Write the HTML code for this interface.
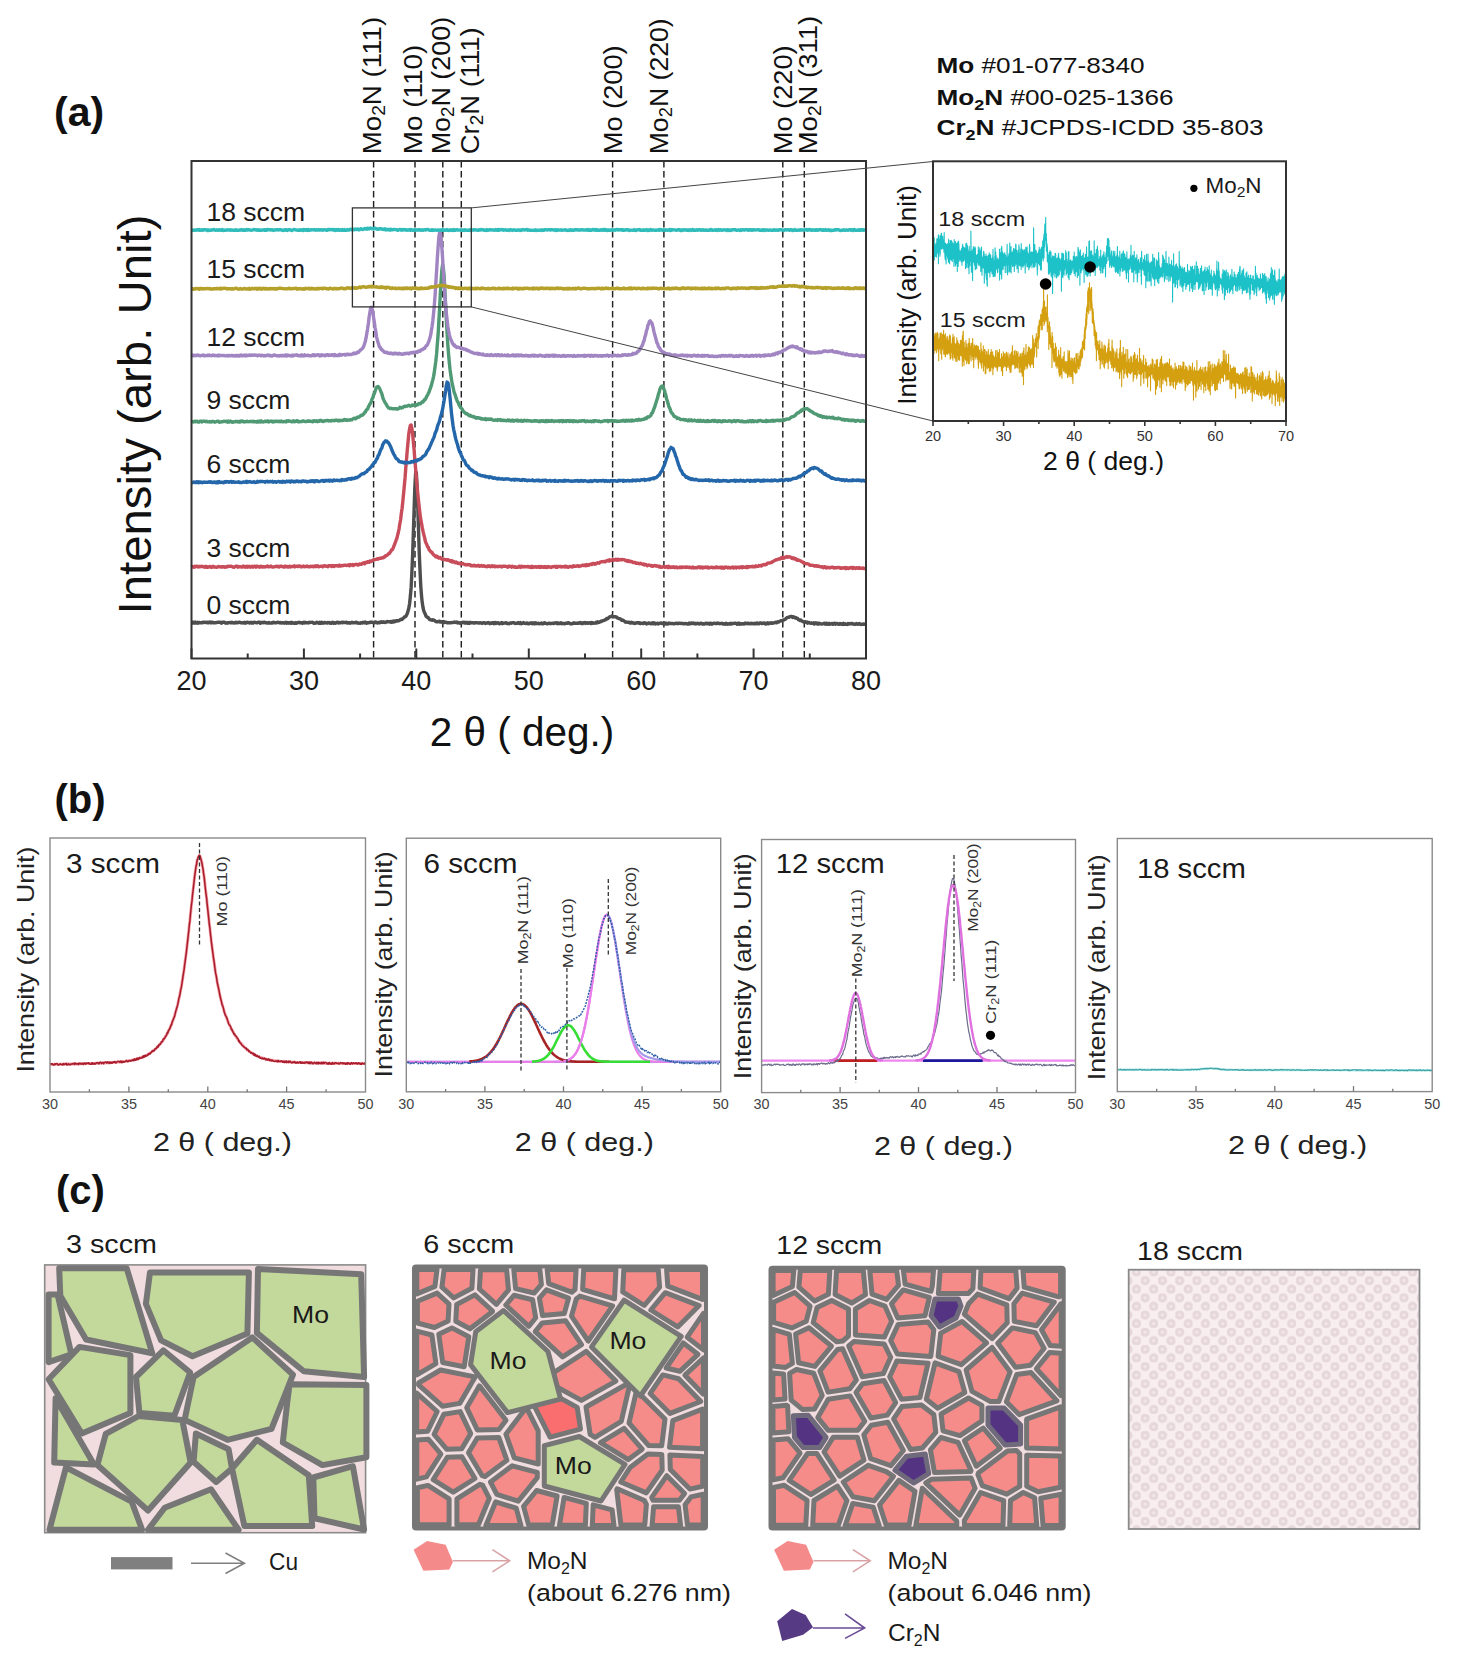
<!DOCTYPE html>
<html><head><meta charset="utf-8"><style>
html,body{margin:0;padding:0;background:#fff;}
svg{display:block;}
text{font-family:"Liberation Sans",sans-serif;}
</style></head><body>
<svg width="1461" height="1666" viewBox="0 0 1461 1666">
<rect width="1461" height="1666" fill="#fff"/>
<line x1="373.6" y1="161.0" x2="373.6" y2="658.5" stroke="#222" stroke-width="1.45" stroke-dasharray="6.5 3.5"/>
<line x1="415.0" y1="161.0" x2="415.0" y2="658.5" stroke="#222" stroke-width="1.45" stroke-dasharray="6.5 3.5"/>
<line x1="442.8" y1="161.0" x2="442.8" y2="658.5" stroke="#222" stroke-width="1.45" stroke-dasharray="6.5 3.5"/>
<line x1="461.3" y1="161.0" x2="461.3" y2="658.5" stroke="#222" stroke-width="1.45" stroke-dasharray="6.5 3.5"/>
<line x1="612.6" y1="161.0" x2="612.6" y2="658.5" stroke="#222" stroke-width="1.45" stroke-dasharray="6.5 3.5"/>
<line x1="663.9" y1="161.0" x2="663.9" y2="658.5" stroke="#222" stroke-width="1.45" stroke-dasharray="6.5 3.5"/>
<line x1="782.8" y1="161.0" x2="782.8" y2="658.5" stroke="#222" stroke-width="1.45" stroke-dasharray="6.5 3.5"/>
<line x1="804.3" y1="161.0" x2="804.3" y2="658.5" stroke="#222" stroke-width="1.45" stroke-dasharray="6.5 3.5"/>
<path d="M191.5 622.8L192.2 623.1L193.0 622.0L193.7 623.1L194.5 623.0L195.2 622.1L196.0 623.0L196.7 623.0L197.5 622.2L198.2 623.2L199.0 622.4L199.7 622.5L200.5 622.8L201.2 622.8L202.0 622.9L202.7 622.3L203.5 622.6L204.2 622.2L205.0 622.3L205.7 622.6L206.5 622.1L207.2 622.4L208.0 623.0L208.7 622.2L209.5 622.5L210.2 622.1L211.0 622.9L211.7 622.1L212.5 622.2L213.2 622.9L214.0 622.6L214.7 622.7L215.5 622.8L216.2 622.6L217.0 622.5L217.7 622.2L218.5 622.2L219.2 622.3L220.0 622.3L220.7 622.4L221.5 623.1L222.2 622.3L223.0 622.2L223.7 622.4L224.5 622.2L225.2 623.0L226.0 623.2L226.7 623.0L227.5 623.2L228.2 622.7L229.0 622.6L229.7 622.5L230.5 622.8L231.2 622.3L232.0 622.7L232.7 622.5L233.5 622.9L234.2 623.1L235.0 622.9L235.7 622.2L236.5 622.8L237.2 622.9L238.0 622.7L238.7 622.1L239.5 622.2L240.2 622.7L241.0 622.9L241.7 622.7L242.5 623.0L243.2 622.7L244.0 623.1L244.7 622.3L245.5 623.1L246.2 623.0L247.0 622.2L247.7 622.4L248.5 622.4L249.2 623.0L250.0 622.9L250.7 622.2L251.5 623.0L252.2 622.5L253.0 623.1L253.7 622.4L254.5 622.2L255.2 622.5L256.0 622.7L256.7 622.6L257.5 622.7L258.2 622.2L258.9 622.4L259.7 622.2L260.4 623.3L261.2 622.7L261.9 622.5L262.7 622.3L263.4 622.8L264.2 622.1L264.9 622.3L265.7 622.9L266.4 622.8L267.2 623.0L267.9 623.1L268.7 622.5L269.4 623.0L270.2 623.1L270.9 623.1L271.7 622.8L272.4 623.0L273.2 622.2L273.9 622.4L274.7 622.8L275.4 622.8L276.2 622.9L276.9 622.6L277.7 622.2L278.4 622.5L279.2 622.4L279.9 622.9L280.7 622.4L281.4 623.1L282.2 622.8L282.9 622.6L283.7 622.9L284.4 623.2L285.2 622.5L285.9 622.2L286.7 623.2L287.4 622.5L288.2 623.2L288.9 622.7L289.7 622.6L290.4 623.2L291.2 622.3L291.9 623.2L292.7 622.5L293.4 623.1L294.2 623.3L294.9 623.2L295.7 622.6L296.4 623.3L297.2 622.8L297.9 622.5L298.7 622.6L299.4 622.3L300.2 622.9L300.9 622.7L301.7 622.8L302.4 623.2L303.2 622.7L303.9 622.2L304.7 622.9L305.4 622.3L306.2 622.9L306.9 622.8L307.7 622.7L308.4 623.0L309.2 622.3L309.9 622.6L310.7 622.4L311.4 622.4L312.2 622.3L312.9 622.4L313.7 623.2L314.4 623.3L315.2 622.9L315.9 623.1L316.7 622.2L317.4 622.6L318.2 623.0L318.9 623.3L319.7 622.2L320.4 623.4L321.2 623.3L321.9 622.3L322.7 622.7L323.4 623.3L324.2 622.6L324.9 622.4L325.7 622.9L326.4 622.9L327.1 623.1L327.9 622.4L328.6 622.8L329.4 622.4L330.1 623.3L330.9 623.3L331.6 623.3L332.4 622.3L333.1 622.4L333.9 623.2L334.6 622.7L335.4 623.2L336.1 622.9L336.9 622.2L337.6 622.3L338.4 623.0L339.1 622.5L339.9 622.6L340.6 622.9L341.4 622.2L342.1 622.3L342.9 622.7L343.6 622.2L344.4 622.6L345.1 622.6L345.9 622.3L346.6 622.3L347.4 623.1L348.1 623.0L348.9 622.7L349.6 622.7L350.4 623.2L351.1 622.7L351.9 622.3L352.6 622.7L353.4 622.7L354.1 622.8L354.9 622.5L355.6 622.7L356.4 622.2L357.1 622.9L357.9 623.2L358.6 623.0L359.4 623.1L360.1 623.3L360.9 622.7L361.6 622.6L362.4 623.0L363.1 622.3L363.9 622.4L364.6 622.8L365.4 622.1L366.1 623.2L366.9 623.1L367.6 622.6L368.4 622.8L369.1 622.4L369.9 622.5L370.6 622.1L371.4 622.4L372.1 622.2L372.9 622.4L373.6 622.7L374.4 622.9L375.1 622.0L375.9 622.0L376.6 622.6L377.4 623.0L378.1 622.5L378.9 622.4L379.6 622.8L380.4 622.0L381.1 621.7L381.9 622.3L382.6 622.4L383.4 621.8L384.1 622.4L384.9 622.3L385.6 622.5L386.4 621.9L387.1 621.5L387.9 621.7L388.6 621.6L389.4 621.7L390.1 622.0L390.9 621.5L391.6 622.3L392.4 621.2L393.1 622.0L393.9 621.1L394.6 621.8L395.3 620.9L396.1 621.1L396.8 620.6L397.6 621.0L398.3 620.7L399.1 620.6L399.8 620.0L400.6 619.4L401.3 619.3L402.1 619.5L402.8 618.7L403.6 617.8L404.3 617.0L405.1 616.8L405.8 616.3L406.6 615.0L407.3 613.6L408.1 610.7L408.8 608.2L409.6 603.5L410.3 596.8L411.1 587.9L411.8 574.2L412.6 555.7L413.3 534.7L414.1 509.7L414.8 488.2L415.6 473.3L416.3 472.5L417.1 486.5L417.8 508.1L418.6 532.0L419.3 554.1L420.1 572.4L420.8 586.6L421.6 596.6L422.3 603.1L423.1 608.0L423.8 610.9L424.6 612.8L425.3 614.2L426.1 616.3L426.8 616.7L427.6 617.5L428.3 617.7L429.1 618.7L429.8 619.6L430.6 619.7L431.3 620.0L432.1 620.2L432.8 619.8L433.6 620.0L434.3 620.3L435.1 621.1L435.8 621.5L436.6 621.8L437.3 621.7L438.1 621.8L438.8 621.2L439.6 621.2L440.3 622.1L441.1 621.6L441.8 622.1L442.6 622.5L443.3 621.5L444.1 622.5L444.8 622.0L445.6 622.3L446.3 622.2L447.1 622.7L447.8 622.6L448.6 622.9L449.3 622.7L450.1 622.8L450.8 622.8L451.6 622.5L452.3 622.6L453.1 622.6L453.8 622.1L454.6 622.0L455.3 622.4L456.1 622.5L456.8 622.1L457.6 622.9L458.3 622.5L459.1 622.7L459.8 623.2L460.6 623.2L461.3 622.7L462.0 622.7L462.8 622.2L463.5 622.2L464.3 622.9L465.0 622.3L465.8 623.1L466.5 622.4L467.3 622.5L468.0 623.2L468.8 622.5L469.5 623.2L470.3 622.3L471.0 622.9L471.8 622.8L472.5 622.6L473.3 622.7L474.0 623.3L474.8 622.6L475.5 622.6L476.3 622.9L477.0 622.8L477.8 622.9L478.5 623.0L479.3 623.1L480.0 622.7L480.8 623.0L481.5 623.1L482.3 623.4L483.0 622.7L483.8 622.6L484.5 622.8L485.3 623.4L486.0 623.0L486.8 622.9L487.5 623.1L488.3 622.5L489.0 622.8L489.8 623.6L490.5 623.0L491.3 623.3L492.0 622.6L492.8 622.6L493.5 623.6L494.3 622.6L495.0 623.4L495.8 622.6L496.5 623.2L497.3 623.1L498.0 622.7L498.8 623.0L499.5 623.7L500.3 623.2L501.0 623.4L501.8 622.5L502.5 623.6L503.3 623.1L504.0 623.2L504.8 623.0L505.5 622.8L506.3 622.8L507.0 623.4L507.8 623.7L508.5 623.4L509.3 623.7L510.0 623.2L510.8 622.9L511.5 623.2L512.3 622.6L513.0 622.6L513.8 622.6L514.5 623.2L515.3 623.6L516.0 623.2L516.8 623.2L517.5 623.3L518.3 622.6L519.0 623.4L519.8 623.6L520.5 622.6L521.3 623.7L522.0 623.3L522.8 623.2L523.5 622.6L524.3 623.3L525.0 623.4L525.8 623.6L526.5 622.9L527.3 622.9L528.0 623.7L528.8 623.8L529.5 623.1L530.2 623.4L531.0 622.8L531.7 623.5L532.5 623.8L533.2 622.8L534.0 623.0L534.7 623.7L535.5 622.8L536.2 623.6L537.0 623.3L537.7 623.5L538.5 623.2L539.2 623.8L540.0 623.6L540.7 623.4L541.5 622.9L542.2 623.7L543.0 623.8L543.7 623.3L544.5 622.7L545.2 623.1L546.0 623.4L546.7 623.7L547.5 623.8L548.2 623.3L549.0 623.1L549.7 623.4L550.5 623.7L551.2 623.4L552.0 623.4L552.7 623.1L553.5 623.6L554.2 623.0L555.0 623.0L555.7 622.8L556.5 623.4L557.2 622.7L558.0 623.7L558.7 623.0L559.5 623.6L560.2 623.3L561.0 622.7L561.7 623.7L562.5 623.4L563.2 623.4L564.0 623.7L564.7 623.7L565.5 623.2L566.2 623.2L567.0 623.4L567.7 622.8L568.5 622.8L569.2 623.0L570.0 623.7L570.7 623.7L571.5 623.7L572.2 623.8L573.0 623.4L573.7 622.8L574.5 623.2L575.2 623.3L576.0 623.1L576.7 623.2L577.5 623.2L578.2 623.3L579.0 622.7L579.7 623.0L580.5 622.6L581.2 623.5L582.0 623.0L582.7 623.5L583.5 622.7L584.2 623.0L585.0 622.5L585.7 623.4L586.5 622.9L587.2 622.7L588.0 623.3L588.7 623.1L589.5 622.6L590.2 622.7L591.0 623.5L591.7 622.5L592.5 623.3L593.2 622.9L594.0 623.2L594.7 623.1L595.5 623.0L596.2 622.3L596.9 622.9L597.7 621.9L598.4 622.5L599.2 622.4L599.9 621.9L600.7 621.3L601.4 621.6L602.2 620.8L602.9 620.6L603.7 620.6L604.4 620.2L605.2 619.6L605.9 619.7L606.7 618.4L607.4 618.7L608.2 618.2L608.9 617.6L609.7 616.8L610.4 616.6L611.2 616.5L611.9 616.0L612.7 617.0L613.4 616.7L614.2 616.7L614.9 616.6L615.7 616.9L616.4 616.9L617.2 617.9L617.9 618.0L618.7 618.6L619.4 618.6L620.2 618.9L620.9 619.4L621.7 620.2L622.4 619.9L623.2 620.3L623.9 620.9L624.7 621.4L625.4 622.2L626.2 622.0L626.9 622.1L627.7 622.4L628.4 622.3L629.2 622.1L629.9 623.0L630.7 623.1L631.4 622.3L632.2 622.6L632.9 623.1L633.7 622.9L634.4 623.5L635.2 623.1L635.9 623.3L636.7 622.6L637.4 622.7L638.2 622.7L638.9 623.3L639.7 622.8L640.4 623.5L641.2 623.3L641.9 623.3L642.7 623.3L643.4 623.6L644.2 622.8L644.9 622.9L645.7 623.2L646.4 623.9L647.2 623.5L647.9 623.6L648.7 622.9L649.4 622.9L650.2 623.4L650.9 623.8L651.7 623.5L652.4 622.9L653.2 623.7L653.9 622.8L654.7 623.1L655.4 623.9L656.2 623.5L656.9 623.4L657.7 623.3L658.4 624.0L659.2 623.4L659.9 623.3L660.7 623.0L661.4 623.0L662.2 623.6L662.9 623.1L663.6 623.2L664.4 623.2L665.1 623.9L665.9 623.0L666.6 624.0L667.4 624.0L668.1 623.8L668.9 623.0L669.6 623.5L670.4 623.5L671.1 623.4L671.9 623.5L672.6 623.4L673.4 623.8L674.1 623.7L674.9 623.6L675.6 623.3L676.4 623.3L677.1 623.6L677.9 623.1L678.6 623.5L679.4 623.3L680.1 623.2L680.9 623.6L681.6 623.4L682.4 623.5L683.1 623.4L683.9 623.9L684.6 623.9L685.4 623.4L686.1 623.7L686.9 623.9L687.6 624.1L688.4 624.0L689.1 623.1L689.9 623.9L690.6 623.1L691.4 623.0L692.1 623.6L692.9 623.2L693.6 623.0L694.4 623.7L695.1 624.0L695.9 623.3L696.6 623.8L697.4 623.4L698.1 623.3L698.9 623.9L699.6 624.0L700.4 623.4L701.1 623.1L701.9 623.8L702.6 624.0L703.4 623.6L704.1 624.1L704.9 623.9L705.6 623.2L706.4 623.4L707.1 623.8L707.9 623.2L708.6 623.5L709.4 624.1L710.1 623.2L710.9 623.1L711.6 624.2L712.4 624.0L713.1 623.4L713.9 623.2L714.6 623.4L715.4 623.5L716.1 623.7L716.9 623.1L717.6 623.4L718.4 623.1L719.1 623.7L719.9 623.4L720.6 623.6L721.4 623.5L722.1 623.3L722.9 624.0L723.6 623.6L724.4 624.1L725.1 624.2L725.9 623.2L726.6 623.8L727.4 624.2L728.1 623.9L728.9 624.1L729.6 623.4L730.4 624.0L731.1 623.3L731.8 623.9L732.6 623.4L733.3 623.5L734.1 623.3L734.8 623.3L735.6 623.3L736.3 623.4L737.1 624.2L737.8 623.9L738.6 623.0L739.3 624.2L740.1 623.4L740.8 623.8L741.6 624.0L742.3 623.8L743.1 623.7L743.8 624.1L744.6 623.4L745.3 623.0L746.1 623.7L746.8 623.4L747.6 623.3L748.3 623.7L749.1 623.4L749.8 623.7L750.6 623.7L751.3 623.2L752.1 623.7L752.8 623.4L753.6 623.8L754.3 623.2L755.1 623.9L755.8 623.9L756.6 623.0L757.3 623.0L758.1 623.7L758.8 623.8L759.6 622.9L760.3 623.1L761.1 623.0L761.8 623.5L762.6 623.3L763.3 623.3L764.1 622.9L764.8 623.5L765.6 624.0L766.3 623.3L767.1 623.7L767.8 622.8L768.6 623.8L769.3 623.2L770.1 623.0L770.8 623.3L771.6 622.7L772.3 623.2L773.1 623.1L773.8 623.0L774.6 622.6L775.3 622.3L776.1 622.7L776.8 622.8L777.6 621.7L778.3 622.1L779.1 621.8L779.8 621.2L780.6 620.9L781.3 620.6L782.1 620.9L782.8 620.3L783.6 619.9L784.3 619.8L785.1 619.3L785.8 618.8L786.6 617.9L787.3 617.5L788.1 617.4L788.8 617.3L789.6 616.8L790.3 616.5L791.1 616.5L791.8 616.4L792.6 617.4L793.3 616.8L794.1 617.3L794.8 617.7L795.6 617.5L796.3 618.2L797.1 618.2L797.8 618.7L798.5 619.7L799.3 619.6L800.0 620.5L800.8 620.0L801.5 620.7L802.3 621.2L803.0 621.7L803.8 622.0L804.5 621.9L805.3 621.6L806.0 622.3L806.8 622.0L807.5 623.1L808.3 622.4L809.0 622.5L809.8 622.8L810.5 623.3L811.3 623.0L812.0 623.2L812.8 623.3L813.5 622.7L814.3 624.0L815.0 623.7L815.8 622.9L816.5 623.5L817.3 623.9L818.0 623.1L818.8 624.0L819.5 623.4L820.3 623.7L821.0 623.9L821.8 624.1L822.5 623.8L823.3 623.5L824.0 623.2L824.8 624.0L825.5 623.3L826.3 624.2L827.0 623.3L827.8 623.9L828.5 624.3L829.3 623.3L830.0 624.2L830.8 624.0L831.5 623.7L832.3 623.5L833.0 624.3L833.8 623.4L834.5 623.3L835.3 624.3L836.0 623.5L836.8 623.4L837.5 623.6L838.3 624.4L839.0 624.4L839.8 623.5L840.5 624.0L841.3 624.2L842.0 623.8L842.8 624.4L843.5 623.4L844.3 624.3L845.0 623.7L845.8 624.2L846.5 624.1L847.3 624.4L848.0 623.5L848.8 623.9L849.5 624.0L850.3 623.4L851.0 623.9L851.8 623.5L852.5 623.5L853.3 624.2L854.0 623.9L854.8 624.3L855.5 624.2L856.3 623.5L857.0 624.0L857.8 624.3L858.5 623.9L859.3 623.5L860.0 624.1L860.8 624.5L861.5 624.2L862.3 624.2L863.0 624.4L863.8 623.9L864.5 624.2L865.3 624.3L866.0 624.3" fill="none" stroke="#4e4e4e" stroke-width="3.4" stroke-linejoin="round"/>
<path d="M191.5 567.1L192.2 566.5L193.0 567.0L193.7 567.2L194.5 566.4L195.2 567.0L196.0 566.4L196.7 566.2L197.5 566.5L198.2 566.9L199.0 566.2L199.7 566.8L200.5 566.5L201.2 566.3L202.0 566.6L202.7 566.5L203.5 566.6L204.2 567.1L205.0 567.2L205.7 566.3L206.5 567.2L207.2 566.8L208.0 567.2L208.7 567.0L209.5 566.7L210.2 566.4L211.0 567.2L211.7 567.3L212.5 566.8L213.2 566.2L214.0 567.0L214.7 567.0L215.5 567.1L216.2 567.2L217.0 567.2L217.7 566.9L218.5 566.5L219.2 566.7L220.0 566.7L220.7 567.0L221.5 566.8L222.2 567.1L223.0 566.7L223.7 566.8L224.5 567.2L225.2 567.0L226.0 567.2L226.7 566.9L227.5 566.2L228.2 566.6L229.0 566.4L229.7 566.4L230.5 566.2L231.2 566.2L232.0 566.6L232.7 567.0L233.5 567.1L234.2 567.2L235.0 566.8L235.7 566.1L236.5 566.3L237.2 566.1L238.0 567.1L238.7 566.4L239.5 566.9L240.2 566.6L241.0 566.8L241.7 567.1L242.5 566.8L243.2 566.1L244.0 566.8L244.7 566.5L245.5 567.2L246.2 566.4L247.0 566.3L247.7 567.2L248.5 566.6L249.2 566.2L250.0 567.0L250.7 567.2L251.5 566.6L252.2 566.3L253.0 567.1L253.7 566.5L254.5 566.3L255.2 566.1L256.0 567.1L256.7 566.3L257.5 566.2L258.2 566.5L258.9 566.9L259.7 567.2L260.4 566.3L261.2 566.8L261.9 566.4L262.7 567.1L263.4 566.6L264.2 566.9L264.9 567.0L265.7 566.7L266.4 566.6L267.2 566.0L267.9 566.2L268.7 566.9L269.4 566.9L270.2 566.7L270.9 566.1L271.7 566.9L272.4 567.0L273.2 567.0L273.9 566.9L274.7 566.8L275.4 566.4L276.2 566.4L276.9 566.2L277.7 566.8L278.4 566.4L279.2 567.0L279.9 566.3L280.7 566.3L281.4 566.1L282.2 566.3L282.9 566.9L283.7 567.0L284.4 567.1L285.2 566.0L285.9 566.8L286.7 566.6L287.4 566.4L288.2 567.1L288.9 566.8L289.7 566.3L290.4 566.9L291.2 566.5L291.9 566.5L292.7 566.5L293.4 566.5L294.2 565.9L294.9 566.9L295.7 566.3L296.4 566.4L297.2 566.1L297.9 566.6L298.7 566.0L299.4 565.9L300.2 566.1L300.9 566.9L301.7 566.7L302.4 566.7L303.2 566.0L303.9 566.4L304.7 566.7L305.4 566.7L306.2 566.4L306.9 565.9L307.7 566.3L308.4 566.9L309.2 566.9L309.9 566.5L310.7 566.2L311.4 566.5L312.2 566.4L312.9 566.3L313.7 566.8L314.4 566.4L315.2 565.8L315.9 566.6L316.7 566.5L317.4 565.8L318.2 566.3L318.9 566.8L319.7 566.4L320.4 566.4L321.2 566.2L321.9 566.1L322.7 566.8L323.4 565.9L324.2 566.1L324.9 565.7L325.7 566.1L326.4 566.3L327.1 566.3L327.9 566.7L328.6 565.8L329.4 565.7L330.1 565.9L330.9 565.8L331.6 566.5L332.4 565.6L333.1 565.9L333.9 566.5L334.6 565.8L335.4 565.8L336.1 565.8L336.9 565.6L337.6 565.6L338.4 566.2L339.1 565.2L339.9 565.2L340.6 566.1L341.4 565.9L342.1 565.5L342.9 565.6L343.6 565.5L344.4 565.2L345.1 565.4L345.9 565.3L346.6 565.5L347.4 565.2L348.1 565.4L348.9 564.7L349.6 565.8L350.4 564.6L351.1 565.1L351.9 564.9L352.6 564.6L353.4 565.5L354.1 564.8L354.9 564.4L355.6 564.5L356.4 564.3L357.1 564.6L357.9 565.1L358.6 564.9L359.4 564.0L360.1 564.4L360.9 564.1L361.6 564.2L362.4 563.3L363.1 563.0L363.9 563.0L364.6 563.7L365.4 562.5L366.1 562.3L366.9 562.5L367.6 561.8L368.4 561.7L369.1 562.3L369.9 561.1L370.6 561.5L371.4 561.3L372.1 560.6L372.9 560.3L373.6 559.7L374.4 559.6L375.1 559.6L375.9 559.4L376.6 559.1L377.4 558.7L378.1 559.2L378.9 558.5L379.6 558.2L380.4 558.2L381.1 558.4L381.9 557.9L382.6 557.8L383.4 557.7L384.1 556.8L384.9 556.9L385.6 555.7L386.4 555.7L387.1 555.2L387.9 554.5L388.6 553.6L389.4 553.6L390.1 552.2L390.9 551.3L391.6 549.9L392.4 549.6L393.1 548.3L393.9 546.0L394.6 544.5L395.3 542.5L396.1 540.2L396.8 538.5L397.6 535.4L398.3 532.5L399.1 528.6L399.8 524.0L400.6 519.8L401.3 513.7L402.1 508.3L402.8 501.6L403.6 493.7L404.3 485.8L405.1 477.4L405.8 467.7L406.6 458.3L407.3 449.6L408.1 441.5L408.8 433.7L409.6 428.9L410.3 425.5L411.1 425.0L411.8 427.9L412.6 433.6L413.3 441.4L414.1 449.9L414.8 459.3L415.6 468.3L416.3 477.7L417.1 486.2L417.8 493.8L418.6 501.6L419.3 508.0L420.1 514.6L420.8 519.9L421.6 523.9L422.3 527.9L423.1 531.7L423.8 534.6L424.6 537.7L425.3 541.1L426.1 543.2L426.8 544.5L427.6 546.8L428.3 547.4L429.1 549.7L429.8 550.4L430.6 551.5L431.3 552.0L432.1 552.5L432.8 553.9L433.6 554.7L434.3 555.4L435.1 556.0L435.8 556.7L436.6 556.0L437.3 557.2L438.1 556.9L438.8 558.1L439.6 558.0L440.3 557.6L441.1 558.3L441.8 559.1L442.6 559.3L443.3 559.5L444.1 559.2L444.8 559.6L445.6 559.8L446.3 559.7L447.1 560.2L447.8 559.7L448.6 559.9L449.3 560.6L450.1 561.0L450.8 561.5L451.6 560.6L452.3 561.9L453.1 561.3L453.8 561.6L454.6 562.3L455.3 562.8L456.1 562.1L456.8 562.5L457.6 563.4L458.3 563.5L459.1 563.2L459.8 563.2L460.6 564.0L461.3 563.4L462.0 563.8L462.8 563.5L463.5 563.9L464.3 564.3L465.0 564.5L465.8 564.9L466.5 564.9L467.3 564.5L468.0 564.8L468.8 564.7L469.5 564.6L470.3 564.8L471.0 565.8L471.8 565.7L472.5 565.8L473.3 565.7L474.0 565.2L474.8 565.8L475.5 565.6L476.3 566.0L477.0 565.8L477.8 565.9L478.5 565.3L479.3 566.3L480.0 566.1L480.8 566.0L481.5 565.6L482.3 566.2L483.0 565.9L483.8 565.7L484.5 566.4L485.3 566.3L486.0 566.5L486.8 566.7L487.5 566.0L488.3 566.3L489.0 565.7L489.8 566.4L490.5 566.7L491.3 566.2L492.0 565.7L492.8 566.6L493.5 566.2L494.3 566.0L495.0 566.7L495.8 566.3L496.5 566.4L497.3 566.6L498.0 566.4L498.8 566.7L499.5 566.2L500.3 566.2L501.0 566.5L501.8 566.9L502.5 566.3L503.3 566.2L504.0 566.3L504.8 566.4L505.5 566.2L506.3 566.6L507.0 566.7L507.8 567.2L508.5 566.2L509.3 566.4L510.0 566.3L510.8 566.5L511.5 567.1L512.3 566.3L513.0 566.7L513.8 566.6L514.5 567.2L515.3 566.8L516.0 567.4L516.8 567.2L517.5 567.3L518.3 567.1L519.0 566.3L519.8 566.3L520.5 567.4L521.3 566.4L522.0 566.3L522.8 567.0L523.5 566.9L524.3 566.4L525.0 566.8L525.8 566.7L526.5 566.8L527.3 566.7L528.0 566.4L528.8 567.1L529.5 566.7L530.2 567.3L531.0 567.5L531.7 566.3L532.5 567.2L533.2 567.2L534.0 566.7L534.7 567.0L535.5 566.7L536.2 567.3L537.0 566.7L537.7 567.1L538.5 566.6L539.2 567.3L540.0 566.6L540.7 567.5L541.5 566.5L542.2 566.8L543.0 567.2L543.7 566.8L544.5 567.3L545.2 566.5L546.0 567.5L546.7 566.9L547.5 567.4L548.2 566.5L549.0 566.8L549.7 566.9L550.5 567.4L551.2 567.5L552.0 566.8L552.7 566.8L553.5 566.7L554.2 566.4L555.0 566.4L555.7 567.2L556.5 566.4L557.2 567.2L558.0 566.7L558.7 566.5L559.5 566.6L560.2 566.4L561.0 567.0L561.7 566.5L562.5 566.9L563.2 566.7L564.0 566.9L564.7 566.2L565.5 567.0L566.2 566.3L567.0 566.6L567.7 567.2L568.5 567.2L569.2 566.6L570.0 566.5L570.7 566.5L571.5 566.6L572.2 567.0L573.0 566.1L573.7 565.7L574.5 566.4L575.2 566.1L576.0 566.2L576.7 566.1L577.5 565.6L578.2 565.8L579.0 566.4L579.7 566.0L580.5 566.0L581.2 565.9L582.0 565.4L582.7 565.1L583.5 565.6L584.2 565.0L585.0 565.4L585.7 565.7L586.5 564.5L587.2 565.4L588.0 565.0L588.7 565.3L589.5 564.5L590.2 564.3L591.0 564.0L591.7 564.5L592.5 563.6L593.2 563.5L594.0 563.5L594.7 564.2L595.5 564.0L596.2 563.5L596.9 563.3L597.7 562.8L598.4 563.0L599.2 563.2L599.9 562.3L600.7 561.9L601.4 561.8L602.2 561.9L602.9 561.6L603.7 561.4L604.4 561.5L605.2 561.8L605.9 561.3L606.7 560.8L607.4 560.8L608.2 560.3L608.9 561.0L609.7 559.8L610.4 560.3L611.2 560.5L611.9 560.2L612.7 559.4L613.4 560.2L614.2 559.7L614.9 560.1L615.7 559.2L616.4 559.7L617.2 560.2L617.9 559.2L618.7 560.1L619.4 559.7L620.2 559.7L620.9 559.4L621.7 559.9L622.4 559.5L623.2 559.6L623.9 559.6L624.7 559.9L625.4 560.6L626.2 560.4L626.9 561.2L627.7 560.5L628.4 560.7L629.2 561.5L629.9 561.4L630.7 561.1L631.4 561.8L632.2 561.6L632.9 562.6L633.7 562.5L634.4 562.6L635.2 562.4L635.9 563.2L636.7 563.3L637.4 563.3L638.2 563.2L638.9 563.8L639.7 563.5L640.4 563.3L641.2 563.8L641.9 563.9L642.7 564.4L643.4 564.0L644.2 564.9L644.9 564.3L645.7 564.9L646.4 564.8L647.2 565.7L647.9 565.3L648.7 565.0L649.4 565.1L650.2 565.3L650.9 565.8L651.7 565.5L652.4 566.4L653.2 566.2L653.9 565.6L654.7 565.5L655.4 565.6L656.2 566.2L656.9 566.0L657.7 566.2L658.4 566.3L659.2 567.0L659.9 566.2L660.7 567.2L661.4 567.1L662.2 567.2L662.9 566.7L663.6 566.7L664.4 566.8L665.1 567.3L665.9 566.9L666.6 566.4L667.4 566.7L668.1 567.6L668.9 566.4L669.6 567.2L670.4 567.5L671.1 567.0L671.9 567.1L672.6 567.2L673.4 566.7L674.1 567.1L674.9 567.7L675.6 567.1L676.4 566.9L677.1 567.7L677.9 567.7L678.6 567.4L679.4 567.5L680.1 567.0L680.9 567.5L681.6 567.6L682.4 566.9L683.1 567.2L683.9 567.1L684.6 567.1L685.4 567.5L686.1 566.9L686.9 567.0L687.6 567.4L688.4 567.3L689.1 567.5L689.9 567.1L690.6 567.3L691.4 567.9L692.1 567.4L692.9 567.0L693.6 568.0L694.4 567.7L695.1 567.7L695.9 567.8L696.6 567.8L697.4 567.7L698.1 567.0L698.9 566.9L699.6 567.0L700.4 568.0L701.1 567.0L701.9 567.2L702.6 568.0L703.4 567.2L704.1 567.7L704.9 567.1L705.6 567.0L706.4 567.5L707.1 567.8L707.9 567.0L708.6 568.0L709.4 567.7L710.1 567.6L710.9 567.3L711.6 567.1L712.4 567.5L713.1 567.9L713.9 567.4L714.6 567.4L715.4 567.7L716.1 567.0L716.9 567.0L717.6 567.5L718.4 567.7L719.1 567.6L719.9 567.1L720.6 567.5L721.4 568.0L722.1 567.1L722.9 568.1L723.6 567.6L724.4 568.1L725.1 567.1L725.9 567.4L726.6 567.2L727.4 567.5L728.1 567.9L728.9 567.3L729.6 567.6L730.4 568.0L731.1 567.7L731.8 567.4L732.6 567.1L733.3 568.0L734.1 568.0L734.8 567.1L735.6 567.2L736.3 567.9L737.1 567.2L737.8 567.2L738.6 567.5L739.3 567.8L740.1 566.9L740.8 567.4L741.6 566.8L742.3 567.6L743.1 566.8L743.8 567.4L744.6 567.1L745.3 567.2L746.1 567.6L746.8 566.5L747.6 567.4L748.3 566.8L749.1 567.1L749.8 566.7L750.6 566.6L751.3 566.5L752.1 566.8L752.8 566.2L753.6 566.8L754.3 566.8L755.1 566.7L755.8 565.9L756.6 566.5L757.3 566.4L758.1 566.3L758.8 565.5L759.6 565.8L760.3 565.4L761.1 566.0L761.8 565.8L762.6 564.8L763.3 564.6L764.1 564.5L764.8 564.9L765.6 564.5L766.3 564.6L767.1 563.4L767.8 563.1L768.6 563.0L769.3 563.1L770.1 562.8L770.8 562.5L771.6 562.6L772.3 561.9L773.1 561.3L773.8 561.0L774.6 560.6L775.3 560.3L776.1 559.8L776.8 559.7L777.6 559.6L778.3 558.9L779.1 559.0L779.8 559.1L780.6 558.6L781.3 557.7L782.1 557.5L782.8 558.4L783.6 557.2L784.3 557.9L785.1 557.2L785.8 557.1L786.6 556.6L787.3 557.3L788.1 557.0L788.8 556.7L789.6 556.9L790.3 557.2L791.1 557.4L791.8 558.3L792.6 558.5L793.3 557.7L794.1 558.5L794.8 559.1L795.6 558.5L796.3 559.8L797.1 560.2L797.8 559.8L798.5 560.3L799.3 560.2L800.0 560.8L800.8 560.9L801.5 561.7L802.3 562.0L803.0 562.2L803.8 563.2L804.5 563.0L805.3 563.7L806.0 563.9L806.8 563.7L807.5 563.7L808.3 564.1L809.0 564.1L809.8 565.2L810.5 565.4L811.3 565.4L812.0 565.3L812.8 565.4L813.5 565.5L814.3 566.0L815.0 565.8L815.8 566.1L816.5 565.8L817.3 566.5L818.0 565.9L818.8 566.1L819.5 566.3L820.3 566.9L821.0 566.9L821.8 567.1L822.5 566.7L823.3 567.6L824.0 567.0L824.8 566.7L825.5 567.5L826.3 567.9L827.0 567.2L827.8 567.7L828.5 567.4L829.3 567.7L830.0 567.9L830.8 567.5L831.5 567.4L832.3 567.1L833.0 567.2L833.8 568.0L834.5 568.1L835.3 567.7L836.0 567.7L836.8 567.9L837.5 567.4L838.3 567.6L839.0 567.5L839.8 567.6L840.5 568.3L841.3 567.7L842.0 568.3L842.8 567.9L843.5 567.9L844.3 567.6L845.0 568.4L845.8 567.5L846.5 568.5L847.3 567.7L848.0 568.4L848.8 568.5L849.5 567.7L850.3 567.7L851.0 567.7L851.8 567.5L852.5 568.5L853.3 567.7L854.0 567.5L854.8 568.1L855.5 568.5L856.3 567.9L857.0 567.6L857.8 568.3L858.5 568.4L859.3 567.6L860.0 568.3L860.8 568.1L861.5 568.3L862.3 568.4L863.0 567.9L863.8 568.6L864.5 568.4L865.3 568.6L866.0 568.4" fill="none" stroke="#c84c5a" stroke-width="3.4" stroke-linejoin="round"/>
<path d="M191.5 422.2L192.2 421.6L193.0 421.9L193.7 422.0L194.5 421.3L195.2 421.2L196.0 421.8L196.7 421.2L197.5 421.5L198.2 422.1L199.0 422.1L199.7 421.2L200.5 421.2L201.2 421.3L202.0 422.0L202.7 421.1L203.5 421.3L204.2 421.2L205.0 421.2L205.7 421.7L206.5 421.3L207.2 421.5L208.0 421.9L208.7 421.9L209.5 421.5L210.2 422.0L211.0 421.7L211.7 422.0L212.5 421.3L213.2 421.5L214.0 421.7L214.7 422.2L215.5 421.8L216.2 421.6L217.0 421.3L217.7 421.4L218.5 421.3L219.2 422.2L220.0 422.1L220.7 422.1L221.5 421.7L222.2 421.9L223.0 421.4L223.7 421.6L224.5 421.2L225.2 421.5L226.0 421.3L226.7 421.1L227.5 422.1L228.2 421.1L229.0 422.0L229.7 421.8L230.5 421.1L231.2 421.6L232.0 422.2L232.7 422.2L233.5 421.7L234.2 421.9L235.0 421.8L235.7 421.3L236.5 421.6L237.2 421.7L238.0 421.5L238.7 422.0L239.5 421.5L240.2 421.9L241.0 421.0L241.7 421.5L242.5 421.0L243.2 421.7L244.0 422.0L244.7 421.6L245.5 421.6L246.2 421.7L247.0 421.2L247.7 421.4L248.5 421.6L249.2 421.7L250.0 421.4L250.7 421.5L251.5 421.3L252.2 421.6L253.0 421.7L253.7 421.3L254.5 421.8L255.2 421.9L256.0 421.6L256.7 422.1L257.5 421.3L258.2 422.0L258.9 421.1L259.7 421.3L260.4 421.9L261.2 420.9L261.9 421.6L262.7 421.9L263.4 422.0L264.2 421.7L264.9 421.3L265.7 421.3L266.4 421.6L267.2 421.0L267.9 420.9L268.7 421.9L269.4 421.6L270.2 421.1L270.9 421.4L271.7 421.2L272.4 421.9L273.2 421.2L273.9 421.7L274.7 421.7L275.4 421.2L276.2 421.1L276.9 421.5L277.7 421.3L278.4 421.5L279.2 421.2L279.9 421.8L280.7 421.3L281.4 421.0L282.2 421.7L282.9 421.9L283.7 421.6L284.4 421.4L285.2 421.8L285.9 421.9L286.7 420.8L287.4 421.4L288.2 420.8L288.9 421.2L289.7 421.0L290.4 421.3L291.2 421.6L291.9 421.8L292.7 421.0L293.4 420.7L294.2 421.9L294.9 421.7L295.7 421.4L296.4 420.8L297.2 420.8L297.9 421.8L298.7 421.3L299.4 421.7L300.2 421.6L300.9 421.6L301.7 421.6L302.4 421.0L303.2 420.9L303.9 421.2L304.7 421.5L305.4 421.6L306.2 421.5L306.9 421.3L307.7 421.2L308.4 420.8L309.2 421.4L309.9 421.3L310.7 421.2L311.4 421.4L312.2 421.7L312.9 421.7L313.7 420.6L314.4 420.8L315.2 421.2L315.9 421.3L316.7 420.8L317.4 421.6L318.2 421.0L318.9 421.3L319.7 420.5L320.4 420.7L321.2 420.4L321.9 421.3L322.7 421.0L323.4 421.5L324.2 421.1L324.9 420.7L325.7 420.7L326.4 420.7L327.1 420.5L327.9 420.4L328.6 421.0L329.4 420.6L330.1 420.7L330.9 421.0L331.6 420.5L332.4 420.6L333.1 420.5L333.9 420.4L334.6 420.8L335.4 420.1L336.1 420.4L336.9 420.1L337.6 420.7L338.4 420.2L339.1 421.0L339.9 420.4L340.6 420.5L341.4 420.3L342.1 420.6L342.9 420.4L343.6 420.3L344.4 419.5L345.1 419.6L345.9 420.3L346.6 419.8L347.4 420.4L348.1 419.9L348.9 420.1L349.6 419.9L350.4 420.0L351.1 419.6L351.9 419.8L352.6 419.0L353.4 418.7L354.1 418.3L354.9 418.3L355.6 418.8L356.4 418.3L357.1 417.3L357.9 417.0L358.6 417.2L359.4 416.9L360.1 416.2L360.9 415.3L361.6 415.1L362.4 415.3L363.1 414.4L363.9 413.8L364.6 412.4L365.4 412.0L366.1 410.4L366.9 409.5L367.6 409.1L368.4 406.9L369.1 405.6L369.9 404.0L370.6 403.1L371.4 401.1L372.1 399.1L372.9 397.5L373.6 394.9L374.4 393.4L375.1 391.2L375.9 388.8L376.6 387.3L377.4 386.8L378.1 386.5L378.9 387.4L379.6 388.4L380.4 390.3L381.1 392.1L381.9 393.9L382.6 396.7L383.4 399.1L384.1 400.6L384.9 402.4L385.6 403.4L386.4 404.5L387.1 406.0L387.9 407.0L388.6 407.9L389.4 408.1L390.1 408.6L390.9 408.3L391.6 408.5L392.4 408.7L393.1 408.9L393.9 408.8L394.6 408.6L395.3 408.7L396.1 408.6L396.8 409.0L397.6 409.0L398.3 408.9L399.1 408.4L399.8 407.3L400.6 407.4L401.3 408.1L402.1 407.5L402.8 407.5L403.6 406.6L404.3 406.4L405.1 406.1L405.8 406.5L406.6 406.1L407.3 406.1L408.1 405.6L408.8 405.3L409.6 405.7L410.3 406.2L411.1 405.8L411.8 405.6L412.6 404.9L413.3 405.3L414.1 405.1L414.8 405.3L415.6 404.9L416.3 405.2L417.1 404.4L417.8 404.7L418.6 403.6L419.3 403.5L420.1 403.9L420.8 403.6L421.6 402.4L422.3 401.7L423.1 402.0L423.8 400.8L424.6 399.4L425.3 399.5L426.1 397.8L426.8 396.3L427.6 395.1L428.3 393.4L429.1 391.9L429.8 389.8L430.6 387.6L431.3 385.6L432.1 382.4L432.8 379.9L433.6 376.3L434.3 372.4L435.1 366.4L435.8 361.3L436.6 353.9L437.3 344.5L438.1 335.0L438.8 322.4L439.6 308.4L440.3 294.1L441.1 281.4L441.8 270.5L442.6 264.7L443.3 267.8L444.1 275.7L444.8 289.7L445.6 304.5L446.3 319.5L447.1 333.0L447.8 344.5L448.6 354.6L449.3 362.5L450.1 369.9L450.8 375.0L451.6 380.2L452.3 384.2L453.1 387.3L453.8 390.9L454.6 393.5L455.3 395.2L456.1 397.9L456.8 399.8L457.6 401.8L458.3 402.7L459.1 405.0L459.8 406.0L460.6 407.7L461.3 408.2L462.0 408.9L462.8 410.4L463.5 411.4L464.3 412.3L465.0 412.7L465.8 413.7L466.5 413.4L467.3 413.8L468.0 414.6L468.8 415.3L469.5 415.8L470.3 415.3L471.0 416.2L471.8 416.2L472.5 416.7L473.3 416.4L474.0 416.7L474.8 417.5L475.5 417.3L476.3 418.2L477.0 417.8L477.8 417.8L478.5 417.7L479.3 418.3L480.0 418.4L480.8 418.2L481.5 419.1L482.3 418.7L483.0 419.1L483.8 419.1L484.5 419.4L485.3 418.6L486.0 419.7L486.8 419.3L487.5 418.9L488.3 419.4L489.0 418.9L489.8 419.4L490.5 419.0L491.3 419.0L492.0 419.6L492.8 420.1L493.5 420.1L494.3 420.3L495.0 420.2L495.8 420.0L496.5 420.1L497.3 420.5L498.0 419.6L498.8 420.1L499.5 420.1L500.3 419.5L501.0 420.6L501.8 420.4L502.5 420.0L503.3 420.6L504.0 420.3L504.8 420.6L505.5 420.4L506.3 420.8L507.0 420.4L507.8 419.9L508.5 420.8L509.3 420.1L510.0 420.6L510.8 421.0L511.5 420.8L512.3 420.0L513.0 421.0L513.8 421.2L514.5 420.6L515.3 420.3L516.0 420.6L516.8 420.7L517.5 420.1L518.3 421.1L519.0 420.9L519.8 420.6L520.5 421.1L521.3 420.4L522.0 421.2L522.8 421.2L523.5 420.8L524.3 420.3L525.0 420.8L525.8 420.4L526.5 420.9L527.3 420.4L528.0 420.9L528.8 420.8L529.5 420.7L530.2 421.0L531.0 421.0L531.7 421.4L532.5 420.9L533.2 421.0L534.0 421.2L534.7 420.6L535.5 421.0L536.2 420.6L537.0 421.0L537.7 421.0L538.5 421.5L539.2 421.6L540.0 420.8L540.7 421.4L541.5 420.9L542.2 420.7L543.0 421.2L543.7 420.8L544.5 421.6L545.2 421.5L546.0 420.5L546.7 421.6L547.5 421.5L548.2 420.6L549.0 421.3L549.7 421.2L550.5 420.7L551.2 421.3L552.0 420.5L552.7 420.9L553.5 421.1L554.2 421.5L555.0 421.0L555.7 420.9L556.5 421.1L557.2 421.2L558.0 421.0L558.7 420.7L559.5 421.5L560.2 420.8L561.0 420.8L561.7 420.8L562.5 421.7L563.2 420.6L564.0 421.3L564.7 421.2L565.5 420.8L566.2 421.5L567.0 420.8L567.7 420.7L568.5 420.6L569.2 421.4L570.0 420.6L570.7 421.3L571.5 421.4L572.2 420.7L573.0 421.7L573.7 420.7L574.5 421.0L575.2 421.5L576.0 420.9L576.7 421.5L577.5 421.4L578.2 421.5L579.0 421.0L579.7 420.9L580.5 421.2L581.2 421.3L582.0 420.6L582.7 420.7L583.5 420.9L584.2 420.6L585.0 421.5L585.7 421.8L586.5 421.2L587.2 421.0L588.0 421.1L588.7 421.6L589.5 421.4L590.2 421.2L591.0 421.3L591.7 421.7L592.5 421.3L593.2 420.8L594.0 421.6L594.7 420.6L595.5 420.7L596.2 420.8L596.9 421.0L597.7 421.2L598.4 421.5L599.2 420.9L599.9 421.6L600.7 421.7L601.4 421.6L602.2 421.5L602.9 421.2L603.7 421.1L604.4 420.7L605.2 421.0L605.9 420.8L606.7 420.9L607.4 420.6L608.2 421.6L608.9 421.0L609.7 420.6L610.4 420.6L611.2 421.0L611.9 420.5L612.7 421.2L613.4 420.8L614.2 421.2L614.9 420.8L615.7 420.9L616.4 421.4L617.2 420.9L617.9 421.5L618.7 421.2L619.4 421.2L620.2 421.2L620.9 421.0L621.7 420.7L622.4 421.1L623.2 420.3L623.9 420.5L624.7 421.2L625.4 421.2L626.2 420.2L626.9 421.1L627.7 420.6L628.4 420.3L629.2 421.1L629.9 420.7L630.7 420.3L631.4 421.0L632.2 420.0L632.9 420.7L633.7 420.7L634.4 420.6L635.2 420.2L635.9 420.0L636.7 419.8L637.4 420.4L638.2 420.0L638.9 419.3L639.7 420.0L640.4 420.0L641.2 419.9L641.9 419.4L642.7 419.5L643.4 419.3L644.2 419.3L644.9 418.4L645.7 418.1L646.4 418.6L647.2 417.5L647.9 416.8L648.7 417.1L649.4 416.6L650.2 416.0L650.9 415.3L651.7 413.1L652.4 412.9L653.2 410.7L653.9 408.8L654.7 407.0L655.4 404.6L656.2 402.1L656.9 399.7L657.7 397.4L658.4 394.1L659.2 392.3L659.9 389.0L660.7 387.4L661.4 386.3L662.2 386.0L662.9 386.5L663.6 388.6L664.4 390.2L665.1 392.8L665.9 395.4L666.6 399.1L667.4 401.0L668.1 403.8L668.9 406.6L669.6 407.9L670.4 409.9L671.1 412.1L671.9 413.2L672.6 413.7L673.4 415.2L674.1 416.3L674.9 416.6L675.6 416.9L676.4 417.3L677.1 418.5L677.9 418.2L678.6 418.2L679.4 418.6L680.1 419.2L680.9 419.6L681.6 419.6L682.4 419.6L683.1 419.5L683.9 419.4L684.6 420.1L685.4 419.8L686.1 419.8L686.9 420.4L687.6 420.7L688.4 420.7L689.1 419.8L689.9 420.7L690.6 420.5L691.4 419.9L692.1 420.9L692.9 420.6L693.6 420.6L694.4 420.1L695.1 420.7L695.9 420.7L696.6 421.1L697.4 421.2L698.1 420.3L698.9 421.3L699.6 420.7L700.4 420.3L701.1 421.2L701.9 421.3L702.6 421.2L703.4 420.5L704.1 421.2L704.9 421.5L705.6 421.5L706.4 420.8L707.1 421.4L707.9 420.5L708.6 421.5L709.4 421.1L710.1 421.2L710.9 421.4L711.6 420.8L712.4 420.7L713.1 420.5L713.9 421.3L714.6 420.5L715.4 420.5L716.1 421.3L716.9 421.1L717.6 421.7L718.4 420.7L719.1 421.2L719.9 420.8L720.6 421.5L721.4 421.7L722.1 421.7L722.9 420.7L723.6 421.4L724.4 421.2L725.1 420.7L725.9 421.1L726.6 421.4L727.4 421.4L728.1 421.1L728.9 420.7L729.6 421.0L730.4 421.0L731.1 421.0L731.8 421.7L732.6 421.3L733.3 421.3L734.1 420.6L734.8 421.0L735.6 421.5L736.3 420.8L737.1 420.6L737.8 420.9L738.6 420.7L739.3 421.3L740.1 421.0L740.8 421.6L741.6 421.5L742.3 421.0L743.1 421.7L743.8 421.6L744.6 421.7L745.3 421.7L746.1 421.6L746.8 421.7L747.6 421.1L748.3 421.7L749.1 420.9L749.8 421.3L750.6 420.6L751.3 421.7L752.1 421.3L752.8 420.6L753.6 421.7L754.3 421.3L755.1 421.0L755.8 421.1L756.6 421.6L757.3 421.6L758.1 420.6L758.8 420.8L759.6 420.7L760.3 420.5L761.1 420.6L761.8 421.1L762.6 421.2L763.3 421.3L764.1 421.4L764.8 421.2L765.6 421.5L766.3 420.4L767.1 421.5L767.8 420.9L768.6 421.2L769.3 421.0L770.1 421.2L770.8 421.1L771.6 420.4L772.3 420.9L773.1 420.2L773.8 421.2L774.6 421.0L775.3 420.5L776.1 420.5L776.8 420.4L777.6 420.1L778.3 420.6L779.1 420.7L779.8 420.2L780.6 420.3L781.3 420.7L782.1 420.4L782.8 419.7L783.6 419.7L784.3 420.3L785.1 419.9L785.8 419.1L786.6 419.3L787.3 419.0L788.1 419.1L788.8 419.1L789.6 418.7L790.3 417.8L791.1 417.4L791.8 416.9L792.6 416.6L793.3 416.6L794.1 416.2L794.8 415.5L795.6 415.2L796.3 413.9L797.1 413.4L797.8 412.8L798.5 412.8L799.3 412.2L800.0 411.2L800.8 411.3L801.5 410.1L802.3 410.4L803.0 410.0L803.8 408.8L804.5 409.2L805.3 409.1L806.0 408.6L806.8 408.7L807.5 408.8L808.3 409.4L809.0 410.2L809.8 410.2L810.5 411.2L811.3 411.2L812.0 412.0L812.8 412.1L813.5 413.0L814.3 413.5L815.0 413.8L815.8 414.0L816.5 414.1L817.3 414.6L818.0 415.5L818.8 415.7L819.5 415.4L820.3 416.4L821.0 415.9L821.8 416.1L822.5 417.2L823.3 416.7L824.0 416.8L824.8 417.2L825.5 417.1L826.3 417.0L827.0 417.8L827.8 417.5L828.5 417.4L829.3 417.3L830.0 417.6L830.8 417.9L831.5 417.5L832.3 417.4L833.0 417.3L833.8 418.4L834.5 418.6L835.3 418.5L836.0 418.4L836.8 418.6L837.5 418.7L838.3 418.1L839.0 418.5L839.8 418.7L840.5 418.6L841.3 419.2L842.0 419.8L842.8 419.7L843.5 419.3L844.3 419.5L845.0 420.2L845.8 419.9L846.5 419.6L847.3 420.1L848.0 419.7L848.8 420.5L849.5 420.1L850.3 420.2L851.0 420.7L851.8 420.0L852.5 420.5L853.3 420.1L854.0 420.5L854.8 420.5L855.5 421.3L856.3 421.1L857.0 420.4L857.8 420.4L858.5 420.5L859.3 420.8L860.0 421.1L860.8 421.4L861.5 420.9L862.3 420.6L863.0 420.5L863.8 421.1L864.5 421.3L865.3 421.4L866.0 420.6" fill="none" stroke="#4f9a74" stroke-width="3.4" stroke-linejoin="round"/>
<path d="M191.5 482.8L192.2 482.7L193.0 482.6L193.7 481.9L194.5 482.1L195.2 482.5L196.0 482.6L196.7 481.7L197.5 481.9L198.2 482.7L199.0 481.8L199.7 482.4L200.5 482.0L201.2 482.4L202.0 482.7L202.7 482.3L203.5 482.1L204.2 482.0L205.0 482.4L205.7 482.4L206.5 482.1L207.2 482.2L208.0 482.3L208.7 481.9L209.5 481.8L210.2 482.3L211.0 481.7L211.7 482.3L212.5 482.6L213.2 482.6L214.0 481.9L214.7 482.1L215.5 482.7L216.2 482.0L217.0 482.8L217.7 481.8L218.5 482.6L219.2 481.6L220.0 482.4L220.7 482.5L221.5 482.2L222.2 482.3L223.0 482.6L223.7 482.7L224.5 481.7L225.2 482.2L226.0 481.6L226.7 482.0L227.5 481.7L228.2 481.7L229.0 482.3L229.7 481.6L230.5 481.7L231.2 481.5L232.0 482.5L232.7 481.8L233.5 481.6L234.2 482.2L235.0 482.3L235.7 482.2L236.5 482.1L237.2 482.1L238.0 482.3L238.7 481.8L239.5 482.5L240.2 482.3L241.0 482.5L241.7 482.5L242.5 482.4L243.2 482.0L244.0 482.0L244.7 482.3L245.5 482.1L246.2 481.4L247.0 482.5L247.7 481.6L248.5 482.0L249.2 481.9L250.0 481.5L250.7 482.1L251.5 482.1L252.2 482.3L253.0 482.1L253.7 481.7L254.5 482.0L255.2 482.5L256.0 482.1L256.7 482.3L257.5 481.3L258.2 482.1L258.9 481.6L259.7 481.5L260.4 481.7L261.2 481.5L261.9 481.4L262.7 481.5L263.4 481.6L264.2 481.6L264.9 482.2L265.7 481.4L266.4 481.5L267.2 481.3L267.9 481.9L268.7 481.5L269.4 481.9L270.2 481.5L270.9 481.5L271.7 481.8L272.4 481.3L273.2 482.3L273.9 481.9L274.7 481.7L275.4 481.8L276.2 482.3L276.9 481.8L277.7 481.6L278.4 481.4L279.2 481.6L279.9 482.1L280.7 481.9L281.4 481.4L282.2 482.2L282.9 481.3L283.7 481.5L284.4 482.0L285.2 482.2L285.9 481.6L286.7 481.1L287.4 481.7L288.2 481.5L288.9 481.1L289.7 481.4L290.4 482.1L291.2 481.0L291.9 481.2L292.7 481.2L293.4 481.9L294.2 481.3L294.9 481.8L295.7 481.7L296.4 480.9L297.2 481.4L297.9 481.0L298.7 481.8L299.4 481.5L300.2 481.3L300.9 481.8L301.7 481.8L302.4 480.9L303.2 480.9L303.9 481.2L304.7 481.2L305.4 481.3L306.2 481.3L306.9 481.9L307.7 481.5L308.4 481.9L309.2 481.4L309.9 481.0L310.7 481.4L311.4 480.8L312.2 481.3L312.9 480.8L313.7 481.7L314.4 480.9L315.2 481.6L315.9 480.8L316.7 480.8L317.4 480.8L318.2 481.5L318.9 481.5L319.7 481.3L320.4 481.1L321.2 480.6L321.9 480.7L322.7 480.4L323.4 481.4L324.2 480.5L324.9 481.1L325.7 480.3L326.4 480.6L327.1 480.9L327.9 480.4L328.6 480.2L329.4 481.2L330.1 480.4L330.9 480.1L331.6 480.9L332.4 481.2L333.1 480.6L333.9 479.9L334.6 480.4L335.4 480.6L336.1 480.1L336.9 480.2L337.6 480.6L338.4 480.4L339.1 480.6L339.9 480.7L340.6 480.1L341.4 480.6L342.1 479.5L342.9 479.9L343.6 480.0L344.4 480.3L345.1 479.7L345.9 479.5L346.6 480.0L347.4 479.4L348.1 478.8L348.9 479.1L349.6 478.8L350.4 479.1L351.1 479.2L351.9 478.1L352.6 478.3L353.4 478.8L354.1 478.5L354.9 478.2L355.6 477.5L356.4 477.9L357.1 477.5L357.9 477.1L358.6 476.5L359.4 476.2L360.1 475.2L360.9 474.7L361.6 474.2L362.4 473.8L363.1 473.8L363.9 473.8L364.6 472.8L365.4 472.5L366.1 471.9L366.9 471.5L367.6 470.0L368.4 469.6L369.1 469.4L369.9 468.0L370.6 467.6L371.4 466.5L372.1 465.4L372.9 464.5L373.6 463.8L374.4 462.4L375.1 462.3L375.9 460.4L376.6 459.0L377.4 458.2L378.1 455.7L378.9 454.9L379.6 452.8L380.4 450.5L381.1 449.0L381.9 447.9L382.6 445.0L383.4 443.7L384.1 442.3L384.9 441.8L385.6 440.8L386.4 441.5L387.1 441.2L387.9 442.7L388.6 442.8L389.4 444.3L390.1 445.6L390.9 447.3L391.6 449.2L392.4 451.3L393.1 452.8L393.9 454.5L394.6 455.3L395.3 457.0L396.1 458.5L396.8 458.7L397.6 459.4L398.3 460.1L399.1 461.6L399.8 461.7L400.6 461.9L401.3 462.2L402.1 461.9L402.8 462.2L403.6 462.8L404.3 462.3L405.1 462.6L405.8 463.1L406.6 462.2L407.3 462.4L408.1 462.7L408.8 462.6L409.6 462.5L410.3 462.5L411.1 462.0L411.8 461.4L412.6 461.6L413.3 462.0L414.1 461.0L414.8 460.9L415.6 460.6L416.3 461.2L417.1 460.0L417.8 459.7L418.6 460.0L419.3 459.7L420.1 458.9L420.8 458.8L421.6 458.3L422.3 457.3L423.1 456.2L423.8 456.2L424.6 455.3L425.3 454.8L426.1 453.5L426.8 451.6L427.6 450.6L428.3 449.4L429.1 448.5L429.8 446.5L430.6 444.9L431.3 443.1L432.1 441.4L432.8 439.8L433.6 438.1L434.3 436.3L435.1 433.3L435.8 431.7L436.6 430.0L437.3 427.1L438.1 424.5L438.8 422.9L439.6 420.8L440.3 417.5L441.1 415.0L441.8 412.4L442.6 409.2L443.3 405.0L444.1 400.5L444.8 395.9L445.6 391.2L446.3 385.8L447.1 382.1L447.8 382.6L448.6 384.9L449.3 390.8L450.1 398.2L450.8 405.8L451.6 414.1L452.3 420.0L453.1 426.0L453.8 430.1L454.6 433.4L455.3 437.2L456.1 440.1L456.8 442.5L457.6 444.8L458.3 447.8L459.1 450.1L459.8 452.1L460.6 453.1L461.3 455.3L462.0 456.5L462.8 458.7L463.5 460.2L464.3 460.4L465.0 461.9L465.8 463.9L466.5 465.1L467.3 465.9L468.0 465.9L468.8 467.4L469.5 468.4L470.3 468.9L471.0 469.6L471.8 470.5L472.5 470.2L473.3 471.4L474.0 472.4L474.8 472.3L475.5 472.6L476.3 472.7L477.0 474.0L477.8 474.1L478.5 474.7L479.3 475.1L480.0 475.0L480.8 475.5L481.5 475.7L482.3 475.8L483.0 475.7L483.8 476.2L484.5 476.5L485.3 476.1L486.0 476.9L486.8 476.8L487.5 476.7L488.3 476.9L489.0 477.7L489.8 476.8L490.5 476.9L491.3 477.5L492.0 477.2L492.8 478.2L493.5 478.4L494.3 477.8L495.0 477.9L495.8 478.4L496.5 478.7L497.3 478.5L498.0 478.9L498.8 478.3L499.5 478.6L500.3 478.9L501.0 479.1L501.8 478.7L502.5 478.7L503.3 479.4L504.0 479.2L504.8 479.1L505.5 478.8L506.3 479.0L507.0 478.8L507.8 479.0L508.5 478.9L509.3 479.1L510.0 479.6L510.8 479.6L511.5 480.0L512.3 479.7L513.0 479.4L513.8 479.5L514.5 480.1L515.3 479.2L516.0 479.4L516.8 479.8L517.5 479.4L518.3 479.8L519.0 479.5L519.8 480.1L520.5 480.4L521.3 479.9L522.0 480.4L522.8 479.5L523.5 479.6L524.3 479.7L525.0 480.5L525.8 479.9L526.5 480.3L527.3 480.7L528.0 480.3L528.8 480.1L529.5 480.3L530.2 480.5L531.0 480.4L531.7 480.4L532.5 479.9L533.2 480.9L534.0 480.7L534.7 480.9L535.5 480.8L536.2 480.1L537.0 480.4L537.7 480.6L538.5 480.1L539.2 480.9L540.0 480.5L540.7 480.6L541.5 481.1L542.2 480.3L543.0 480.4L543.7 480.7L544.5 480.1L545.2 480.3L546.0 480.3L546.7 481.2L547.5 480.8L548.2 481.0L549.0 480.8L549.7 480.5L550.5 480.5L551.2 481.2L552.0 480.9L552.7 480.9L553.5 480.6L554.2 481.2L555.0 480.4L555.7 481.2L556.5 481.0L557.2 481.0L558.0 481.4L558.7 480.8L559.5 480.8L560.2 480.7L561.0 481.0L561.7 481.2L562.5 481.1L563.2 480.5L564.0 481.2L564.7 480.3L565.5 481.0L566.2 480.5L567.0 480.6L567.7 480.9L568.5 480.4L569.2 481.1L570.0 481.1L570.7 481.2L571.5 480.9L572.2 481.3L573.0 481.2L573.7 481.0L574.5 481.1L575.2 480.6L576.0 481.0L576.7 480.6L577.5 480.5L578.2 481.0L579.0 481.4L579.7 480.9L580.5 480.5L581.2 481.1L582.0 480.6L582.7 481.1L583.5 481.2L584.2 480.6L585.0 480.7L585.7 480.9L586.5 481.1L587.2 481.2L588.0 481.5L588.7 481.1L589.5 481.5L590.2 480.6L591.0 480.6L591.7 481.5L592.5 481.3L593.2 480.8L594.0 480.4L594.7 480.6L595.5 480.8L596.2 480.4L596.9 481.1L597.7 481.4L598.4 480.7L599.2 480.8L599.9 480.7L600.7 480.8L601.4 481.1L602.2 480.7L602.9 480.4L603.7 480.4L604.4 481.4L605.2 481.1L605.9 480.5L606.7 480.8L607.4 481.2L608.2 480.8L608.9 481.1L609.7 481.5L610.4 480.7L611.2 480.8L611.9 480.5L612.7 481.1L613.4 480.8L614.2 480.9L614.9 480.6L615.7 481.0L616.4 481.0L617.2 481.3L617.9 481.1L618.7 480.3L619.4 480.4L620.2 480.7L620.9 480.4L621.7 480.4L622.4 480.4L623.2 481.2L623.9 480.3L624.7 481.1L625.4 480.7L626.2 481.0L626.9 480.6L627.7 480.4L628.4 480.5L629.2 481.1L629.9 480.9L630.7 480.8L631.4 480.5L632.2 480.9L632.9 480.1L633.7 480.5L634.4 480.3L635.2 480.4L635.9 480.8L636.7 480.0L637.4 480.1L638.2 480.4L638.9 480.1L639.7 480.7L640.4 480.1L641.2 479.6L641.9 479.8L642.7 479.8L643.4 479.9L644.2 479.3L644.9 480.4L645.7 479.7L646.4 480.0L647.2 479.6L647.9 479.5L648.7 479.2L649.4 479.8L650.2 478.8L650.9 479.1L651.7 478.6L652.4 478.5L653.2 478.0L653.9 478.8L654.7 477.7L655.4 477.9L656.2 477.5L656.9 477.2L657.7 476.1L658.4 475.5L659.2 475.1L659.9 473.8L660.7 472.4L661.4 471.3L662.2 470.5L662.9 468.2L663.6 466.8L664.4 465.0L665.1 462.9L665.9 460.5L666.6 458.3L667.4 456.2L668.1 453.4L668.9 451.2L669.6 449.5L670.4 448.7L671.1 447.4L671.9 448.2L672.6 448.1L673.4 449.2L674.1 451.6L674.9 453.2L675.6 456.0L676.4 457.6L677.1 460.0L677.9 462.5L678.6 464.9L679.4 466.7L680.1 469.0L680.9 470.5L681.6 471.0L682.4 473.1L683.1 474.4L683.9 474.4L684.6 475.4L685.4 476.2L686.1 477.3L686.9 476.9L687.6 477.4L688.4 478.4L689.1 478.0L689.9 479.0L690.6 478.6L691.4 479.5L692.1 478.8L692.9 479.0L693.6 479.6L694.4 479.8L695.1 479.8L695.9 479.3L696.6 479.7L697.4 480.0L698.1 480.1L698.9 480.5L699.6 480.3L700.4 480.2L701.1 480.3L701.9 480.3L702.6 480.6L703.4 480.1L704.1 480.4L704.9 480.3L705.6 479.8L706.4 480.2L707.1 480.1L707.9 480.2L708.6 479.8L709.4 480.9L710.1 480.3L710.9 480.5L711.6 480.1L712.4 480.5L713.1 480.9L713.9 480.7L714.6 480.9L715.4 480.8L716.1 481.2L716.9 480.7L717.6 480.2L718.4 480.2L719.1 481.2L719.9 480.8L720.6 480.8L721.4 481.0L722.1 481.0L722.9 480.5L723.6 480.4L724.4 480.8L725.1 480.5L725.9 480.8L726.6 480.6L727.4 481.3L728.1 481.3L728.9 481.0L729.6 481.2L730.4 480.9L731.1 480.6L731.8 480.6L732.6 480.6L733.3 480.9L734.1 480.3L734.8 480.3L735.6 481.4L736.3 480.4L737.1 480.4L737.8 481.0L738.6 480.8L739.3 481.1L740.1 480.2L740.8 480.2L741.6 480.6L742.3 481.1L743.1 480.5L743.8 480.7L744.6 481.2L745.3 481.1L746.1 480.8L746.8 480.3L747.6 480.4L748.3 480.4L749.1 480.7L749.8 481.4L750.6 480.4L751.3 481.0L752.1 481.1L752.8 480.7L753.6 481.1L754.3 480.3L755.1 481.3L755.8 480.2L756.6 480.6L757.3 480.2L758.1 480.4L758.8 480.2L759.6 480.8L760.3 480.5L761.1 481.3L761.8 480.7L762.6 480.2L763.3 481.2L764.1 480.1L764.8 480.8L765.6 480.5L766.3 480.4L767.1 480.7L767.8 480.2L768.6 480.6L769.3 480.7L770.1 480.8L770.8 480.9L771.6 480.0L772.3 480.9L773.1 480.4L773.8 480.5L774.6 480.0L775.3 480.3L776.1 480.3L776.8 480.8L777.6 480.6L778.3 480.9L779.1 480.1L779.8 480.0L780.6 480.3L781.3 479.8L782.1 479.8L782.8 480.1L783.6 480.8L784.3 480.5L785.1 479.8L785.8 479.5L786.6 479.6L787.3 479.4L788.1 480.4L788.8 479.5L789.6 479.4L790.3 480.0L791.1 479.5L791.8 479.4L792.6 478.6L793.3 478.4L794.1 478.5L794.8 478.3L795.6 478.3L796.3 478.2L797.1 477.9L797.8 477.3L798.5 476.5L799.3 476.4L800.0 476.9L800.8 475.7L801.5 475.8L802.3 474.8L803.0 474.6L803.8 473.5L804.5 473.7L805.3 472.7L806.0 472.6L806.8 472.1L807.5 470.9L808.3 470.8L809.0 470.6L809.8 469.5L810.5 468.6L811.3 468.8L812.0 468.2L812.8 467.9L813.5 468.6L814.3 467.5L815.0 467.7L815.8 468.1L816.5 468.1L817.3 468.3L818.0 468.8L818.8 469.6L819.5 470.3L820.3 471.1L821.0 471.0L821.8 471.2L822.5 472.7L823.3 473.0L824.0 474.0L824.8 474.3L825.5 473.9L826.3 475.2L827.0 475.3L827.8 476.0L828.5 475.8L829.3 476.2L830.0 477.1L830.8 477.4L831.5 478.2L832.3 477.7L833.0 478.4L833.8 478.6L834.5 478.7L835.3 479.1L836.0 479.3L836.8 479.3L837.5 479.2L838.3 479.0L839.0 479.1L839.8 479.8L840.5 479.7L841.3 479.8L842.0 480.3L842.8 479.8L843.5 479.8L844.3 480.0L845.0 480.7L845.8 480.1L846.5 479.8L847.3 480.5L848.0 480.8L848.8 480.6L849.5 480.4L850.3 480.7L851.0 480.5L851.8 480.7L852.5 479.9L853.3 480.6L854.0 480.1L854.8 480.3L855.5 480.4L856.3 480.5L857.0 480.0L857.8 480.3L858.5 480.0L859.3 480.7L860.0 480.2L860.8 480.1L861.5 481.0L862.3 480.5L863.0 480.2L863.8 480.4L864.5 481.1L865.3 481.0L866.0 480.9" fill="none" stroke="#2367aa" stroke-width="3.4" stroke-linejoin="round"/>
<path d="M191.5 355.0L192.2 355.6L193.0 355.0L193.7 355.7L194.5 355.6L195.2 355.3L196.0 355.6L196.7 355.5L197.5 354.9L198.2 355.5L199.0 355.6L199.7 355.5L200.5 355.9L201.2 355.7L202.0 355.3L202.7 355.1L203.5 355.0L204.2 355.8L205.0 355.7L205.7 355.6L206.5 355.4L207.2 355.5L208.0 355.1L208.7 355.5L209.5 355.0L210.2 355.6L211.0 355.6L211.7 355.7L212.5 355.2L213.2 355.0L214.0 355.3L214.7 355.7L215.5 355.5L216.2 355.8L217.0 355.4L217.7 355.3L218.5 356.0L219.2 355.1L220.0 355.1L220.7 355.6L221.5 355.6L222.2 355.4L223.0 355.5L223.7 355.4L224.5 355.7L225.2 355.9L226.0 355.9L226.7 355.6L227.5 355.4L228.2 356.0L229.0 355.4L229.7 355.6L230.5 355.9L231.2 355.7L232.0 355.3L232.7 355.8L233.5 355.6L234.2 356.0L235.0 355.6L235.7 355.5L236.5 356.0L237.2 355.5L238.0 355.4L238.7 356.0L239.5 356.0L240.2 355.1L241.0 355.0L241.7 355.9L242.5 355.9L243.2 355.3L244.0 355.2L244.7 355.7L245.5 356.0L246.2 355.1L247.0 355.4L247.7 355.7L248.5 355.1L249.2 355.4L250.0 355.0L250.7 355.5L251.5 355.2L252.2 355.0L253.0 355.3L253.7 355.1L254.5 355.0L255.2 355.1L256.0 355.4L256.7 355.3L257.5 355.8L258.2 355.4L258.9 355.2L259.7 355.1L260.4 355.2L261.2 355.8L261.9 355.1L262.7 355.4L263.4 355.8L264.2 355.9L264.9 355.4L265.7 355.9L266.4 355.6L267.2 355.1L267.9 355.0L268.7 355.1L269.4 355.8L270.2 355.3L270.9 355.9L271.7 356.0L272.4 356.0L273.2 355.4L273.9 354.9L274.7 355.2L275.4 355.1L276.2 355.6L276.9 355.7L277.7 356.0L278.4 355.7L279.2 356.0L279.9 355.6L280.7 355.4L281.4 355.9L282.2 355.2L282.9 355.8L283.7 355.7L284.4 355.9L285.2 354.9L285.9 355.1L286.7 356.0L287.4 355.0L288.2 355.4L288.9 355.6L289.7 355.4L290.4 355.9L291.2 356.0L291.9 355.3L292.7 355.0L293.4 355.9L294.2 355.4L294.9 355.1L295.7 355.0L296.4 354.8L297.2 355.5L297.9 355.2L298.7 355.5L299.4 355.9L300.2 355.4L300.9 356.0L301.7 354.9L302.4 355.7L303.2 355.7L303.9 356.0L304.7 354.8L305.4 355.4L306.2 355.5L306.9 355.5L307.7 355.4L308.4 355.1L309.2 355.9L309.9 355.8L310.7 355.6L311.4 355.9L312.2 355.4L312.9 354.8L313.7 355.6L314.4 354.9L315.2 355.6L315.9 355.5L316.7 355.0L317.4 354.9L318.2 354.8L318.9 354.9L319.7 355.9L320.4 355.0L321.2 355.7L321.9 354.8L322.7 355.1L323.4 355.2L324.2 355.1L324.9 355.8L325.7 354.9L326.4 355.2L327.1 354.8L327.9 354.7L328.6 355.4L329.4 355.0L330.1 355.1L330.9 355.4L331.6 354.6L332.4 354.6L333.1 355.3L333.9 355.7L334.6 354.5L335.4 355.0L336.1 355.6L336.9 355.4L337.6 355.5L338.4 355.0L339.1 355.5L339.9 354.3L340.6 354.8L341.4 355.2L342.1 354.6L342.9 354.6L343.6 354.6L344.4 354.5L345.1 355.0L345.9 355.1L346.6 354.1L347.4 354.2L348.1 354.7L348.9 354.5L349.6 354.5L350.4 354.3L351.1 354.5L351.9 354.3L352.6 353.9L353.4 353.3L354.1 352.9L354.9 353.7L355.6 353.5L356.4 353.3L357.1 352.2L357.9 352.5L358.6 352.4L359.4 351.1L360.1 350.3L360.9 349.8L361.6 349.1L362.4 348.6L363.1 347.5L363.9 345.8L364.6 343.5L365.4 341.1L366.1 337.7L366.9 333.0L367.6 328.8L368.4 323.2L369.1 317.2L369.9 312.5L370.6 308.3L371.4 307.2L372.1 309.0L372.9 311.8L373.6 317.5L374.4 322.8L375.1 328.0L375.9 332.4L376.6 337.1L377.4 340.2L378.1 342.6L378.9 345.1L379.6 347.1L380.4 347.7L381.1 349.5L381.9 349.5L382.6 350.6L383.4 351.0L384.1 352.0L384.9 352.4L385.6 352.5L386.4 352.2L387.1 352.4L387.9 353.2L388.6 353.0L389.4 353.3L390.1 353.5L390.9 353.0L391.6 353.3L392.4 354.0L393.1 353.4L393.9 354.0L394.6 353.2L395.3 353.1L396.1 353.7L396.8 353.5L397.6 353.9L398.3 354.1L399.1 353.2L399.8 353.8L400.6 353.6L401.3 354.2L402.1 354.1L402.8 354.2L403.6 354.0L404.3 353.5L405.1 353.7L405.8 353.6L406.6 353.3L407.3 353.2L408.1 353.6L408.8 353.8L409.6 352.9L410.3 353.0L411.1 352.6L411.8 352.8L412.6 352.7L413.3 352.2L414.1 352.7L414.8 352.2L415.6 352.6L416.3 351.7L417.1 352.1L417.8 352.2L418.6 350.9L419.3 350.9L420.1 351.3L420.8 350.3L421.6 349.8L422.3 349.1L423.1 349.4L423.8 348.3L424.6 348.3L425.3 347.1L426.1 345.8L426.8 345.7L427.6 344.4L428.3 342.6L429.1 340.6L429.8 338.3L430.6 335.6L431.3 330.9L432.1 326.2L432.8 320.9L433.6 313.3L434.3 305.4L435.1 295.3L435.8 283.6L436.6 270.8L437.3 258.8L438.1 247.0L438.8 237.5L439.6 232.5L440.3 232.1L441.1 237.9L441.8 246.9L442.6 258.1L443.3 271.5L444.1 283.0L444.8 295.2L445.6 305.1L446.3 312.8L447.1 319.9L447.8 326.3L448.6 330.7L449.3 334.3L450.1 337.7L450.8 339.5L451.6 341.0L452.3 342.9L453.1 344.4L453.8 345.4L454.6 345.1L455.3 346.5L456.1 346.4L456.8 347.6L457.6 347.2L458.3 347.1L459.1 347.6L459.8 348.0L460.6 347.8L461.3 348.7L462.0 348.3L462.8 349.0L463.5 348.6L464.3 349.1L465.0 349.5L465.8 349.3L466.5 349.6L467.3 350.6L468.0 350.4L468.8 350.6L469.5 351.3L470.3 351.6L471.0 352.1L471.8 352.1L472.5 352.7L473.3 353.0L474.0 353.2L474.8 353.5L475.5 353.4L476.3 353.6L477.0 353.4L477.8 353.2L478.5 354.3L479.3 353.8L480.0 353.9L480.8 354.2L481.5 354.6L482.3 354.7L483.0 354.0L483.8 354.8L484.5 355.1L485.3 355.2L486.0 355.2L486.8 354.8L487.5 355.2L488.3 354.9L489.0 355.3L489.8 355.5L490.5 354.8L491.3 354.5L492.0 355.3L492.8 355.5L493.5 355.5L494.3 355.0L495.0 355.0L495.8 354.7L496.5 355.6L497.3 354.9L498.0 354.7L498.8 354.7L499.5 355.7L500.3 355.1L501.0 355.6L501.8 354.8L502.5 355.3L503.3 355.6L504.0 355.6L504.8 355.0L505.5 355.3L506.3 355.7L507.0 355.9L507.8 354.9L508.5 355.5L509.3 355.9L510.0 355.6L510.8 355.8L511.5 355.2L512.3 355.5L513.0 354.9L513.8 355.8L514.5 355.6L515.3 355.1L516.0 356.0L516.8 355.2L517.5 355.0L518.3 355.8L519.0 355.0L519.8 355.7L520.5 355.1L521.3 355.0L522.0 355.9L522.8 355.7L523.5 355.8L524.3 355.8L525.0 355.9L525.8 355.2L526.5 355.5L527.3 355.7L528.0 356.1L528.8 355.8L529.5 355.6L530.2 356.0L531.0 356.1L531.7 355.4L532.5 355.3L533.2 355.1L534.0 356.1L534.7 355.3L535.5 355.8L536.2 355.7L537.0 355.9L537.7 356.2L538.5 355.9L539.2 355.3L540.0 355.6L540.7 355.3L541.5 355.6L542.2 356.0L543.0 355.9L543.7 355.9L544.5 356.2L545.2 356.3L546.0 355.4L546.7 356.0L547.5 355.9L548.2 355.2L549.0 356.3L549.7 355.6L550.5 356.0L551.2 355.4L552.0 355.7L552.7 355.3L553.5 356.3L554.2 355.2L555.0 355.3L555.7 356.0L556.5 355.9L557.2 355.6L558.0 356.3L558.7 356.0L559.5 355.7L560.2 356.0L561.0 356.3L561.7 356.2L562.5 355.6L563.2 356.1L564.0 355.4L564.7 355.6L565.5 356.4L566.2 356.1L567.0 355.7L567.7 355.8L568.5 355.7L569.2 356.0L570.0 355.8L570.7 355.7L571.5 355.7L572.2 356.3L573.0 356.2L573.7 355.5L574.5 355.7L575.2 356.3L576.0 356.1L576.7 355.9L577.5 356.0L578.2 355.4L579.0 355.9L579.7 356.1L580.5 355.7L581.2 355.7L582.0 355.7L582.7 355.9L583.5 355.5L584.2 356.2L585.0 355.3L585.7 356.1L586.5 355.8L587.2 355.5L588.0 355.5L588.7 355.5L589.5 355.4L590.2 356.4L591.0 355.5L591.7 355.3L592.5 356.0L593.2 356.3L594.0 355.5L594.7 355.4L595.5 355.9L596.2 355.5L596.9 355.7L597.7 355.8L598.4 356.3L599.2 355.6L599.9 355.6L600.7 356.0L601.4 355.8L602.2 356.2L602.9 355.6L603.7 355.9L604.4 355.7L605.2 355.8L605.9 355.7L606.7 355.2L607.4 355.2L608.2 355.5L608.9 356.2L609.7 355.6L610.4 355.6L611.2 355.5L611.9 355.9L612.7 355.4L613.4 355.4L614.2 355.3L614.9 355.6L615.7 355.4L616.4 355.6L617.2 356.0L617.9 355.2L618.7 355.5L619.4 355.9L620.2 355.6L620.9 355.7L621.7 355.6L622.4 354.8L623.2 355.3L623.9 354.9L624.7 354.9L625.4 354.6L626.2 355.3L626.9 355.4L627.7 355.2L628.4 354.6L629.2 355.1L629.9 354.9L630.7 354.6L631.4 354.7L632.2 354.5L632.9 353.4L633.7 354.0L634.4 353.8L635.2 353.2L635.9 353.4L636.7 353.0L637.4 351.7L638.2 351.5L638.9 350.4L639.7 350.0L640.4 348.6L641.2 347.2L641.9 346.0L642.7 344.7L643.4 341.9L644.2 340.4L644.9 336.8L645.7 334.7L646.4 331.0L647.2 328.7L647.9 325.4L648.7 323.6L649.4 321.5L650.2 320.8L650.9 322.1L651.7 322.6L652.4 325.0L653.2 327.8L653.9 331.3L654.7 334.6L655.4 336.9L656.2 340.0L656.9 342.7L657.7 343.9L658.4 346.6L659.2 347.4L659.9 348.5L660.7 350.2L661.4 350.9L662.2 351.6L662.9 352.4L663.6 352.1L664.4 353.2L665.1 353.0L665.9 354.2L666.6 353.8L667.4 353.7L668.1 354.3L668.9 354.3L669.6 354.0L670.4 354.9L671.1 354.6L671.9 355.2L672.6 355.2L673.4 355.3L674.1 355.6L674.9 354.8L675.6 355.2L676.4 355.3L677.1 355.4L677.9 355.6L678.6 355.6L679.4 355.5L680.1 355.5L680.9 355.5L681.6 355.0L682.4 355.2L683.1 355.1L683.9 355.7L684.6 355.7L685.4 355.3L686.1 355.5L686.9 356.1L687.6 355.2L688.4 355.7L689.1 355.7L689.9 355.7L690.6 355.5L691.4 356.3L692.1 355.8L692.9 355.8L693.6 355.3L694.4 355.2L695.1 355.8L695.9 355.5L696.6 356.0L697.4 356.1L698.1 355.3L698.9 355.7L699.6 355.6L700.4 356.0L701.1 355.9L701.9 356.3L702.6 355.3L703.4 355.9L704.1 356.2L704.9 355.5L705.6 355.4L706.4 355.8L707.1 355.6L707.9 355.4L708.6 356.3L709.4 356.2L710.1 356.1L710.9 356.4L711.6 356.2L712.4 355.9L713.1 356.3L713.9 356.5L714.6 356.5L715.4 356.4L716.1 356.3L716.9 356.5L717.6 356.5L718.4 356.1L719.1 355.9L719.9 356.2L720.6 356.5L721.4 355.5L722.1 355.9L722.9 355.5L723.6 355.5L724.4 356.1L725.1 355.6L725.9 355.5L726.6 356.1L727.4 356.0L728.1 356.0L728.9 355.4L729.6 355.5L730.4 356.0L731.1 355.4L731.8 355.5L732.6 355.8L733.3 356.5L734.1 356.3L734.8 356.4L735.6 356.3L736.3 355.5L737.1 356.2L737.8 356.2L738.6 356.5L739.3 355.4L740.1 355.5L740.8 355.5L741.6 355.8L742.3 355.7L743.1 355.6L743.8 356.2L744.6 356.4L745.3 356.4L746.1 355.4L746.8 355.5L747.6 355.8L748.3 356.2L749.1 356.2L749.8 356.3L750.6 355.4L751.3 355.9L752.1 355.3L752.8 356.0L753.6 356.2L754.3 355.6L755.1 355.6L755.8 355.3L756.6 356.2L757.3 355.5L758.1 355.4L758.8 355.6L759.6 355.3L760.3 356.2L761.1 356.1L761.8 355.6L762.6 355.4L763.3 355.5L764.1 356.0L764.8 354.9L765.6 355.1L766.3 355.6L767.1 355.1L767.8 355.2L768.6 354.7L769.3 355.0L770.1 355.5L770.8 355.1L771.6 354.8L772.3 355.0L773.1 354.1L773.8 354.5L774.6 354.7L775.3 353.8L776.1 353.1L776.8 353.6L777.6 353.7L778.3 352.4L779.1 352.3L779.8 352.5L780.6 352.0L781.3 352.1L782.1 351.2L782.8 350.6L783.6 350.2L784.3 349.9L785.1 349.9L785.8 349.4L786.6 348.6L787.3 348.1L788.1 348.0L788.8 347.2L789.6 347.2L790.3 346.8L791.1 346.2L791.8 346.8L792.6 346.0L793.3 346.3L794.1 346.7L794.8 347.1L795.6 347.0L796.3 347.7L797.1 346.8L797.8 348.1L798.5 348.4L799.3 348.7L800.0 349.4L800.8 348.7L801.5 349.1L802.3 350.5L803.0 350.8L803.8 350.2L804.5 350.9L805.3 351.7L806.0 351.6L806.8 351.2L807.5 351.7L808.3 352.6L809.0 352.0L809.8 352.2L810.5 353.0L811.3 352.3L812.0 352.9L812.8 352.4L813.5 352.4L814.3 352.9L815.0 353.1L815.8 352.6L816.5 352.4L817.3 352.8L818.0 352.8L818.8 351.8L819.5 352.5L820.3 352.2L821.0 352.6L821.8 352.0L822.5 351.9L823.3 351.1L824.0 351.5L824.8 350.9L825.5 350.9L826.3 351.2L827.0 351.5L827.8 351.6L828.5 351.4L829.3 351.0L830.0 350.9L830.8 351.3L831.5 350.9L832.3 350.6L833.0 351.6L833.8 351.9L834.5 352.0L835.3 351.8L836.0 352.2L836.8 351.6L837.5 351.8L838.3 352.8L839.0 352.5L839.8 352.4L840.5 353.1L841.3 353.3L842.0 353.7L842.8 353.0L843.5 353.4L844.3 353.8L845.0 354.3L845.8 354.7L846.5 353.7L847.3 354.2L848.0 354.4L848.8 355.1L849.5 354.9L850.3 354.6L851.0 355.1L851.8 354.7L852.5 355.6L853.3 355.1L854.0 355.4L854.8 355.8L855.5 355.5L856.3 355.0L857.0 355.4L857.8 355.1L858.5 355.6L859.3 356.3L860.0 356.1L860.8 356.4L861.5 355.4L862.3 356.1L863.0 356.2L863.8 355.9L864.5 356.3L865.3 355.5L866.0 356.5" fill="none" stroke="#a085c2" stroke-width="3.4" stroke-linejoin="round"/>
<path d="M191.5 288.9L192.2 288.5L193.0 289.3L193.7 289.2L194.5 288.8L195.2 289.0L196.0 288.5L196.7 288.5L197.5 288.6L198.2 289.0L199.0 288.5L199.7 289.3L200.5 288.4L201.2 288.5L202.0 288.4L202.7 289.1L203.5 288.6L204.2 288.8L205.0 288.6L205.7 288.9L206.5 288.7L207.2 288.5L208.0 288.7L208.7 288.6L209.5 288.4L210.2 289.1L211.0 289.0L211.7 288.9L212.5 289.2L213.2 288.7L214.0 288.7L214.7 288.7L215.5 288.7L216.2 288.9L217.0 288.3L217.7 288.7L218.5 288.8L219.2 288.6L220.0 288.3L220.7 289.0L221.5 288.3L222.2 288.8L223.0 288.4L223.7 288.3L224.5 288.4L225.2 288.3L226.0 288.4L226.7 288.9L227.5 289.0L228.2 288.6L229.0 288.9L229.7 288.7L230.5 288.8L231.2 289.1L232.0 288.6L232.7 289.1L233.5 288.9L234.2 288.9L235.0 288.3L235.7 288.3L236.5 288.3L237.2 288.6L238.0 289.2L238.7 289.1L239.5 289.1L240.2 288.4L241.0 289.0L241.7 289.0L242.5 289.1L243.2 289.0L244.0 288.4L244.7 288.4L245.5 289.0L246.2 289.0L247.0 289.1L247.7 288.7L248.5 289.1L249.2 288.4L250.0 289.2L250.7 289.1L251.5 288.6L252.2 288.3L253.0 288.8L253.7 288.9L254.5 288.6L255.2 288.3L256.0 288.5L256.7 289.1L257.5 288.3L258.2 289.2L258.9 288.5L259.7 288.4L260.4 288.3L261.2 289.2L261.9 289.1L262.7 288.5L263.4 288.3L264.2 288.9L264.9 289.1L265.7 288.2L266.4 288.9L267.2 289.1L267.9 288.7L268.7 288.8L269.4 289.0L270.2 288.5L270.9 288.5L271.7 288.9L272.4 288.8L273.2 288.7L273.9 288.5L274.7 289.1L275.4 288.5L276.2 288.9L276.9 289.1L277.7 288.6L278.4 288.3L279.2 288.4L279.9 288.3L280.7 288.4L281.4 288.3L282.2 288.5L282.9 288.6L283.7 288.6L284.4 288.9L285.2 288.9L285.9 288.9L286.7 288.6L287.4 288.9L288.2 288.7L288.9 288.3L289.7 288.7L290.4 288.5L291.2 288.9L291.9 288.9L292.7 288.4L293.4 288.6L294.2 288.6L294.9 288.5L295.7 288.2L296.4 288.2L297.2 289.2L297.9 288.9L298.7 288.6L299.4 288.8L300.2 288.4L300.9 288.9L301.7 289.1L302.4 288.9L303.2 288.6L303.9 289.2L304.7 289.1L305.4 288.2L306.2 288.6L306.9 288.6L307.7 288.4L308.4 288.8L309.2 288.3L309.9 288.9L310.7 289.0L311.4 288.2L312.2 288.8L312.9 288.4L313.7 288.8L314.4 288.8L315.2 289.1L315.9 288.9L316.7 288.5L317.4 288.9L318.2 288.3L318.9 288.8L319.7 288.5L320.4 288.4L321.2 288.4L321.9 288.3L322.7 288.9L323.4 288.2L324.2 288.3L324.9 288.3L325.7 288.3L326.4 288.8L327.1 288.7L327.9 288.8L328.6 289.0L329.4 288.5L330.1 288.1L330.9 288.3L331.6 288.6L332.4 288.8L333.1 289.0L333.9 288.6L334.6 288.3L335.4 288.6L336.1 289.0L336.9 288.4L337.6 288.9L338.4 288.9L339.1 288.6L339.9 288.5L340.6 288.1L341.4 288.1L342.1 288.0L342.9 288.5L343.6 288.6L344.4 288.9L345.1 288.5L345.9 288.8L346.6 288.2L347.4 287.9L348.1 287.8L348.9 288.0L349.6 288.2L350.4 288.6L351.1 287.9L351.9 287.8L352.6 288.2L353.4 287.9L354.1 288.0L354.9 287.5L355.6 288.2L356.4 288.2L357.1 287.9L357.9 288.0L358.6 287.4L359.4 287.0L360.1 287.2L360.9 287.7L361.6 287.2L362.4 286.9L363.1 286.8L363.9 286.7L364.6 286.9L365.4 287.3L366.1 287.2L366.9 287.1L367.6 287.0L368.4 286.4L369.1 287.0L369.9 286.4L370.6 286.7L371.4 286.2L372.1 287.0L372.9 286.3L373.6 286.8L374.4 286.9L375.1 286.9L375.9 287.0L376.6 286.7L377.4 287.2L378.1 287.4L378.9 287.1L379.6 287.6L380.4 287.5L381.1 286.8L381.9 287.5L382.6 287.0L383.4 287.6L384.1 287.4L384.9 287.9L385.6 287.2L386.4 288.1L387.1 287.3L387.9 287.4L388.6 287.4L389.4 287.5L390.1 288.4L390.9 288.3L391.6 288.5L392.4 287.8L393.1 288.3L393.9 288.4L394.6 288.4L395.3 288.0L396.1 288.7L396.8 288.5L397.6 288.5L398.3 288.1L399.1 288.2L399.8 288.6L400.6 288.4L401.3 288.3L402.1 288.8L402.8 288.3L403.6 288.7L404.3 287.9L405.1 288.4L405.8 288.6L406.6 287.9L407.3 288.6L408.1 288.2L408.8 288.5L409.6 288.5L410.3 288.0L411.1 288.9L411.8 288.2L412.6 288.0L413.3 288.3L414.1 288.0L414.8 288.0L415.6 288.6L416.3 288.0L417.1 288.4L417.8 288.7L418.6 288.3L419.3 288.7L420.1 288.7L420.8 288.0L421.6 287.9L422.3 288.5L423.1 288.6L423.8 288.5L424.6 288.4L425.3 288.1L426.1 288.5L426.8 288.2L427.6 288.2L428.3 288.2L429.1 287.3L429.8 287.8L430.6 287.5L431.3 286.8L432.1 286.9L432.8 287.2L433.6 286.9L434.3 286.8L435.1 286.3L435.8 286.4L436.6 286.6L437.3 286.5L438.1 285.9L438.8 286.0L439.6 285.2L440.3 285.2L441.1 285.6L441.8 285.9L442.6 285.3L443.3 285.4L444.1 285.9L444.8 285.8L445.6 285.8L446.3 286.0L447.1 286.4L447.8 287.0L448.6 286.5L449.3 287.3L450.1 286.8L450.8 287.1L451.6 287.6L452.3 287.1L453.1 287.5L453.8 287.5L454.6 287.6L455.3 288.4L456.1 287.7L456.8 288.3L457.6 288.6L458.3 287.9L459.1 288.6L459.8 288.1L460.6 288.6L461.3 288.4L462.0 288.2L462.8 288.7L463.5 288.6L464.3 288.2L465.0 288.5L465.8 288.2L466.5 288.2L467.3 288.9L468.0 288.9L468.8 288.1L469.5 288.9L470.3 288.7L471.0 288.0L471.8 288.1L472.5 288.4L473.3 288.9L474.0 288.9L474.8 288.2L475.5 288.4L476.3 288.9L477.0 288.2L477.8 288.1L478.5 288.4L479.3 288.7L480.0 288.9L480.8 288.9L481.5 288.0L482.3 288.2L483.0 288.1L483.8 288.6L484.5 288.4L485.3 288.9L486.0 288.6L486.8 288.6L487.5 288.7L488.3 288.2L489.0 288.9L489.8 288.9L490.5 288.8L491.3 288.8L492.0 288.2L492.8 288.1L493.5 288.4L494.3 288.7L495.0 288.2L495.8 288.9L496.5 288.9L497.3 288.7L498.0 288.5L498.8 288.2L499.5 288.8L500.3 288.2L501.0 288.5L501.8 288.8L502.5 288.7L503.3 288.3L504.0 288.9L504.8 288.3L505.5 288.4L506.3 288.5L507.0 288.7L507.8 288.1L508.5 288.7L509.3 288.5L510.0 288.8L510.8 288.4L511.5 288.6L512.3 289.0L513.0 288.1L513.8 288.8L514.5 288.5L515.3 288.3L516.0 288.3L516.8 288.2L517.5 288.9L518.3 288.2L519.0 289.0L519.8 288.5L520.5 288.3L521.3 288.8L522.0 288.6L522.8 288.9L523.5 288.2L524.3 288.7L525.0 288.1L525.8 288.2L526.5 288.4L527.3 288.3L528.0 288.3L528.8 288.6L529.5 288.8L530.2 288.4L531.0 288.5L531.7 288.8L532.5 288.2L533.2 289.0L534.0 288.0L534.7 288.4L535.5 288.8L536.2 288.3L537.0 288.4L537.7 288.2L538.5 289.0L539.2 288.9L540.0 288.1L540.7 288.6L541.5 288.2L542.2 288.0L543.0 288.2L543.7 288.7L544.5 288.5L545.2 288.3L546.0 288.6L546.7 288.1L547.5 288.4L548.2 288.1L549.0 288.8L549.7 288.4L550.5 288.7L551.2 288.3L552.0 288.4L552.7 288.6L553.5 288.3L554.2 288.6L555.0 288.8L555.7 288.1L556.5 288.2L557.2 288.0L558.0 288.5L558.7 288.1L559.5 288.5L560.2 288.2L561.0 288.5L561.7 288.3L562.5 288.8L563.2 288.8L564.0 289.0L564.7 288.5L565.5 288.9L566.2 288.9L567.0 288.3L567.7 289.0L568.5 289.0L569.2 288.2L570.0 288.8L570.7 288.7L571.5 288.6L572.2 288.7L573.0 288.3L573.7 288.8L574.5 288.7L575.2 288.2L576.0 289.0L576.7 288.7L577.5 288.1L578.2 288.0L579.0 288.2L579.7 288.7L580.5 288.7L581.2 288.9L582.0 288.9L582.7 288.2L583.5 288.2L584.2 288.1L585.0 288.4L585.7 288.4L586.5 288.4L587.2 288.8L588.0 288.6L588.7 288.8L589.5 288.8L590.2 288.8L591.0 288.5L591.7 288.4L592.5 288.5L593.2 288.4L594.0 288.7L594.7 288.8L595.5 288.7L596.2 288.2L596.9 288.5L597.7 288.4L598.4 288.1L599.2 288.1L599.9 288.4L600.7 288.9L601.4 288.7L602.2 288.0L602.9 288.9L603.7 288.7L604.4 288.6L605.2 288.0L605.9 288.3L606.7 288.3L607.4 288.5L608.2 288.1L608.9 288.6L609.7 288.6L610.4 288.6L611.2 288.5L611.9 288.5L612.7 288.1L613.4 288.8L614.2 288.8L614.9 288.8L615.7 288.7L616.4 288.2L617.2 288.3L617.9 288.0L618.7 288.8L619.4 288.8L620.2 288.9L620.9 288.6L621.7 288.8L622.4 288.8L623.2 288.1L623.9 288.0L624.7 288.8L625.4 288.9L626.2 288.7L626.9 288.6L627.7 288.4L628.4 288.8L629.2 288.2L629.9 288.0L630.7 288.8L631.4 288.0L632.2 288.7L632.9 288.6L633.7 288.1L634.4 288.4L635.2 288.2L635.9 288.8L636.7 288.7L637.4 288.3L638.2 288.1L638.9 288.3L639.7 288.4L640.4 288.6L641.2 288.9L641.9 288.3L642.7 288.1L643.4 288.6L644.2 288.4L644.9 288.7L645.7 288.6L646.4 288.5L647.2 288.8L647.9 288.1L648.7 288.7L649.4 288.1L650.2 288.4L650.9 288.5L651.7 288.5L652.4 288.0L653.2 288.4L653.9 288.2L654.7 288.2L655.4 288.4L656.2 288.3L656.9 288.1L657.7 288.6L658.4 288.9L659.2 288.9L659.9 288.1L660.7 288.2L661.4 288.3L662.2 288.5L662.9 288.6L663.6 288.5L664.4 288.4L665.1 288.9L665.9 288.9L666.6 288.7L667.4 288.2L668.1 288.7L668.9 288.0L669.6 288.9L670.4 288.6L671.1 288.8L671.9 288.3L672.6 288.6L673.4 288.2L674.1 288.8L674.9 288.1L675.6 287.9L676.4 288.2L677.1 288.6L677.9 288.4L678.6 288.7L679.4 288.6L680.1 288.7L680.9 288.8L681.6 288.0L682.4 288.0L683.1 288.2L683.9 288.0L684.6 288.5L685.4 288.6L686.1 288.1L686.9 288.4L687.6 288.1L688.4 287.9L689.1 288.2L689.9 288.2L690.6 288.6L691.4 288.9L692.1 288.0L692.9 288.4L693.6 288.4L694.4 288.5L695.1 288.0L695.9 288.8L696.6 288.2L697.4 288.5L698.1 288.3L698.9 288.4L699.6 288.8L700.4 288.5L701.1 288.2L701.9 288.8L702.6 288.0L703.4 288.8L704.1 288.5L704.9 288.1L705.6 288.9L706.4 288.7L707.1 288.4L707.9 288.7L708.6 288.0L709.4 288.1L710.1 288.3L710.9 288.8L711.6 288.2L712.4 288.8L713.1 288.4L713.9 288.6L714.6 288.6L715.4 288.0L716.1 288.8L716.9 288.4L717.6 288.0L718.4 288.0L719.1 288.6L719.9 288.4L720.6 288.8L721.4 288.7L722.1 288.4L722.9 288.2L723.6 288.6L724.4 288.8L725.1 288.1L725.9 288.3L726.6 287.9L727.4 287.9L728.1 287.9L728.9 288.2L729.6 288.4L730.4 288.7L731.1 288.6L731.8 288.8L732.6 288.1L733.3 288.6L734.1 288.1L734.8 288.2L735.6 288.3L736.3 288.8L737.1 288.2L737.8 287.8L738.6 288.1L739.3 288.3L740.1 288.4L740.8 287.9L741.6 288.0L742.3 287.9L743.1 288.2L743.8 288.1L744.6 288.0L745.3 288.2L746.1 288.5L746.8 288.3L747.6 288.4L748.3 288.1L749.1 288.6L749.8 287.8L750.6 287.7L751.3 287.7L752.1 288.1L752.8 287.9L753.6 287.8L754.3 287.6L755.1 288.4L755.8 287.6L756.6 288.2L757.3 288.5L758.1 287.7L758.8 288.1L759.6 288.3L760.3 287.8L761.1 288.3L761.8 287.4L762.6 287.9L763.3 288.1L764.1 287.7L764.8 288.0L765.6 288.1L766.3 287.9L767.1 287.5L767.8 287.7L768.6 287.8L769.3 287.5L770.1 286.9L770.8 287.0L771.6 287.3L772.3 286.8L773.1 286.7L773.8 287.5L774.6 286.9L775.3 287.4L776.1 287.1L776.8 287.0L777.6 286.6L778.3 286.3L779.1 286.1L779.8 286.2L780.6 286.4L781.3 286.4L782.1 285.9L782.8 286.1L783.6 286.0L784.3 286.4L785.1 285.8L785.8 286.3L786.6 286.1L787.3 286.3L788.1 285.7L788.8 285.6L789.6 285.8L790.3 285.6L791.1 286.0L791.8 286.3L792.6 285.9L793.3 285.6L794.1 285.5L794.8 286.2L795.6 286.0L796.3 285.7L797.1 286.1L797.8 286.6L798.5 286.5L799.3 286.3L800.0 287.0L800.8 287.0L801.5 286.2L802.3 286.4L803.0 286.9L803.8 286.7L804.5 286.6L805.3 287.3L806.0 287.5L806.8 287.1L807.5 287.7L808.3 287.3L809.0 287.4L809.8 287.4L810.5 287.7L811.3 287.9L812.0 287.5L812.8 287.5L813.5 287.9L814.3 288.0L815.0 287.9L815.8 287.4L816.5 287.4L817.3 287.7L818.0 287.4L818.8 287.7L819.5 287.8L820.3 287.5L821.0 287.6L821.8 288.1L822.5 288.4L823.3 287.7L824.0 288.2L824.8 287.9L825.5 287.6L826.3 288.5L827.0 287.7L827.8 288.1L828.5 287.6L829.3 287.9L830.0 288.0L830.8 288.0L831.5 288.2L832.3 288.6L833.0 288.3L833.8 288.1L834.5 288.5L835.3 288.1L836.0 288.4L836.8 288.1L837.5 288.4L838.3 287.8L839.0 287.9L839.8 288.4L840.5 288.4L841.3 288.1L842.0 287.7L842.8 288.3L843.5 287.8L844.3 288.1L845.0 288.5L845.8 288.5L846.5 288.5L847.3 287.8L848.0 288.4L848.8 287.7L849.5 288.7L850.3 288.5L851.0 288.5L851.8 288.6L852.5 288.5L853.3 288.5L854.0 288.7L854.8 287.8L855.5 287.8L856.3 288.4L857.0 287.8L857.8 288.5L858.5 288.1L859.3 288.5L860.0 287.8L860.8 288.3L861.5 288.5L862.3 288.5L863.0 287.9L863.8 288.0L864.5 288.6L865.3 288.5L866.0 288.2" fill="none" stroke="#b5a02a" stroke-width="3.4" stroke-linejoin="round"/>
<path d="M191.5 229.6L192.2 230.0L193.0 230.3L193.7 230.2L194.5 230.2L195.2 229.9L196.0 230.3L196.7 230.0L197.5 229.6L198.2 230.0L199.0 229.5L199.7 230.4L200.5 230.4L201.2 229.8L202.0 229.8L202.7 230.3L203.5 229.7L204.2 229.7L205.0 229.7L205.7 229.8L206.5 230.1L207.2 230.5L208.0 229.7L208.7 230.5L209.5 230.1L210.2 230.4L211.0 230.3L211.7 229.7L212.5 230.1L213.2 229.6L214.0 229.5L214.7 229.9L215.5 230.3L216.2 230.1L217.0 229.7L217.7 230.3L218.5 230.4L219.2 229.7L220.0 229.9L220.7 230.1L221.5 230.4L222.2 229.6L223.0 230.0L223.7 230.5L224.5 230.1L225.2 230.2L226.0 230.3L226.7 230.0L227.5 229.8L228.2 230.1L229.0 230.0L229.7 229.8L230.5 230.3L231.2 229.9L232.0 230.0L232.7 230.3L233.5 230.3L234.2 230.4L235.0 230.1L235.7 229.7L236.5 230.3L237.2 230.4L238.0 230.2L238.7 230.3L239.5 230.0L240.2 230.0L241.0 230.1L241.7 229.6L242.5 230.2L243.2 230.4L244.0 229.7L244.7 230.2L245.5 230.2L246.2 229.6L247.0 229.5L247.7 230.1L248.5 229.7L249.2 229.8L250.0 230.1L250.7 230.1L251.5 230.2L252.2 230.1L253.0 229.8L253.7 229.5L254.5 229.6L255.2 229.7L256.0 230.0L256.7 230.2L257.5 229.7L258.2 229.9L258.9 230.4L259.7 229.9L260.4 230.2L261.2 230.1L261.9 230.2L262.7 230.0L263.4 230.0L264.2 230.2L264.9 229.7L265.7 230.3L266.4 230.4L267.2 229.5L267.9 229.7L268.7 229.7L269.4 229.6L270.2 229.6L270.9 230.1L271.7 229.6L272.4 229.6L273.2 230.4L273.9 229.9L274.7 230.0L275.4 230.0L276.2 229.8L276.9 229.9L277.7 229.7L278.4 230.1L279.2 229.7L279.9 229.6L280.7 229.7L281.4 229.9L282.2 230.4L282.9 230.1L283.7 230.5L284.4 229.9L285.2 229.7L285.9 230.2L286.7 229.7L287.4 230.5L288.2 229.9L288.9 229.8L289.7 229.8L290.4 229.8L291.2 230.4L291.9 230.5L292.7 230.0L293.4 229.7L294.2 229.5L294.9 229.6L295.7 229.8L296.4 230.1L297.2 230.1L297.9 230.3L298.7 230.3L299.4 229.8L300.2 230.2L300.9 229.9L301.7 230.2L302.4 229.7L303.2 230.5L303.9 229.5L304.7 230.1L305.4 229.8L306.2 230.3L306.9 229.6L307.7 230.4L308.4 229.5L309.2 230.2L309.9 230.2L310.7 230.0L311.4 229.6L312.2 229.9L312.9 229.9L313.7 229.7L314.4 229.6L315.2 230.3L315.9 230.0L316.7 229.7L317.4 230.1L318.2 230.1L318.9 229.6L319.7 230.1L320.4 230.0L321.2 229.6L321.9 229.8L322.7 230.3L323.4 230.0L324.2 229.7L324.9 229.9L325.7 229.9L326.4 230.2L327.1 230.3L327.9 229.5L328.6 229.5L329.4 229.9L330.1 229.5L330.9 229.6L331.6 229.6L332.4 229.5L333.1 230.1L333.9 229.5L334.6 230.0L335.4 230.4L336.1 229.6L336.9 230.2L337.6 230.0L338.4 229.6L339.1 230.4L339.9 230.1L340.6 229.8L341.4 230.3L342.1 229.5L342.9 230.2L343.6 230.2L344.4 229.5L345.1 230.3L345.9 230.1L346.6 230.3L347.4 229.6L348.1 230.1L348.9 230.1L349.6 229.6L350.4 229.3L351.1 229.3L351.9 229.7L352.6 229.7L353.4 229.3L354.1 229.8L354.9 229.1L355.6 229.5L356.4 229.5L357.1 229.2L357.9 229.0L358.6 229.8L359.4 229.7L360.1 229.3L360.9 228.7L361.6 229.2L362.4 229.5L363.1 229.3L363.9 229.1L364.6 228.4L365.4 228.9L366.1 228.5L366.9 229.2L367.6 228.1L368.4 228.3L369.1 228.9L369.9 228.1L370.6 228.3L371.4 228.3L372.1 228.9L372.9 228.7L373.6 229.0L374.4 228.3L375.1 228.2L375.9 228.5L376.6 229.0L377.4 228.9L378.1 229.3L378.9 229.1L379.6 228.6L380.4 228.9L381.1 228.8L381.9 229.0L382.6 229.4L383.4 229.3L384.1 229.6L384.9 228.9L385.6 229.9L386.4 229.2L387.1 229.8L387.9 229.9L388.6 229.2L389.4 229.7L390.1 230.2L390.9 229.2L391.6 229.7L392.4 229.7L393.1 229.7L393.9 229.5L394.6 229.5L395.3 229.6L396.1 229.6L396.8 229.7L397.6 230.3L398.3 230.3L399.1 229.6L399.8 229.4L400.6 229.7L401.3 230.3L402.1 229.6L402.8 230.1L403.6 229.5L404.3 229.8L405.1 229.6L405.8 230.0L406.6 229.8L407.3 230.2L408.1 230.0L408.8 229.8L409.6 229.5L410.3 230.3L411.1 229.5L411.8 229.9L412.6 230.4L413.3 230.2L414.1 229.8L414.8 230.4L415.6 229.7L416.3 230.0L417.1 230.0L417.8 230.2L418.6 229.7L419.3 229.9L420.1 229.8L420.8 230.4L421.6 230.2L422.3 229.8L423.1 230.2L423.8 230.1L424.6 229.7L425.3 230.0L426.1 229.6L426.8 229.7L427.6 229.5L428.3 229.6L429.1 230.1L429.8 230.3L430.6 230.3L431.3 229.7L432.1 230.4L432.8 229.8L433.6 230.2L434.3 230.1L435.1 230.0L435.8 230.2L436.6 230.4L437.3 230.2L438.1 230.0L438.8 230.3L439.6 230.2L440.3 229.9L441.1 230.5L441.8 229.9L442.6 229.5L443.3 230.4L444.1 230.4L444.8 230.0L445.6 230.2L446.3 230.2L447.1 229.6L447.8 230.3L448.6 230.1L449.3 230.5L450.1 230.0L450.8 229.8L451.6 230.3L452.3 230.0L453.1 230.4L453.8 229.5L454.6 230.2L455.3 230.4L456.1 229.7L456.8 229.6L457.6 230.0L458.3 230.1L459.1 230.1L459.8 230.0L460.6 229.8L461.3 230.2L462.0 230.5L462.8 230.0L463.5 229.9L464.3 230.5L465.0 229.7L465.8 230.1L466.5 230.3L467.3 230.3L468.0 230.2L468.8 230.2L469.5 229.9L470.3 230.5L471.0 229.5L471.8 229.9L472.5 229.9L473.3 230.2L474.0 229.8L474.8 229.7L475.5 229.9L476.3 230.1L477.0 230.0L477.8 230.4L478.5 230.0L479.3 229.7L480.0 230.1L480.8 229.9L481.5 229.5L482.3 229.9L483.0 229.6L483.8 230.1L484.5 230.4L485.3 230.2L486.0 230.5L486.8 229.6L487.5 230.3L488.3 230.3L489.0 229.7L489.8 230.0L490.5 229.7L491.3 229.8L492.0 230.0L492.8 229.9L493.5 229.9L494.3 230.2L495.0 230.2L495.8 229.6L496.5 230.1L497.3 230.3L498.0 229.5L498.8 230.2L499.5 229.5L500.3 229.9L501.0 229.9L501.8 229.5L502.5 229.6L503.3 230.2L504.0 229.8L504.8 230.0L505.5 229.7L506.3 230.1L507.0 230.4L507.8 230.2L508.5 229.9L509.3 230.5L510.0 229.8L510.8 229.8L511.5 229.9L512.3 230.5L513.0 229.9L513.8 229.8L514.5 230.0L515.3 230.1L516.0 230.3L516.8 230.2L517.5 230.2L518.3 229.9L519.0 229.9L519.8 230.5L520.5 230.0L521.3 230.3L522.0 229.9L522.8 229.5L523.5 229.9L524.3 230.0L525.0 229.9L525.8 229.7L526.5 229.7L527.3 229.5L528.0 230.2L528.8 230.0L529.5 230.3L530.2 230.4L531.0 230.2L531.7 230.3L532.5 230.4L533.2 230.4L534.0 230.3L534.7 230.4L535.5 229.8L536.2 230.5L537.0 230.4L537.7 230.3L538.5 230.3L539.2 230.2L540.0 230.1L540.7 230.0L541.5 230.4L542.2 229.8L543.0 230.1L543.7 230.4L544.5 229.8L545.2 229.7L546.0 229.8L546.7 229.9L547.5 230.0L548.2 229.7L549.0 229.7L549.7 229.6L550.5 230.0L551.2 229.6L552.0 229.8L552.7 229.7L553.5 230.1L554.2 230.1L555.0 229.7L555.7 230.5L556.5 229.8L557.2 230.4L558.0 229.8L558.7 230.1L559.5 230.1L560.2 230.1L561.0 229.8L561.7 230.3L562.5 230.1L563.2 230.1L564.0 230.0L564.7 229.8L565.5 229.9L566.2 230.2L567.0 230.2L567.7 230.5L568.5 230.2L569.2 230.5L570.0 229.8L570.7 229.8L571.5 230.5L572.2 229.9L573.0 230.1L573.7 230.4L574.5 229.6L575.2 229.6L576.0 230.0L576.7 229.7L577.5 229.6L578.2 230.2L579.0 230.0L579.7 230.0L580.5 230.1L581.2 229.8L582.0 229.9L582.7 229.8L583.5 230.1L584.2 230.0L585.0 230.1L585.7 230.0L586.5 230.1L587.2 229.5L588.0 230.3L588.7 230.4L589.5 229.6L590.2 230.2L591.0 230.1L591.7 230.2L592.5 229.5L593.2 229.5L594.0 230.0L594.7 230.1L595.5 229.6L596.2 230.3L596.9 229.6L597.7 230.4L598.4 230.3L599.2 230.2L599.9 230.4L600.7 229.8L601.4 230.1L602.2 229.5L602.9 230.2L603.7 229.7L604.4 229.5L605.2 230.3L605.9 229.6L606.7 230.1L607.4 230.5L608.2 230.0L608.9 230.0L609.7 230.3L610.4 230.2L611.2 230.0L611.9 229.6L612.7 230.5L613.4 230.2L614.2 230.0L614.9 230.2L615.7 229.7L616.4 229.7L617.2 229.5L617.9 229.9L618.7 230.1L619.4 229.6L620.2 229.7L620.9 229.9L621.7 229.5L622.4 230.3L623.2 229.7L623.9 230.4L624.7 230.1L625.4 229.8L626.2 229.6L626.9 230.1L627.7 229.6L628.4 229.8L629.2 230.5L629.9 230.3L630.7 230.2L631.4 230.1L632.2 230.1L632.9 230.2L633.7 230.4L634.4 229.6L635.2 230.4L635.9 230.5L636.7 230.1L637.4 229.8L638.2 229.6L638.9 229.8L639.7 229.5L640.4 230.2L641.2 230.1L641.9 230.2L642.7 230.4L643.4 229.8L644.2 230.2L644.9 230.2L645.7 230.1L646.4 229.6L647.2 230.4L647.9 230.0L648.7 230.0L649.4 230.4L650.2 229.6L650.9 229.5L651.7 230.2L652.4 230.2L653.2 230.0L653.9 230.1L654.7 230.3L655.4 230.3L656.2 230.1L656.9 230.2L657.7 230.0L658.4 229.7L659.2 230.3L659.9 229.5L660.7 229.7L661.4 230.1L662.2 229.9L662.9 230.4L663.6 229.8L664.4 230.0L665.1 229.7L665.9 230.3L666.6 229.9L667.4 230.2L668.1 230.2L668.9 229.9L669.6 229.6L670.4 230.5L671.1 229.5L671.9 230.3L672.6 229.7L673.4 229.9L674.1 229.9L674.9 229.9L675.6 230.1L676.4 230.2L677.1 230.2L677.9 229.6L678.6 229.9L679.4 229.7L680.1 230.5L680.9 230.0L681.6 230.5L682.4 229.7L683.1 230.2L683.9 230.0L684.6 229.8L685.4 229.7L686.1 230.1L686.9 230.4L687.6 230.0L688.4 230.0L689.1 230.4L689.9 229.8L690.6 229.9L691.4 230.4L692.1 229.6L692.9 229.5L693.6 230.2L694.4 230.0L695.1 230.4L695.9 230.1L696.6 229.8L697.4 230.2L698.1 229.9L698.9 230.1L699.6 229.7L700.4 229.6L701.1 230.4L701.9 230.3L702.6 229.6L703.4 229.6L704.1 230.3L704.9 230.2L705.6 229.9L706.4 230.3L707.1 230.3L707.9 230.3L708.6 230.4L709.4 230.3L710.1 229.5L710.9 230.1L711.6 229.6L712.4 230.4L713.1 230.3L713.9 230.1L714.6 229.9L715.4 230.2L716.1 229.8L716.9 230.2L717.6 230.5L718.4 229.5L719.1 229.9L719.9 230.3L720.6 229.7L721.4 229.9L722.1 230.3L722.9 230.1L723.6 229.8L724.4 229.9L725.1 229.9L725.9 230.0L726.6 230.5L727.4 229.7L728.1 229.8L728.9 230.4L729.6 230.0L730.4 230.1L731.1 230.4L731.8 229.6L732.6 229.7L733.3 229.6L734.1 229.7L734.8 229.6L735.6 229.7L736.3 230.4L737.1 230.4L737.8 230.2L738.6 230.0L739.3 230.2L740.1 230.5L740.8 229.8L741.6 230.2L742.3 229.6L743.1 229.9L743.8 230.0L744.6 230.1L745.3 229.7L746.1 229.9L746.8 229.7L747.6 229.9L748.3 230.3L749.1 229.7L749.8 229.8L750.6 230.1L751.3 229.7L752.1 230.4L752.8 229.8L753.6 229.8L754.3 229.8L755.1 230.0L755.8 229.9L756.6 229.9L757.3 229.9L758.1 229.7L758.8 229.6L759.6 230.4L760.3 230.3L761.1 230.2L761.8 230.0L762.6 230.5L763.3 229.6L764.1 229.6L764.8 230.4L765.6 230.0L766.3 230.0L767.1 230.0L767.8 230.2L768.6 230.2L769.3 230.2L770.1 230.0L770.8 230.3L771.6 230.2L772.3 230.3L773.1 230.3L773.8 229.6L774.6 229.9L775.3 230.2L776.1 230.2L776.8 229.9L777.6 230.1L778.3 230.4L779.1 229.7L779.8 229.8L780.6 229.8L781.3 229.6L782.1 230.1L782.8 230.1L783.6 230.5L784.3 230.0L785.1 229.7L785.8 229.6L786.6 230.1L787.3 229.6L788.1 229.6L788.8 230.0L789.6 230.3L790.3 229.8L791.1 229.8L791.8 229.6L792.6 230.5L793.3 230.3L794.1 230.0L794.8 229.6L795.6 230.4L796.3 230.1L797.1 230.2L797.8 230.2L798.5 230.1L799.3 229.9L800.0 230.3L800.8 229.6L801.5 229.8L802.3 230.1L803.0 230.0L803.8 230.0L804.5 230.1L805.3 229.6L806.0 229.7L806.8 229.5L807.5 230.2L808.3 230.1L809.0 229.5L809.8 229.7L810.5 229.8L811.3 230.3L812.0 230.2L812.8 229.7L813.5 230.0L814.3 230.1L815.0 230.3L815.8 229.7L816.5 229.7L817.3 230.3L818.0 230.2L818.8 229.8L819.5 229.7L820.3 229.9L821.0 229.5L821.8 230.1L822.5 230.3L823.3 229.7L824.0 230.4L824.8 230.3L825.5 229.6L826.3 230.3L827.0 230.3L827.8 230.1L828.5 229.7L829.3 230.0L830.0 230.5L830.8 230.1L831.5 230.5L832.3 230.3L833.0 230.1L833.8 230.3L834.5 230.0L835.3 229.6L836.0 230.0L836.8 229.7L837.5 229.8L838.3 229.6L839.0 230.0L839.8 230.3L840.5 230.5L841.3 230.3L842.0 230.2L842.8 230.3L843.5 229.7L844.3 230.1L845.0 230.4L845.8 230.2L846.5 229.9L847.3 230.2L848.0 230.4L848.8 229.9L849.5 229.7L850.3 229.8L851.0 230.2L851.8 229.7L852.5 229.7L853.3 230.5L854.0 229.5L854.8 229.6L855.5 230.3L856.3 230.2L857.0 230.4L857.8 230.4L858.5 229.7L859.3 230.2L860.0 229.8L860.8 230.2L861.5 229.6L862.3 230.3L863.0 229.7L863.8 230.2L864.5 230.0L865.3 230.2L866.0 229.9" fill="none" stroke="#30bcba" stroke-width="3.4" stroke-linejoin="round"/>
<rect x="191.5" y="161.0" width="674.5" height="497.5" fill="none" stroke="#333" stroke-width="2"/>
<line x1="191.5" y1="658.5" x2="191.5" y2="648.5" stroke="#333" stroke-width="2"/>
<line x1="247.7" y1="658.5" x2="247.7" y2="653.5" stroke="#333" stroke-width="2"/>
<line x1="303.9" y1="658.5" x2="303.9" y2="648.5" stroke="#333" stroke-width="2"/>
<line x1="360.1" y1="658.5" x2="360.1" y2="653.5" stroke="#333" stroke-width="2"/>
<line x1="416.3" y1="658.5" x2="416.3" y2="648.5" stroke="#333" stroke-width="2"/>
<line x1="472.5" y1="658.5" x2="472.5" y2="653.5" stroke="#333" stroke-width="2"/>
<line x1="528.8" y1="658.5" x2="528.8" y2="648.5" stroke="#333" stroke-width="2"/>
<line x1="585.0" y1="658.5" x2="585.0" y2="653.5" stroke="#333" stroke-width="2"/>
<line x1="641.2" y1="658.5" x2="641.2" y2="648.5" stroke="#333" stroke-width="2"/>
<line x1="697.4" y1="658.5" x2="697.4" y2="653.5" stroke="#333" stroke-width="2"/>
<line x1="753.6" y1="658.5" x2="753.6" y2="648.5" stroke="#333" stroke-width="2"/>
<line x1="809.8" y1="658.5" x2="809.8" y2="653.5" stroke="#333" stroke-width="2"/>
<line x1="866.0" y1="658.5" x2="866.0" y2="648.5" stroke="#333" stroke-width="2"/>
<text x="191.5" y="690" font-size="27" text-anchor="middle" fill="#1a1a1a">20</text>
<text x="303.9" y="690" font-size="27" text-anchor="middle" fill="#1a1a1a">30</text>
<text x="416.3" y="690" font-size="27" text-anchor="middle" fill="#1a1a1a">40</text>
<text x="528.8" y="690" font-size="27" text-anchor="middle" fill="#1a1a1a">50</text>
<text x="641.2" y="690" font-size="27" text-anchor="middle" fill="#1a1a1a">60</text>
<text x="753.6" y="690" font-size="27" text-anchor="middle" fill="#1a1a1a">70</text>
<text x="866.0" y="690" font-size="27" text-anchor="middle" fill="#1a1a1a">80</text>
<text x="522" y="745.5" font-size="40.5" text-anchor="middle" fill="#111">2 θ ( deg.)</text>
<text transform="translate(151,414.5) rotate(-90)" font-size="46.5" text-anchor="middle" fill="#111" textLength="400" lengthAdjust="spacingAndGlyphs">Intensity (arb. Unit)</text>
<text x="54" y="126" font-size="41" font-weight="bold" fill="#111">(a)</text>
<text x="206.5" y="221.0" font-size="26.5" fill="#1a1a1a">18 sccm</text>
<text x="206.5" y="277.5" font-size="26.5" fill="#1a1a1a">15 sccm</text>
<text x="206.5" y="345.5" font-size="26.5" fill="#1a1a1a">12 sccm</text>
<text x="206.5" y="409.0" font-size="26.5" fill="#1a1a1a">9 sccm</text>
<text x="206.5" y="472.5" font-size="26.5" fill="#1a1a1a">6 sccm</text>
<text x="206.5" y="557.3" font-size="26.5" fill="#1a1a1a">3 sccm</text>
<text x="206.5" y="613.6" font-size="26.5" fill="#1a1a1a">0 sccm</text>
<text transform="translate(381.0,154.3) rotate(-90)" font-size="26" fill="#111" textLength="137.5" lengthAdjust="spacingAndGlyphs">Mo<tspan font-size="18" dy="4">2</tspan><tspan dy="-4">N (111)</tspan></text>
<text transform="translate(422.4,154.3) rotate(-90)" font-size="26" fill="#111" textLength="109.5" lengthAdjust="spacingAndGlyphs">Mo (110)</text>
<text transform="translate(449.6,154.3) rotate(-90)" font-size="26" fill="#111" textLength="137.5" lengthAdjust="spacingAndGlyphs">Mo<tspan font-size="18" dy="4">2</tspan><tspan dy="-4">N (200)</tspan></text>
<text transform="translate(479.0,154.3) rotate(-90)" font-size="26" fill="#111" textLength="127.0" lengthAdjust="spacingAndGlyphs">Cr<tspan font-size="18" dy="4">2</tspan><tspan dy="-4">N (111)</tspan></text>
<text transform="translate(622.0,154.3) rotate(-90)" font-size="26" fill="#111" textLength="109.0" lengthAdjust="spacingAndGlyphs">Mo (200)</text>
<text transform="translate(668.3,154.3) rotate(-90)" font-size="26" fill="#111" textLength="136.0" lengthAdjust="spacingAndGlyphs">Mo<tspan font-size="18" dy="4">2</tspan><tspan dy="-4">N (220)</tspan></text>
<text transform="translate(791.5,154.3) rotate(-90)" font-size="26" fill="#111" textLength="109.0" lengthAdjust="spacingAndGlyphs">Mo (220)</text>
<text transform="translate(817.2,154.3) rotate(-90)" font-size="26" fill="#111" textLength="138.5" lengthAdjust="spacingAndGlyphs">Mo<tspan font-size="18" dy="4">2</tspan><tspan dy="-4">N (311)</tspan></text>
<rect x="352.4" y="207.9" width="118.9" height="99" fill="none" stroke="#333" stroke-width="1.3"/>
<line x1="471.3" y1="207.9" x2="933" y2="161.5" stroke="#444" stroke-width="1"/>
<line x1="471.3" y1="306.9" x2="933" y2="421" stroke="#444" stroke-width="1"/>
<path d="M933.0 247.1L933.1 252.1L933.3 242.7L933.4 250.1L933.6 242.0L933.7 250.3L933.9 237.9L934.0 254.3L934.2 237.7L934.3 260.0L934.5 246.7L934.6 249.0L934.8 246.7L934.9 251.3L935.1 245.1L935.2 256.5L935.4 246.4L935.5 249.4L935.6 245.7L935.8 254.9L935.9 243.4L936.1 250.2L936.2 248.3L936.4 257.1L936.5 247.9L936.7 253.8L936.8 238.9L937.0 253.8L937.1 239.0L937.3 250.6L937.4 244.2L937.6 252.1L937.7 241.7L937.9 251.4L938.0 238.3L938.1 249.2L938.3 235.1L938.4 263.7L938.6 234.7L938.7 253.2L938.9 245.0L939.0 249.2L939.2 242.7L939.3 249.4L939.5 239.3L939.6 248.7L939.8 239.4L939.9 256.3L940.1 235.7L940.2 254.4L940.4 241.5L940.5 247.5L940.6 235.7L940.8 245.5L940.9 236.8L941.1 248.6L941.2 233.3L941.4 243.2L941.5 233.2L941.7 249.1L941.8 237.5L942.0 246.9L942.1 240.8L942.3 244.3L942.4 241.8L942.6 245.9L942.7 236.0L942.9 248.6L943.0 242.5L943.1 248.1L943.3 243.9L943.4 249.0L943.6 239.6L943.7 248.8L943.9 244.8L944.0 252.2L944.2 232.5L944.3 250.9L944.5 247.4L944.6 249.5L944.8 242.8L944.9 257.2L945.1 244.2L945.2 259.6L945.4 247.9L945.5 254.3L945.6 243.4L945.8 260.0L945.9 249.6L946.1 264.0L946.2 245.8L946.4 252.0L946.5 244.3L946.7 253.1L946.8 245.4L947.0 253.1L947.1 250.0L947.3 255.7L947.4 247.6L947.6 257.9L947.7 243.5L947.9 256.7L948.0 251.9L948.1 259.4L948.3 246.2L948.4 262.2L948.6 239.3L948.7 261.3L948.9 249.7L949.0 255.0L949.2 245.0L949.3 262.1L949.5 247.6L949.6 263.8L949.8 243.3L949.9 254.3L950.1 240.6L950.2 258.1L950.4 252.7L950.5 258.3L950.6 252.5L950.8 259.7L950.9 248.6L951.1 258.8L951.2 240.3L951.4 260.1L951.5 251.9L951.7 253.4L951.8 241.6L952.0 253.6L952.1 252.1L952.3 261.6L952.4 242.8L952.6 257.4L952.7 253.5L952.9 258.8L953.0 243.5L953.2 257.8L953.3 247.8L953.4 258.8L953.6 246.1L953.7 256.2L953.9 249.7L954.0 266.5L954.2 239.5L954.3 259.7L954.5 249.0L954.6 258.9L954.8 245.4L954.9 258.4L955.1 248.3L955.2 262.7L955.4 241.6L955.5 265.7L955.7 248.3L955.8 258.8L955.9 250.7L956.1 260.3L956.2 252.5L956.4 263.6L956.5 243.2L956.7 256.8L956.8 249.0L957.0 260.0L957.1 250.4L957.3 271.5L957.4 243.7L957.6 257.4L957.7 242.0L957.9 261.4L958.0 246.1L958.2 266.5L958.3 252.9L958.4 256.0L958.6 241.0L958.7 261.5L958.9 243.7L959.0 261.3L959.2 249.2L959.3 256.6L959.5 254.5L959.6 258.3L959.8 251.9L959.9 257.3L960.1 252.8L960.2 260.0L960.4 250.9L960.5 254.9L960.7 254.9L960.8 256.1L960.9 252.2L961.1 261.8L961.2 252.0L961.4 261.2L961.5 248.9L961.7 259.8L961.8 248.2L962.0 265.2L962.1 250.0L962.3 258.4L962.4 245.3L962.6 259.6L962.7 244.2L962.9 261.3L963.0 254.1L963.2 259.8L963.3 251.2L963.4 261.0L963.6 247.0L963.7 256.5L963.9 251.3L964.0 260.8L964.2 247.5L964.3 256.4L964.5 250.1L964.6 255.3L964.8 253.9L964.9 255.6L965.1 248.4L965.2 259.4L965.4 252.5L965.5 268.4L965.7 251.7L965.8 255.7L965.9 243.5L966.1 258.8L966.2 254.2L966.4 267.3L966.5 243.2L966.7 255.9L966.8 243.7L967.0 262.5L967.1 255.4L967.3 257.3L967.4 245.9L967.6 263.3L967.7 248.9L967.9 267.7L968.0 252.6L968.2 266.2L968.3 254.6L968.4 258.0L968.6 251.4L968.7 258.3L968.9 254.9L969.0 273.8L969.2 246.4L969.3 257.5L969.5 254.6L969.6 258.3L969.8 256.1L969.9 265.7L970.1 251.6L970.2 258.3L970.4 254.0L970.5 261.3L970.7 253.4L970.8 257.3L970.9 231.0L971.1 258.8L971.2 249.5L971.4 272.2L971.5 252.9L971.7 272.1L971.8 251.9L972.0 263.1L972.1 253.7L972.3 264.1L972.4 255.5L972.6 280.6L972.7 249.6L972.9 257.4L973.0 253.5L973.2 262.0L973.3 246.6L973.4 257.6L973.6 248.3L973.7 262.1L973.9 253.1L974.0 262.3L974.2 253.3L974.3 263.0L974.5 247.9L974.6 265.2L974.8 257.9L974.9 263.1L975.1 246.7L975.2 269.7L975.4 248.4L975.5 268.7L975.7 257.9L975.8 260.3L975.9 258.2L976.1 267.8L976.2 255.4L976.4 260.0L976.5 255.4L976.7 268.8L976.8 255.6L977.0 263.3L977.1 256.9L977.3 262.2L977.4 254.3L977.6 259.1L977.7 255.6L977.9 260.2L978.0 257.6L978.2 261.6L978.3 246.9L978.4 265.1L978.6 252.6L978.7 263.5L978.9 254.6L979.0 261.5L979.2 250.4L979.3 259.8L979.5 259.1L979.6 264.6L979.8 247.7L979.9 266.0L980.1 249.9L980.2 262.0L980.4 259.9L980.5 260.2L980.7 254.3L980.8 271.6L980.9 257.3L981.1 262.7L981.2 250.7L981.4 264.2L981.5 247.0L981.7 262.7L981.8 259.0L982.0 275.2L982.1 257.3L982.3 264.3L982.4 258.9L982.6 262.5L982.7 257.4L982.9 266.1L983.0 258.7L983.2 267.9L983.3 255.6L983.4 266.1L983.6 251.4L983.7 265.5L983.9 251.6L984.0 261.5L984.2 254.1L984.3 283.3L984.5 258.0L984.6 267.4L984.8 258.5L984.9 271.9L985.1 256.2L985.2 262.8L985.4 259.9L985.5 272.7L985.7 257.7L985.8 262.1L986.0 254.0L986.1 275.7L986.2 258.1L986.4 279.3L986.5 256.2L986.7 264.7L986.8 259.9L987.0 284.7L987.1 256.4L987.3 286.2L987.4 259.2L987.6 268.0L987.7 262.3L987.9 263.0L988.0 259.4L988.2 263.6L988.3 255.2L988.5 272.2L988.6 255.8L988.7 265.1L988.9 260.7L989.0 272.8L989.2 252.9L989.3 269.3L989.5 260.8L989.6 263.6L989.8 262.9L989.9 277.0L990.1 254.5L990.2 265.6L990.4 259.6L990.5 268.0L990.7 255.3L990.8 271.2L991.0 262.6L991.1 270.7L991.2 259.7L991.4 266.7L991.5 259.8L991.7 265.3L991.8 258.6L992.0 273.6L992.1 261.0L992.3 269.2L992.4 260.1L992.6 273.9L992.7 255.6L992.9 265.4L993.0 249.4L993.2 276.6L993.3 257.5L993.5 268.1L993.6 263.1L993.7 270.5L993.9 263.7L994.0 276.4L994.2 260.9L994.3 268.4L994.5 263.6L994.6 268.2L994.8 256.2L994.9 275.0L995.1 247.8L995.2 276.3L995.4 260.5L995.5 272.8L995.7 252.1L995.8 265.9L996.0 258.7L996.1 265.3L996.2 255.5L996.4 265.4L996.5 259.2L996.7 269.3L996.8 261.1L997.0 265.0L997.1 262.7L997.3 270.0L997.4 263.7L997.6 272.7L997.7 258.1L997.9 264.3L998.0 262.2L998.2 267.9L998.3 261.1L998.5 265.0L998.6 262.0L998.7 265.9L998.9 259.3L999.0 266.5L999.2 260.5L999.3 271.4L999.5 249.2L999.6 280.1L999.8 262.5L999.9 267.8L1000.1 252.8L1000.2 269.0L1000.4 257.0L1000.5 264.3L1000.7 254.2L1000.8 274.3L1001.0 257.9L1001.1 268.7L1001.2 248.4L1001.4 265.0L1001.5 257.2L1001.7 278.9L1001.8 246.3L1002.0 269.0L1002.1 257.0L1002.3 265.6L1002.4 260.9L1002.6 266.0L1002.7 252.1L1002.9 269.6L1003.0 261.1L1003.2 268.8L1003.3 258.8L1003.5 265.6L1003.6 254.1L1003.7 265.7L1003.9 260.3L1004.0 264.7L1004.2 258.0L1004.3 265.8L1004.5 253.2L1004.6 266.0L1004.8 252.7L1004.9 262.9L1005.1 260.5L1005.2 272.7L1005.4 258.3L1005.5 261.8L1005.7 255.3L1005.8 264.9L1006.0 259.3L1006.1 263.0L1006.2 258.7L1006.4 261.0L1006.5 257.4L1006.7 261.7L1006.8 259.3L1007.0 272.4L1007.1 244.2L1007.3 261.2L1007.4 256.7L1007.6 274.8L1007.7 260.0L1007.9 263.9L1008.0 258.6L1008.2 263.3L1008.3 258.6L1008.5 264.7L1008.6 255.7L1008.7 260.6L1008.9 253.7L1009.0 272.0L1009.2 253.4L1009.3 264.7L1009.5 253.5L1009.6 265.2L1009.8 243.0L1009.9 271.6L1010.1 257.5L1010.2 263.8L1010.4 251.8L1010.5 267.3L1010.7 258.7L1010.8 260.7L1011.0 246.6L1011.1 272.9L1011.2 258.3L1011.4 258.8L1011.5 253.2L1011.7 262.9L1011.8 255.1L1012.0 264.1L1012.1 252.1L1012.3 258.2L1012.4 256.7L1012.6 266.5L1012.7 252.7L1012.9 263.1L1013.0 257.7L1013.2 261.5L1013.3 249.9L1013.5 265.9L1013.6 248.3L1013.7 258.3L1013.9 253.2L1014.0 263.1L1014.2 257.3L1014.3 271.5L1014.5 253.4L1014.6 260.0L1014.8 249.1L1014.9 257.9L1015.1 254.5L1015.2 265.7L1015.4 255.6L1015.5 260.9L1015.7 244.1L1015.8 261.2L1016.0 244.5L1016.1 257.5L1016.2 256.7L1016.4 264.1L1016.5 256.8L1016.7 258.8L1016.8 252.7L1017.0 268.8L1017.1 250.4L1017.3 259.2L1017.4 256.0L1017.6 266.2L1017.7 256.1L1017.9 257.7L1018.0 256.3L1018.2 272.6L1018.3 252.7L1018.5 260.9L1018.6 250.1L1018.7 264.2L1018.9 244.7L1019.0 259.3L1019.2 247.3L1019.3 261.0L1019.5 254.8L1019.6 265.8L1019.8 256.0L1019.9 258.2L1020.1 253.5L1020.2 260.0L1020.4 253.7L1020.5 265.6L1020.7 249.1L1020.8 260.5L1021.0 251.2L1021.1 269.4L1021.2 243.6L1021.4 265.1L1021.5 255.8L1021.7 258.2L1021.8 249.0L1022.0 266.2L1022.1 254.7L1022.3 258.9L1022.4 252.3L1022.6 263.4L1022.7 255.1L1022.9 267.3L1023.0 249.7L1023.2 258.9L1023.3 250.6L1023.5 258.5L1023.6 251.5L1023.8 265.6L1023.9 255.4L1024.0 259.5L1024.2 252.9L1024.3 257.4L1024.5 249.8L1024.6 257.6L1024.8 254.3L1024.9 264.3L1025.1 256.4L1025.2 273.0L1025.4 255.0L1025.5 264.7L1025.7 247.4L1025.8 263.0L1026.0 253.2L1026.1 261.9L1026.3 255.4L1026.4 260.5L1026.5 256.1L1026.7 262.4L1026.8 247.7L1027.0 266.8L1027.1 246.9L1027.3 259.7L1027.4 254.2L1027.6 262.3L1027.7 252.0L1027.9 266.7L1028.0 256.4L1028.2 266.1L1028.3 254.0L1028.5 260.8L1028.6 254.0L1028.8 269.7L1028.9 257.6L1029.0 263.5L1029.2 255.7L1029.3 261.4L1029.5 244.3L1029.6 267.6L1029.8 246.2L1029.9 258.9L1030.1 254.6L1030.2 266.5L1030.4 256.4L1030.5 258.8L1030.7 255.1L1030.8 264.9L1031.0 252.2L1031.1 264.6L1031.3 251.9L1031.4 261.5L1031.5 253.6L1031.7 259.9L1031.8 256.2L1032.0 267.7L1032.1 253.2L1032.3 263.2L1032.4 252.1L1032.6 261.6L1032.7 254.3L1032.9 261.3L1033.0 252.9L1033.2 262.3L1033.3 253.9L1033.5 266.4L1033.6 227.9L1033.8 258.9L1033.9 251.8L1034.0 267.4L1034.2 251.0L1034.3 262.9L1034.5 248.6L1034.6 258.6L1034.8 244.6L1034.9 266.4L1035.1 249.4L1035.2 264.9L1035.4 256.7L1035.5 259.8L1035.7 251.3L1035.8 258.7L1036.0 255.1L1036.1 262.3L1036.3 250.8L1036.4 261.2L1036.5 254.8L1036.7 261.1L1036.8 255.0L1037.0 267.0L1037.1 255.9L1037.3 275.0L1037.4 253.5L1037.6 269.4L1037.7 255.4L1037.9 259.6L1038.0 255.6L1038.2 262.8L1038.3 252.3L1038.5 260.6L1038.6 257.8L1038.8 263.5L1038.9 250.4L1039.0 262.8L1039.2 247.3L1039.3 264.3L1039.5 249.4L1039.6 265.2L1039.8 257.5L1039.9 259.6L1040.1 256.0L1040.2 262.8L1040.4 257.5L1040.5 269.8L1040.7 249.1L1040.8 265.0L1041.0 249.6L1041.1 265.4L1041.3 255.1L1041.4 269.9L1041.5 247.1L1041.7 259.4L1041.8 252.2L1042.0 258.3L1042.1 253.8L1042.3 255.6L1042.4 247.3L1042.6 254.6L1042.7 240.9L1042.9 253.0L1043.0 245.1L1043.2 261.1L1043.3 246.7L1043.5 248.5L1043.6 237.7L1043.8 246.6L1043.9 234.6L1044.0 258.0L1044.2 239.0L1044.3 239.9L1044.5 230.6L1044.6 247.1L1044.8 224.1L1044.9 236.0L1045.1 226.4L1045.2 237.4L1045.4 230.6L1045.5 240.1L1045.7 217.5L1045.8 237.0L1046.0 234.9L1046.1 244.2L1046.3 233.3L1046.4 251.1L1046.5 238.1L1046.7 251.3L1046.8 243.3L1047.0 249.3L1047.1 244.3L1047.3 261.6L1047.4 246.5L1047.6 260.6L1047.7 253.7L1047.9 260.6L1048.0 257.2L1048.2 263.4L1048.3 256.8L1048.5 273.9L1048.6 255.2L1048.8 271.0L1048.9 259.0L1049.0 268.0L1049.2 252.4L1049.3 274.0L1049.5 259.3L1049.6 263.6L1049.8 252.5L1049.9 266.7L1050.1 250.6L1050.2 271.9L1050.4 261.1L1050.5 265.4L1050.7 262.8L1050.8 265.0L1051.0 252.0L1051.1 276.0L1051.3 263.6L1051.4 265.4L1051.5 264.1L1051.7 268.8L1051.8 261.8L1052.0 277.2L1052.1 257.8L1052.3 272.3L1052.4 264.5L1052.6 293.5L1052.7 255.7L1052.9 265.9L1053.0 261.2L1053.2 274.9L1053.3 262.9L1053.5 265.4L1053.6 256.2L1053.8 268.9L1053.9 259.2L1054.0 272.4L1054.2 256.7L1054.3 272.8L1054.5 260.4L1054.6 267.6L1054.8 261.8L1054.9 277.0L1055.1 253.3L1055.2 267.1L1055.4 253.2L1055.5 271.3L1055.7 254.3L1055.8 273.7L1056.0 260.4L1056.1 265.5L1056.3 260.0L1056.4 277.9L1056.5 260.5L1056.7 277.6L1056.8 258.5L1057.0 275.0L1057.1 263.9L1057.3 267.7L1057.4 262.2L1057.6 275.8L1057.7 257.8L1057.9 271.6L1058.0 265.2L1058.2 276.3L1058.3 255.4L1058.5 271.7L1058.6 253.3L1058.8 272.1L1058.9 256.9L1059.1 266.7L1059.2 261.2L1059.3 274.6L1059.5 259.0L1059.6 270.0L1059.8 259.1L1059.9 265.5L1060.1 264.5L1060.2 269.1L1060.4 263.2L1060.5 265.6L1060.7 260.4L1060.8 271.0L1061.0 264.1L1061.1 272.1L1061.3 258.4L1061.4 291.2L1061.6 264.1L1061.7 269.2L1061.8 253.0L1062.0 270.0L1062.1 263.3L1062.3 266.6L1062.4 253.3L1062.6 276.5L1062.7 254.9L1062.9 277.8L1063.0 261.6L1063.2 266.5L1063.3 264.9L1063.5 267.0L1063.6 253.7L1063.8 273.3L1063.9 262.9L1064.1 275.1L1064.2 261.7L1064.3 266.4L1064.5 262.7L1064.6 270.0L1064.8 260.6L1064.9 268.6L1065.1 261.1L1065.2 265.5L1065.4 264.6L1065.5 266.0L1065.7 250.5L1065.8 268.3L1066.0 255.9L1066.1 275.1L1066.3 252.7L1066.4 273.5L1066.6 259.3L1066.7 266.7L1066.8 262.4L1067.0 267.5L1067.1 263.0L1067.3 272.9L1067.4 264.2L1067.6 271.5L1067.7 261.7L1067.9 269.8L1068.0 259.0L1068.2 277.6L1068.3 251.8L1068.5 269.6L1068.6 259.4L1068.8 265.5L1068.9 251.6L1069.1 279.7L1069.2 260.3L1069.3 267.8L1069.5 263.8L1069.6 273.7L1069.8 262.5L1069.9 274.1L1070.1 260.7L1070.2 271.5L1070.4 260.7L1070.5 266.9L1070.7 259.8L1070.8 274.6L1071.0 262.1L1071.1 265.8L1071.3 263.8L1071.4 268.8L1071.6 261.2L1071.7 272.4L1071.8 263.7L1072.0 271.0L1072.1 262.2L1072.3 269.8L1072.4 263.2L1072.6 264.4L1072.7 260.8L1072.9 268.0L1073.0 261.7L1073.2 267.2L1073.3 256.4L1073.5 264.5L1073.6 256.8L1073.8 271.3L1073.9 259.8L1074.1 273.5L1074.2 252.0L1074.3 269.2L1074.5 256.2L1074.6 265.3L1074.8 259.7L1074.9 265.1L1075.1 264.1L1075.2 276.1L1075.4 261.9L1075.5 268.2L1075.7 257.1L1075.8 267.8L1076.0 257.1L1076.1 271.7L1076.3 256.4L1076.4 264.4L1076.6 261.1L1076.7 266.0L1076.8 259.0L1077.0 270.8L1077.1 257.0L1077.3 277.6L1077.4 259.8L1077.6 270.7L1077.7 263.0L1077.9 269.8L1078.0 247.2L1078.2 271.2L1078.3 259.0L1078.5 275.6L1078.6 249.3L1078.8 267.9L1078.9 259.8L1079.1 268.5L1079.2 252.0L1079.3 267.1L1079.5 252.9L1079.6 266.1L1079.8 259.0L1079.9 285.3L1080.1 260.7L1080.2 267.9L1080.4 249.7L1080.5 267.8L1080.7 257.1L1080.8 264.8L1081.0 260.7L1081.1 272.8L1081.3 256.4L1081.4 266.1L1081.6 260.3L1081.7 264.7L1081.8 262.1L1082.0 270.3L1082.1 257.0L1082.3 268.2L1082.4 255.4L1082.6 267.9L1082.7 256.0L1082.9 265.9L1083.0 262.1L1083.2 268.4L1083.3 253.0L1083.5 269.7L1083.6 260.8L1083.8 267.5L1083.9 259.7L1084.1 282.6L1084.2 262.5L1084.3 265.8L1084.5 257.9L1084.6 266.2L1084.8 260.2L1084.9 266.7L1085.1 260.4L1085.2 268.6L1085.4 254.3L1085.5 272.2L1085.7 263.0L1085.8 274.4L1086.0 261.5L1086.1 273.6L1086.3 263.2L1086.4 264.1L1086.6 246.9L1086.7 263.8L1086.8 260.8L1087.0 276.5L1087.1 256.7L1087.3 265.7L1087.4 257.1L1087.6 268.7L1087.7 260.6L1087.9 275.8L1088.0 261.2L1088.2 268.5L1088.3 261.0L1088.5 264.8L1088.6 256.5L1088.8 273.7L1088.9 241.6L1089.1 269.7L1089.2 256.3L1089.3 266.3L1089.5 240.7L1089.6 268.8L1089.8 260.7L1089.9 269.1L1090.1 253.8L1090.2 275.9L1090.4 258.0L1090.5 266.8L1090.7 251.1L1090.8 269.1L1091.0 254.6L1091.1 266.4L1091.3 251.3L1091.4 265.2L1091.6 250.9L1091.7 264.6L1091.8 255.1L1092.0 269.0L1092.1 257.7L1092.3 267.2L1092.4 255.1L1092.6 263.4L1092.7 256.7L1092.9 269.2L1093.0 261.5L1093.2 264.2L1093.3 256.8L1093.5 272.0L1093.6 257.9L1093.8 269.9L1093.9 254.4L1094.1 262.7L1094.2 240.8L1094.4 266.9L1094.5 259.8L1094.6 265.1L1094.8 259.3L1094.9 264.8L1095.1 253.5L1095.2 275.5L1095.4 261.7L1095.5 268.1L1095.7 259.9L1095.8 266.8L1096.0 257.1L1096.1 265.3L1096.3 249.4L1096.4 266.9L1096.6 253.8L1096.7 265.6L1096.9 250.6L1097.0 267.6L1097.1 259.9L1097.3 267.2L1097.4 246.2L1097.6 262.5L1097.7 261.2L1097.9 266.6L1098.0 250.6L1098.2 263.2L1098.3 259.4L1098.5 265.2L1098.6 259.0L1098.8 263.2L1098.9 260.0L1099.1 263.3L1099.2 259.0L1099.4 265.8L1099.5 261.7L1099.6 263.6L1099.8 256.2L1099.9 270.3L1100.1 260.1L1100.2 264.7L1100.4 260.5L1100.5 265.3L1100.7 250.0L1100.8 273.2L1101.0 257.0L1101.1 261.8L1101.3 260.3L1101.4 266.5L1101.6 258.3L1101.7 265.2L1101.9 259.3L1102.0 263.9L1102.1 260.1L1102.3 272.6L1102.4 256.4L1102.6 263.8L1102.7 255.8L1102.9 272.8L1103.0 254.9L1103.2 266.6L1103.3 260.6L1103.5 263.6L1103.6 254.0L1103.8 268.5L1103.9 251.7L1104.1 267.1L1104.2 255.0L1104.4 264.8L1104.5 257.7L1104.6 265.9L1104.8 259.1L1104.9 265.2L1105.1 257.5L1105.2 263.1L1105.4 258.9L1105.5 277.0L1105.7 257.0L1105.8 262.6L1106.0 252.9L1106.1 259.2L1106.3 252.6L1106.4 263.4L1106.6 246.3L1106.7 260.9L1106.9 247.4L1107.0 261.5L1107.1 245.1L1107.3 256.1L1107.4 238.9L1107.6 253.8L1107.7 245.3L1107.9 247.3L1108.0 244.0L1108.2 256.5L1108.3 238.3L1108.5 247.8L1108.6 245.9L1108.8 260.2L1108.9 240.0L1109.1 254.2L1109.2 249.1L1109.4 255.0L1109.5 251.2L1109.6 267.0L1109.8 247.5L1109.9 259.2L1110.1 252.4L1110.2 260.9L1110.4 257.9L1110.5 262.9L1110.7 259.6L1110.8 265.1L1111.0 254.9L1111.1 263.1L1111.3 255.6L1111.4 267.5L1111.6 250.7L1111.7 264.5L1111.9 255.5L1112.0 265.6L1112.1 257.5L1112.3 265.1L1112.4 256.7L1112.6 263.7L1112.7 258.7L1112.9 262.8L1113.0 259.3L1113.2 267.0L1113.3 251.1L1113.5 262.5L1113.6 253.7L1113.8 263.1L1113.9 258.2L1114.1 265.0L1114.2 254.0L1114.4 266.7L1114.5 259.4L1114.6 266.3L1114.8 251.2L1114.9 264.2L1115.1 258.7L1115.2 270.9L1115.4 256.8L1115.5 272.3L1115.7 260.5L1115.8 266.1L1116.0 256.9L1116.1 268.5L1116.3 262.3L1116.4 264.4L1116.6 258.2L1116.7 271.7L1116.9 254.9L1117.0 262.8L1117.1 260.2L1117.3 263.9L1117.4 246.5L1117.6 272.8L1117.7 258.7L1117.9 265.3L1118.0 255.7L1118.2 273.4L1118.3 260.7L1118.5 272.1L1118.6 259.0L1118.8 268.6L1118.9 259.5L1119.1 264.9L1119.2 257.2L1119.4 265.1L1119.5 259.5L1119.6 269.2L1119.8 251.1L1119.9 276.0L1120.1 261.9L1120.2 264.9L1120.4 260.4L1120.5 270.9L1120.7 259.5L1120.8 267.2L1121.0 258.7L1121.1 263.6L1121.3 254.6L1121.4 267.7L1121.6 256.0L1121.7 266.9L1121.9 259.8L1122.0 265.6L1122.1 253.0L1122.3 271.3L1122.4 258.0L1122.6 263.9L1122.7 261.7L1122.9 271.3L1123.0 260.7L1123.2 264.3L1123.3 250.9L1123.5 267.7L1123.6 262.8L1123.8 266.1L1123.9 253.1L1124.1 270.3L1124.2 254.8L1124.4 265.0L1124.5 262.6L1124.6 265.2L1124.8 254.3L1124.9 263.8L1125.1 261.2L1125.2 269.6L1125.4 257.2L1125.5 269.0L1125.7 257.7L1125.8 272.4L1126.0 257.9L1126.1 274.0L1126.3 261.8L1126.4 278.8L1126.6 260.7L1126.7 264.9L1126.9 251.9L1127.0 272.8L1127.2 260.7L1127.3 269.8L1127.4 262.2L1127.6 264.1L1127.7 259.9L1127.9 270.8L1128.0 260.6L1128.2 265.7L1128.3 258.9L1128.5 282.0L1128.6 261.3L1128.8 266.5L1128.9 262.8L1129.1 265.1L1129.2 260.6L1129.4 269.3L1129.5 259.8L1129.7 268.9L1129.8 258.4L1129.9 266.2L1130.1 261.9L1130.2 264.6L1130.4 255.3L1130.5 265.4L1130.7 255.1L1130.8 264.3L1131.0 245.3L1131.1 268.6L1131.3 261.3L1131.4 268.4L1131.6 263.2L1131.7 272.3L1131.9 262.2L1132.0 264.0L1132.2 256.2L1132.3 272.1L1132.4 260.6L1132.6 268.1L1132.7 255.0L1132.9 267.9L1133.0 263.7L1133.2 272.0L1133.3 258.0L1133.5 266.4L1133.6 255.7L1133.8 281.8L1133.9 264.2L1134.1 269.2L1134.2 251.3L1134.4 265.1L1134.5 259.5L1134.7 266.9L1134.8 262.9L1134.9 270.0L1135.1 259.2L1135.2 267.0L1135.4 261.2L1135.5 266.8L1135.7 257.9L1135.8 273.7L1136.0 258.1L1136.1 268.1L1136.3 265.0L1136.4 266.5L1136.6 263.8L1136.7 269.5L1136.9 254.8L1137.0 273.1L1137.2 263.6L1137.3 281.9L1137.4 260.5L1137.6 277.7L1137.7 262.4L1137.9 272.9L1138.0 261.6L1138.2 267.7L1138.3 261.7L1138.5 271.0L1138.6 259.4L1138.8 268.1L1138.9 261.9L1139.1 272.4L1139.2 264.8L1139.4 266.2L1139.5 263.8L1139.7 266.2L1139.8 264.7L1139.9 268.6L1140.1 265.8L1140.2 269.0L1140.4 257.8L1140.5 268.3L1140.7 261.6L1140.8 269.8L1141.0 263.7L1141.1 277.1L1141.3 263.9L1141.4 284.2L1141.6 251.3L1141.7 270.4L1141.9 257.3L1142.0 268.1L1142.2 262.1L1142.3 267.1L1142.4 263.4L1142.6 267.5L1142.7 263.0L1142.9 268.4L1143.0 264.6L1143.2 270.3L1143.3 266.3L1143.5 268.5L1143.6 259.6L1143.8 268.1L1143.9 265.0L1144.1 274.2L1144.2 259.1L1144.4 274.0L1144.5 256.8L1144.7 275.0L1144.8 255.2L1144.9 275.4L1145.1 266.8L1145.2 272.5L1145.4 267.2L1145.5 272.1L1145.7 261.5L1145.8 287.7L1146.0 260.7L1146.1 278.7L1146.3 267.8L1146.4 280.1L1146.6 254.4L1146.7 269.3L1146.9 262.3L1147.0 272.2L1147.2 264.8L1147.3 281.3L1147.4 265.6L1147.6 271.4L1147.7 267.9L1147.9 269.7L1148.0 254.1L1148.2 269.3L1148.3 265.2L1148.5 270.8L1148.6 260.8L1148.8 280.9L1148.9 266.9L1149.1 268.9L1149.2 268.0L1149.4 270.4L1149.5 264.0L1149.7 270.1L1149.8 263.4L1149.9 281.1L1150.1 264.4L1150.2 274.1L1150.4 262.6L1150.5 277.5L1150.7 264.4L1150.8 275.1L1151.0 265.4L1151.1 285.7L1151.3 268.6L1151.4 273.2L1151.6 261.7L1151.7 271.3L1151.9 268.6L1152.0 270.0L1152.2 261.4L1152.3 271.6L1152.4 262.1L1152.6 276.7L1152.7 254.2L1152.9 277.9L1153.0 266.4L1153.2 272.8L1153.3 258.0L1153.5 278.8L1153.6 266.1L1153.8 273.0L1153.9 263.3L1154.1 279.1L1154.2 267.7L1154.4 275.1L1154.5 257.9L1154.7 285.6L1154.8 265.0L1154.9 275.9L1155.1 268.9L1155.2 278.9L1155.4 268.3L1155.5 276.1L1155.7 267.3L1155.8 275.0L1156.0 268.4L1156.1 278.7L1156.3 259.6L1156.4 271.6L1156.6 269.3L1156.7 273.4L1156.9 262.1L1157.0 271.1L1157.2 264.3L1157.3 280.6L1157.4 263.5L1157.6 282.1L1157.7 260.9L1157.9 278.3L1158.0 267.2L1158.2 274.1L1158.3 267.4L1158.5 277.4L1158.6 252.5L1158.8 283.5L1158.9 258.5L1159.1 271.6L1159.2 267.4L1159.4 275.6L1159.5 265.9L1159.7 277.3L1159.8 267.4L1159.9 278.1L1160.1 269.0L1160.2 275.1L1160.4 268.6L1160.5 272.5L1160.7 268.0L1160.8 276.6L1161.0 268.7L1161.1 271.5L1161.3 268.8L1161.4 275.4L1161.6 267.9L1161.7 275.8L1161.9 266.4L1162.0 272.1L1162.2 263.5L1162.3 277.1L1162.5 270.0L1162.6 276.6L1162.7 255.1L1162.9 276.6L1163.0 263.3L1163.2 272.0L1163.3 256.9L1163.5 272.6L1163.6 258.3L1163.8 271.3L1163.9 268.9L1164.1 271.5L1164.2 269.1L1164.4 281.6L1164.5 259.9L1164.7 276.1L1164.8 270.4L1165.0 279.0L1165.1 268.8L1165.2 277.9L1165.4 263.2L1165.5 275.0L1165.7 268.2L1165.8 273.4L1166.0 251.4L1166.1 271.6L1166.3 269.0L1166.4 275.5L1166.6 264.2L1166.7 271.5L1166.9 263.2L1167.0 279.7L1167.2 270.5L1167.3 273.2L1167.5 263.8L1167.6 272.9L1167.7 269.9L1167.9 275.4L1168.0 266.0L1168.2 273.1L1168.3 266.1L1168.5 273.7L1168.6 268.8L1168.8 281.4L1168.9 257.0L1169.1 275.9L1169.2 265.2L1169.4 274.1L1169.5 270.1L1169.7 273.7L1169.8 264.4L1170.0 275.8L1170.1 267.4L1170.2 280.6L1170.4 270.1L1170.5 275.1L1170.7 269.7L1170.8 273.8L1171.0 264.0L1171.1 277.1L1171.3 270.8L1171.4 275.8L1171.6 260.4L1171.7 275.6L1171.9 267.5L1172.0 275.3L1172.2 267.6L1172.3 275.6L1172.5 267.1L1172.6 302.1L1172.7 265.9L1172.9 279.1L1173.0 266.8L1173.2 276.9L1173.3 271.5L1173.5 275.8L1173.6 253.8L1173.8 283.1L1173.9 271.6L1174.1 279.0L1174.2 270.6L1174.4 274.5L1174.5 266.7L1174.7 278.0L1174.8 271.6L1175.0 287.1L1175.1 272.0L1175.2 274.3L1175.4 264.9L1175.5 286.6L1175.7 270.1L1175.8 279.9L1176.0 268.8L1176.1 284.2L1176.3 271.2L1176.4 275.0L1176.6 263.9L1176.7 278.1L1176.9 266.4L1177.0 279.5L1177.2 270.4L1177.3 279.3L1177.5 266.8L1177.6 287.9L1177.7 269.2L1177.9 279.8L1178.0 272.1L1178.2 276.8L1178.3 269.2L1178.5 279.6L1178.6 268.5L1178.8 275.0L1178.9 273.8L1179.1 278.1L1179.2 251.6L1179.4 275.1L1179.5 263.5L1179.7 275.9L1179.8 273.7L1180.0 285.9L1180.1 268.8L1180.2 276.5L1180.4 273.2L1180.5 277.1L1180.7 266.0L1180.8 281.8L1181.0 275.2L1181.1 284.3L1181.3 268.2L1181.4 282.3L1181.6 273.0L1181.7 287.1L1181.9 269.5L1182.0 278.2L1182.2 275.5L1182.3 286.4L1182.5 273.9L1182.6 278.9L1182.7 267.4L1182.9 291.5L1183.0 268.5L1183.2 277.1L1183.3 276.1L1183.5 285.5L1183.6 269.8L1183.8 285.7L1183.9 274.1L1184.1 279.5L1184.2 276.3L1184.4 280.0L1184.5 267.6L1184.7 282.6L1184.8 270.7L1185.0 280.4L1185.1 272.9L1185.2 280.7L1185.4 273.7L1185.5 277.9L1185.7 276.7L1185.8 289.3L1186.0 272.3L1186.1 278.2L1186.3 272.9L1186.4 286.4L1186.6 274.4L1186.7 286.5L1186.9 274.8L1187.0 278.7L1187.2 272.5L1187.3 284.6L1187.5 264.4L1187.6 277.5L1187.7 274.7L1187.9 283.6L1188.0 275.0L1188.2 281.2L1188.3 273.4L1188.5 281.1L1188.6 275.3L1188.8 284.2L1188.9 270.4L1189.1 284.3L1189.2 275.5L1189.4 282.3L1189.5 275.4L1189.7 291.1L1189.8 271.6L1190.0 282.4L1190.1 273.5L1190.2 278.0L1190.4 277.6L1190.5 277.8L1190.7 266.4L1190.8 281.1L1191.0 271.2L1191.1 282.7L1191.3 267.2L1191.4 288.3L1191.6 269.8L1191.7 282.1L1191.9 271.7L1192.0 285.2L1192.2 268.2L1192.3 279.3L1192.5 266.3L1192.6 291.4L1192.7 274.6L1192.9 285.5L1193.0 269.8L1193.2 289.3L1193.3 276.4L1193.5 281.1L1193.6 272.7L1193.8 284.8L1193.9 269.6L1194.1 284.8L1194.2 277.6L1194.4 283.4L1194.5 268.7L1194.7 279.3L1194.8 265.8L1195.0 289.4L1195.1 277.3L1195.2 281.8L1195.4 276.4L1195.5 283.8L1195.7 275.2L1195.8 280.7L1196.0 277.2L1196.1 280.0L1196.3 261.8L1196.4 281.5L1196.6 274.0L1196.7 279.5L1196.9 274.1L1197.0 281.2L1197.2 273.1L1197.3 279.2L1197.5 266.3L1197.6 281.9L1197.8 276.6L1197.9 281.5L1198.0 269.1L1198.2 281.6L1198.3 268.7L1198.5 289.2L1198.6 274.7L1198.8 281.9L1198.9 274.3L1199.1 285.6L1199.2 277.7L1199.4 283.1L1199.5 278.0L1199.7 288.0L1199.8 274.0L1200.0 281.9L1200.1 271.6L1200.3 285.7L1200.4 268.4L1200.5 282.3L1200.7 276.3L1200.8 284.0L1201.0 270.6L1201.1 280.0L1201.3 274.5L1201.4 282.8L1201.6 265.7L1201.7 278.6L1201.9 271.5L1202.0 283.3L1202.2 275.5L1202.3 290.6L1202.5 278.3L1202.6 286.2L1202.8 278.1L1202.9 290.6L1203.0 271.7L1203.2 286.1L1203.3 278.3L1203.5 281.1L1203.6 278.0L1203.8 283.2L1203.9 270.8L1204.1 294.5L1204.2 278.0L1204.4 281.2L1204.5 269.7L1204.7 279.0L1204.8 272.3L1205.0 281.4L1205.1 267.1L1205.3 281.9L1205.4 274.9L1205.5 283.3L1205.7 276.7L1205.8 290.3L1206.0 274.1L1206.1 286.6L1206.3 271.5L1206.4 280.5L1206.6 272.0L1206.7 286.8L1206.9 270.5L1207.0 279.8L1207.2 267.5L1207.3 279.6L1207.5 276.8L1207.6 279.5L1207.8 269.9L1207.9 282.1L1208.0 277.1L1208.2 282.9L1208.3 275.8L1208.5 289.4L1208.6 276.2L1208.8 289.1L1208.9 270.1L1209.1 283.3L1209.2 265.7L1209.4 284.2L1209.5 272.7L1209.7 281.3L1209.8 278.0L1210.0 288.7L1210.1 275.0L1210.3 287.6L1210.4 275.9L1210.5 280.9L1210.7 277.4L1210.8 286.6L1211.0 273.4L1211.1 289.1L1211.3 270.1L1211.4 286.0L1211.6 277.8L1211.7 282.2L1211.9 277.9L1212.0 284.8L1212.2 276.2L1212.3 295.3L1212.5 279.4L1212.6 286.5L1212.8 279.4L1212.9 281.0L1213.0 279.6L1213.2 280.8L1213.3 278.4L1213.5 280.7L1213.6 275.1L1213.8 282.8L1213.9 271.1L1214.1 281.3L1214.2 275.1L1214.4 284.0L1214.5 277.4L1214.7 283.6L1214.8 273.8L1215.0 288.2L1215.1 280.2L1215.3 282.7L1215.4 275.8L1215.5 289.7L1215.7 278.0L1215.8 287.5L1216.0 278.8L1216.1 282.1L1216.3 279.9L1216.4 287.2L1216.6 268.7L1216.7 288.8L1216.9 261.1L1217.0 282.6L1217.2 280.0L1217.3 295.9L1217.5 272.5L1217.6 284.9L1217.8 280.2L1217.9 282.0L1218.0 270.9L1218.2 282.7L1218.3 277.0L1218.5 287.7L1218.6 262.2L1218.8 290.4L1218.9 269.8L1219.1 285.3L1219.2 271.5L1219.4 287.7L1219.5 276.0L1219.7 283.8L1219.8 281.2L1220.0 282.7L1220.1 278.1L1220.3 282.2L1220.4 278.5L1220.5 282.7L1220.7 279.6L1220.8 283.7L1221.0 279.7L1221.1 283.9L1221.3 281.2L1221.4 285.1L1221.6 281.4L1221.7 282.3L1221.9 278.4L1222.0 289.7L1222.2 274.1L1222.3 286.5L1222.5 280.3L1222.6 293.1L1222.8 281.3L1222.9 283.2L1223.0 269.5L1223.2 287.3L1223.3 272.2L1223.5 285.3L1223.6 278.4L1223.8 286.4L1223.9 272.3L1224.1 282.9L1224.2 270.9L1224.4 299.6L1224.5 281.8L1224.7 288.5L1224.8 270.7L1225.0 291.4L1225.1 279.7L1225.3 295.3L1225.4 272.2L1225.5 289.3L1225.7 276.4L1225.8 287.9L1226.0 272.6L1226.1 283.7L1226.3 269.9L1226.4 289.8L1226.6 278.1L1226.7 284.3L1226.9 276.9L1227.0 282.4L1227.2 278.8L1227.3 288.2L1227.5 281.7L1227.6 292.8L1227.8 272.2L1227.9 283.7L1228.0 272.9L1228.2 284.1L1228.3 273.8L1228.5 287.8L1228.6 281.0L1228.8 282.4L1228.9 276.2L1229.1 286.9L1229.2 280.4L1229.4 293.0L1229.5 279.8L1229.7 288.3L1229.8 281.6L1230.0 284.9L1230.1 281.2L1230.3 283.4L1230.4 274.8L1230.5 291.3L1230.7 277.8L1230.8 282.3L1231.0 277.3L1231.1 289.3L1231.3 280.2L1231.4 284.3L1231.6 277.1L1231.7 288.9L1231.9 269.4L1232.0 283.2L1232.2 275.2L1232.3 289.9L1232.5 282.0L1232.6 288.2L1232.8 281.9L1232.9 293.6L1233.0 281.6L1233.2 286.6L1233.3 277.4L1233.5 286.2L1233.6 280.6L1233.8 283.6L1233.9 281.9L1234.1 283.6L1234.2 272.1L1234.4 284.6L1234.5 278.1L1234.7 282.6L1234.8 280.3L1235.0 283.7L1235.1 274.5L1235.3 285.3L1235.4 281.8L1235.6 290.5L1235.7 280.1L1235.8 284.6L1236.0 281.9L1236.1 286.1L1236.3 277.7L1236.4 284.7L1236.6 281.8L1236.7 284.7L1236.9 279.5L1237.0 291.4L1237.2 274.8L1237.3 283.4L1237.5 274.6L1237.6 288.6L1237.8 281.7L1237.9 290.3L1238.1 274.8L1238.2 288.0L1238.3 272.2L1238.5 285.8L1238.6 278.9L1238.8 284.6L1238.9 280.1L1239.1 284.9L1239.2 279.0L1239.4 283.6L1239.5 269.0L1239.7 290.0L1239.8 266.5L1240.0 283.6L1240.1 266.5L1240.3 283.5L1240.4 279.1L1240.6 285.5L1240.7 275.2L1240.8 282.4L1241.0 279.5L1241.1 288.4L1241.3 276.2L1241.4 283.3L1241.6 273.5L1241.7 282.4L1241.9 272.9L1242.0 286.3L1242.2 270.4L1242.3 293.8L1242.5 274.0L1242.6 283.7L1242.8 282.1L1242.9 286.4L1243.1 271.1L1243.2 289.9L1243.3 277.6L1243.5 283.9L1243.6 268.9L1243.8 290.4L1243.9 281.2L1244.1 287.8L1244.2 275.6L1244.4 286.4L1244.5 278.2L1244.7 289.0L1244.8 277.9L1245.0 289.9L1245.1 278.5L1245.3 283.7L1245.4 279.0L1245.6 284.4L1245.7 282.2L1245.8 288.9L1246.0 273.1L1246.1 287.5L1246.3 273.4L1246.4 293.0L1246.6 278.3L1246.7 292.0L1246.9 271.8L1247.0 285.7L1247.2 278.5L1247.3 284.0L1247.5 279.0L1247.6 285.6L1247.8 277.1L1247.9 292.4L1248.1 281.0L1248.2 287.9L1248.3 277.3L1248.5 286.7L1248.6 275.0L1248.8 286.0L1248.9 279.2L1249.1 285.6L1249.2 281.3L1249.4 286.4L1249.5 281.7L1249.7 295.3L1249.8 278.3L1250.0 299.3L1250.1 281.5L1250.3 287.8L1250.4 275.3L1250.6 293.8L1250.7 275.1L1250.8 283.9L1251.0 282.6L1251.1 283.4L1251.3 278.5L1251.4 283.3L1251.6 281.9L1251.7 283.3L1251.9 279.6L1252.0 283.9L1252.2 280.4L1252.3 289.4L1252.5 280.7L1252.6 284.2L1252.8 276.1L1252.9 290.4L1253.1 282.5L1253.2 289.2L1253.3 275.8L1253.5 287.0L1253.6 281.1L1253.8 289.4L1253.9 280.0L1254.1 294.6L1254.2 279.7L1254.4 292.9L1254.5 283.1L1254.7 286.3L1254.8 280.7L1255.0 286.7L1255.1 280.3L1255.3 287.1L1255.4 266.2L1255.6 285.7L1255.7 282.6L1255.8 288.9L1256.0 273.1L1256.1 292.8L1256.3 281.0L1256.4 287.9L1256.6 282.0L1256.7 295.7L1256.9 282.1L1257.0 289.1L1257.2 275.3L1257.3 286.8L1257.5 280.0L1257.6 284.1L1257.8 279.6L1257.9 284.8L1258.1 277.7L1258.2 284.6L1258.3 283.3L1258.5 286.9L1258.6 278.9L1258.8 284.4L1258.9 280.8L1259.1 290.6L1259.2 279.0L1259.4 289.0L1259.5 281.7L1259.7 286.0L1259.8 283.6L1260.0 285.7L1260.1 278.9L1260.3 289.3L1260.4 274.1L1260.6 288.5L1260.7 278.4L1260.8 287.4L1261.0 279.0L1261.1 285.8L1261.3 282.1L1261.4 285.6L1261.6 282.1L1261.7 287.5L1261.9 278.9L1262.0 286.8L1262.2 281.0L1262.3 284.7L1262.5 273.2L1262.6 293.0L1262.8 279.9L1262.9 287.5L1263.1 283.9L1263.2 287.7L1263.3 274.9L1263.5 291.7L1263.6 284.0L1263.8 291.6L1263.9 280.8L1264.1 288.9L1264.2 282.1L1264.4 287.9L1264.5 274.9L1264.7 290.8L1264.8 273.5L1265.0 293.0L1265.1 277.4L1265.3 294.2L1265.4 280.2L1265.6 288.8L1265.7 282.4L1265.8 298.6L1266.0 276.2L1266.1 291.6L1266.3 277.9L1266.4 303.3L1266.6 282.6L1266.7 289.1L1266.9 282.7L1267.0 287.5L1267.2 282.0L1267.3 290.0L1267.5 282.0L1267.6 287.1L1267.8 280.5L1267.9 293.1L1268.1 277.8L1268.2 286.8L1268.3 282.0L1268.5 297.6L1268.6 284.7L1268.8 289.8L1268.9 283.4L1269.1 289.2L1269.2 284.5L1269.4 289.1L1269.5 279.6L1269.7 300.1L1269.8 279.0L1270.0 289.3L1270.1 279.8L1270.3 297.1L1270.4 274.4L1270.6 291.2L1270.7 273.3L1270.9 291.6L1271.0 280.9L1271.1 289.6L1271.3 267.6L1271.4 295.1L1271.6 275.5L1271.7 289.2L1271.9 273.0L1272.0 286.7L1272.2 283.1L1272.3 295.6L1272.5 269.9L1272.6 298.6L1272.8 281.3L1272.9 299.5L1273.1 280.0L1273.2 294.3L1273.4 275.4L1273.5 285.1L1273.6 276.7L1273.8 285.1L1273.9 278.1L1274.1 289.5L1274.2 275.6L1274.4 304.3L1274.5 271.2L1274.7 285.3L1274.8 270.1L1275.0 286.2L1275.1 277.2L1275.3 293.8L1275.4 284.9L1275.6 290.4L1275.7 280.4L1275.9 285.8L1276.0 283.0L1276.1 295.8L1276.3 281.2L1276.4 285.7L1276.6 282.7L1276.7 293.5L1276.9 282.8L1277.0 295.2L1277.2 283.4L1277.3 286.2L1277.5 283.2L1277.6 286.6L1277.8 280.8L1277.9 290.9L1278.1 279.6L1278.2 294.8L1278.4 281.8L1278.5 291.0L1278.6 282.9L1278.8 289.2L1278.9 282.3L1279.1 292.4L1279.2 269.1L1279.4 291.8L1279.5 281.1L1279.7 286.1L1279.8 284.1L1280.0 287.6L1280.1 280.4L1280.3 288.9L1280.4 283.0L1280.6 291.4L1280.7 284.7L1280.9 285.7L1281.0 279.8L1281.1 292.7L1281.3 280.4L1281.4 287.7L1281.6 283.9L1281.7 301.2L1281.9 278.6L1282.0 294.7L1282.2 277.1L1282.3 298.7L1282.5 284.1L1282.6 288.4L1282.8 279.8L1282.9 286.4L1283.1 276.4L1283.2 295.9L1283.4 277.1L1283.5 289.5L1283.6 278.7L1283.8 291.3L1283.9 281.1L1284.1 290.2L1284.2 280.4L1284.4 286.8L1284.5 276.5L1284.7 293.9L1284.8 274.5L1285.0 289.8L1285.1 280.7L1285.3 287.3L1285.4 272.2L1285.6 293.9L1285.7 273.0L1285.9 293.4L1286.0 285.3" fill="none" stroke="#1cc2c8" stroke-width="1.1" stroke-linejoin="round"/>
<path d="M933.0 339.5L933.1 358.4L933.3 337.7L933.4 344.4L933.6 337.4L933.7 347.6L933.9 337.6L934.0 353.4L934.2 336.9L934.3 342.6L934.5 339.7L934.6 344.2L934.8 333.7L934.9 345.5L935.1 336.8L935.2 350.5L935.4 335.1L935.5 347.1L935.6 335.0L935.8 344.7L935.9 332.9L936.1 347.2L936.2 333.9L936.4 352.7L936.5 334.1L936.7 348.0L936.8 338.1L937.0 348.8L937.1 334.8L937.3 343.8L937.4 332.4L937.6 343.0L937.7 336.6L937.9 343.0L938.0 333.8L938.1 351.2L938.3 339.6L938.4 345.1L938.6 339.4L938.7 360.8L938.9 342.3L939.0 348.8L939.2 342.1L939.3 349.6L939.5 338.4L939.6 345.9L939.8 336.9L939.9 348.0L940.1 333.0L940.2 343.5L940.4 339.7L940.5 343.7L940.6 343.1L940.8 353.7L940.9 341.2L941.1 350.0L941.2 332.9L941.4 346.0L941.5 336.1L941.7 359.2L941.8 337.8L942.0 348.5L942.1 337.7L942.3 349.9L942.4 334.3L942.6 347.9L942.7 339.3L942.9 348.0L943.0 341.3L943.1 345.3L943.3 343.3L943.4 345.3L943.6 330.3L943.7 353.9L943.9 343.4L944.0 348.8L944.2 344.1L944.3 354.1L944.5 335.8L944.6 350.7L944.8 344.0L944.9 350.4L945.1 334.5L945.2 356.5L945.4 333.7L945.5 356.8L945.6 342.9L945.8 348.9L945.9 342.2L946.1 350.1L946.2 340.1L946.4 353.9L946.5 341.9L946.7 353.7L946.8 337.8L947.0 346.4L947.1 336.3L947.3 350.4L947.4 337.0L947.6 354.3L947.7 343.6L947.9 353.5L948.0 341.1L948.1 349.6L948.3 346.3L948.4 351.4L948.6 343.5L948.7 352.1L948.9 339.4L949.0 352.9L949.2 336.8L949.3 352.3L949.5 345.8L949.6 349.5L949.8 334.8L949.9 355.4L950.1 340.9L950.2 359.3L950.4 336.0L950.5 353.5L950.6 341.7L950.8 358.0L950.9 345.2L951.1 352.5L951.2 344.4L951.4 348.1L951.5 345.0L951.7 352.0L951.8 347.2L952.0 350.8L952.1 343.1L952.3 357.7L952.4 338.1L952.6 351.8L952.7 341.9L952.9 360.1L953.0 334.2L953.2 354.2L953.3 344.5L953.4 352.7L953.6 348.3L953.7 350.8L953.9 343.5L954.0 353.0L954.2 336.9L954.3 357.6L954.5 342.5L954.6 349.2L954.8 345.3L954.9 358.0L955.1 344.9L955.2 355.5L955.4 344.1L955.5 351.1L955.7 347.8L955.8 361.2L955.9 347.8L956.1 350.3L956.2 343.5L956.4 357.5L956.5 348.3L956.7 351.8L956.8 337.7L957.0 361.5L957.1 346.4L957.3 350.6L957.4 341.9L957.6 355.2L957.7 340.7L957.9 352.7L958.0 349.1L958.2 355.8L958.3 347.4L958.4 359.7L958.6 343.2L958.7 357.6L958.9 345.1L959.0 350.7L959.2 344.7L959.3 351.9L959.5 347.6L959.6 360.3L959.8 346.9L959.9 354.4L960.1 344.6L960.2 355.4L960.4 340.5L960.5 354.9L960.7 342.8L960.8 351.9L960.9 348.9L961.1 353.8L961.2 340.1L961.4 356.0L961.5 346.6L961.7 353.6L961.8 348.6L962.0 351.1L962.1 342.9L962.3 366.3L962.4 335.9L962.6 354.2L962.7 343.9L962.9 361.2L963.0 331.8L963.2 350.0L963.3 331.1L963.4 352.2L963.6 344.4L963.7 353.9L963.9 346.1L964.0 365.6L964.2 342.4L964.3 355.6L964.5 349.7L964.6 351.7L964.8 348.7L964.9 354.7L965.1 349.7L965.2 358.2L965.4 347.8L965.5 360.1L965.7 347.1L965.8 359.4L965.9 340.2L966.1 350.9L966.2 345.4L966.4 353.6L966.5 344.9L966.7 363.7L966.8 344.1L967.0 356.9L967.1 348.3L967.3 359.4L967.4 349.0L967.6 361.2L967.7 347.8L967.9 358.8L968.0 347.5L968.2 351.3L968.3 343.4L968.4 363.7L968.6 346.6L968.7 355.7L968.9 343.1L969.0 354.4L969.2 338.3L969.3 363.4L969.5 343.3L969.6 354.7L969.8 343.3L969.9 352.7L970.1 346.7L970.2 352.0L970.4 350.3L970.5 354.0L970.7 349.2L970.8 359.1L970.9 349.7L971.1 361.1L971.2 345.2L971.4 353.5L971.5 343.2L971.7 355.1L971.8 346.1L972.0 353.1L972.1 351.6L972.3 356.5L972.4 342.9L972.6 353.7L972.7 338.4L972.9 359.7L973.0 351.7L973.2 356.8L973.3 348.4L973.4 359.7L973.6 351.2L973.7 367.7L973.9 351.0L974.0 360.2L974.2 344.8L974.3 356.7L974.5 352.7L974.6 356.8L974.8 345.7L974.9 355.0L975.1 354.1L975.2 355.9L975.4 346.0L975.5 355.4L975.7 350.7L975.8 358.9L975.9 346.3L976.1 355.5L976.2 351.6L976.4 355.6L976.5 345.2L976.7 356.4L976.8 345.6L977.0 357.1L977.1 351.7L977.3 357.3L977.4 346.6L977.6 359.2L977.7 355.4L977.9 355.9L978.0 348.1L978.2 364.7L978.3 346.3L978.4 368.2L978.6 348.6L978.7 360.6L978.9 354.1L979.0 359.5L979.2 350.7L979.3 359.4L979.5 350.4L979.6 359.9L979.8 356.1L979.9 362.5L980.1 354.3L980.2 358.5L980.4 353.1L980.5 362.8L980.7 356.7L980.8 359.2L980.9 342.7L981.1 364.9L981.2 357.1L981.4 360.6L981.5 349.1L981.7 368.1L981.8 356.2L982.0 360.1L982.1 351.4L982.3 362.0L982.4 354.5L982.6 360.4L982.7 355.3L982.9 362.6L983.0 352.7L983.2 363.8L983.3 345.9L983.4 370.9L983.6 352.3L983.7 362.9L983.9 355.2L984.0 366.1L984.2 358.1L984.3 362.7L984.5 349.4L984.6 361.1L984.8 355.9L984.9 363.3L985.1 349.8L985.2 373.7L985.4 355.0L985.5 365.2L985.7 359.3L985.8 373.4L986.0 356.4L986.1 367.2L986.2 354.8L986.4 360.2L986.5 351.7L986.7 361.1L986.8 351.5L987.0 362.6L987.1 354.7L987.3 368.7L987.4 355.0L987.6 362.5L987.7 359.6L987.9 367.0L988.0 355.6L988.2 362.5L988.3 349.6L988.5 367.5L988.6 355.8L988.7 364.8L988.9 354.9L989.0 361.3L989.2 355.7L989.3 371.6L989.5 355.5L989.6 363.9L989.8 357.5L989.9 368.1L990.1 357.7L990.2 364.9L990.4 352.5L990.5 370.7L990.7 356.7L990.8 371.0L991.0 352.9L991.1 365.5L991.2 349.6L991.4 367.3L991.5 352.3L991.7 364.2L991.8 356.1L992.0 367.1L992.1 355.7L992.3 367.9L992.4 359.2L992.6 363.3L992.7 351.7L992.9 374.7L993.0 355.8L993.2 368.9L993.3 355.5L993.5 363.5L993.6 359.3L993.7 367.8L993.9 356.8L994.0 366.0L994.2 357.4L994.3 365.2L994.5 358.1L994.6 364.2L994.8 362.3L994.9 362.9L995.1 359.9L995.2 366.5L995.4 354.8L995.5 367.0L995.7 350.6L995.8 367.3L996.0 357.8L996.1 363.7L996.2 357.3L996.4 365.7L996.5 362.5L996.7 365.0L996.8 358.7L997.0 368.4L997.1 350.2L997.3 370.9L997.4 360.1L997.6 368.9L997.7 355.2L997.9 363.2L998.0 357.7L998.2 366.7L998.3 352.5L998.5 366.1L998.6 354.3L998.7 365.8L998.9 353.8L999.0 363.2L999.2 361.9L999.3 365.3L999.5 349.6L999.6 363.7L999.8 361.5L999.9 366.6L1000.1 362.1L1000.2 365.9L1000.4 358.8L1000.5 365.1L1000.7 359.6L1000.8 362.9L1001.0 359.6L1001.1 365.3L1001.2 359.5L1001.4 371.0L1001.5 353.8L1001.7 364.2L1001.8 359.3L1002.0 367.7L1002.1 360.5L1002.3 363.9L1002.4 356.8L1002.6 375.4L1002.7 361.7L1002.9 362.7L1003.0 360.2L1003.2 365.1L1003.3 351.8L1003.5 364.5L1003.6 358.5L1003.7 367.3L1003.9 359.2L1004.0 365.1L1004.2 354.0L1004.3 364.0L1004.5 358.7L1004.6 362.6L1004.8 357.7L1004.9 365.3L1005.1 353.2L1005.2 366.4L1005.4 358.5L1005.5 362.6L1005.7 362.1L1005.8 365.1L1006.0 358.5L1006.1 366.2L1006.2 356.7L1006.4 370.5L1006.5 352.0L1006.7 365.0L1006.8 356.8L1007.0 363.0L1007.1 358.7L1007.3 365.9L1007.4 355.2L1007.6 364.1L1007.7 359.8L1007.9 367.5L1008.0 352.7L1008.2 365.2L1008.3 356.5L1008.5 362.8L1008.6 360.9L1008.7 363.3L1008.9 360.8L1009.0 365.2L1009.2 360.7L1009.3 368.0L1009.5 358.5L1009.6 369.4L1009.8 354.2L1009.9 362.4L1010.1 358.4L1010.2 372.6L1010.4 360.2L1010.5 372.0L1010.7 357.2L1010.8 365.1L1011.0 354.0L1011.1 372.0L1011.2 352.8L1011.4 366.3L1011.5 359.3L1011.7 364.9L1011.8 351.7L1012.0 362.2L1012.1 354.5L1012.3 363.8L1012.4 345.8L1012.6 363.1L1012.7 356.9L1012.9 364.6L1013.0 356.2L1013.2 362.9L1013.3 355.7L1013.5 362.6L1013.6 358.7L1013.7 363.6L1013.9 355.8L1014.0 364.6L1014.2 351.2L1014.3 363.4L1014.5 356.4L1014.6 362.9L1014.8 357.8L1014.9 368.7L1015.1 350.2L1015.2 364.0L1015.4 355.5L1015.5 366.4L1015.7 359.6L1015.8 367.5L1016.0 358.7L1016.1 362.4L1016.2 359.4L1016.4 362.7L1016.5 351.2L1016.7 364.0L1016.8 357.7L1017.0 367.2L1017.1 358.9L1017.3 365.7L1017.4 353.9L1017.6 367.6L1017.7 356.4L1017.9 368.2L1018.0 351.8L1018.2 361.4L1018.3 358.2L1018.5 361.7L1018.6 357.8L1018.7 362.5L1018.9 360.9L1019.0 362.2L1019.2 357.1L1019.3 372.2L1019.5 359.8L1019.6 361.7L1019.8 360.5L1019.9 367.4L1020.1 354.3L1020.2 362.2L1020.4 353.6L1020.5 367.1L1020.7 360.4L1020.8 371.8L1021.0 357.3L1021.1 372.7L1021.2 358.1L1021.4 361.6L1021.5 356.8L1021.7 371.5L1021.8 354.0L1022.0 367.7L1022.1 353.1L1022.3 376.2L1022.4 360.4L1022.6 365.7L1022.7 360.6L1022.9 365.0L1023.0 360.2L1023.2 362.4L1023.3 351.0L1023.5 384.6L1023.6 357.6L1023.8 370.4L1023.9 347.8L1024.0 362.1L1024.2 358.7L1024.3 365.9L1024.5 356.5L1024.6 367.0L1024.8 355.2L1024.9 369.3L1025.1 357.9L1025.2 362.8L1025.4 354.4L1025.5 363.2L1025.7 359.3L1025.8 361.3L1026.0 344.2L1026.1 366.0L1026.3 355.5L1026.4 361.0L1026.5 359.3L1026.7 364.2L1026.8 359.1L1027.0 368.8L1027.1 357.8L1027.3 365.8L1027.4 352.6L1027.6 367.1L1027.7 357.7L1027.9 358.8L1028.0 351.6L1028.2 363.8L1028.3 346.9L1028.5 360.0L1028.6 352.5L1028.8 360.5L1028.9 355.4L1029.0 357.2L1029.2 353.2L1029.3 363.4L1029.5 347.6L1029.6 365.3L1029.8 349.8L1029.9 360.6L1030.1 353.3L1030.2 355.9L1030.4 349.4L1030.5 367.2L1030.7 353.3L1030.8 361.1L1031.0 350.3L1031.1 363.6L1031.3 350.6L1031.4 363.3L1031.5 350.3L1031.7 354.2L1031.8 348.7L1032.0 364.5L1032.1 348.0L1032.3 363.9L1032.4 350.0L1032.6 352.1L1032.7 335.6L1032.9 353.2L1033.0 347.2L1033.2 360.0L1033.3 338.8L1033.5 367.5L1033.6 342.9L1033.8 351.5L1033.9 343.5L1034.0 357.6L1034.2 344.7L1034.3 355.9L1034.5 346.7L1034.6 353.6L1034.8 345.1L1034.9 346.0L1035.1 339.9L1035.2 346.3L1035.4 344.1L1035.5 346.7L1035.7 338.1L1035.8 345.8L1036.0 340.9L1036.1 342.2L1036.3 333.6L1036.4 345.7L1036.5 340.7L1036.7 357.0L1036.8 339.4L1037.0 339.2L1037.1 337.5L1037.3 341.5L1037.4 337.1L1037.6 336.9L1037.7 336.3L1037.9 339.5L1038.0 326.9L1038.2 348.5L1038.3 331.7L1038.5 340.1L1038.6 325.2L1038.8 339.4L1038.9 329.9L1039.0 332.8L1039.2 320.7L1039.3 337.7L1039.5 325.6L1039.6 331.5L1039.8 323.7L1039.9 329.8L1040.1 319.2L1040.2 325.8L1040.4 324.0L1040.5 325.3L1040.7 314.4L1040.8 323.8L1041.0 315.8L1041.1 322.7L1041.3 316.1L1041.4 320.0L1041.5 315.0L1041.7 329.8L1041.8 316.3L1042.0 319.8L1042.1 309.7L1042.3 329.7L1042.4 311.4L1042.6 318.0L1042.7 308.1L1042.9 318.2L1043.0 312.2L1043.2 321.2L1043.3 302.9L1043.5 317.6L1043.6 285.1L1043.8 319.7L1043.9 312.5L1044.0 325.4L1044.2 308.2L1044.3 315.2L1044.5 301.1L1044.6 323.4L1044.8 308.0L1044.9 317.3L1045.1 307.5L1045.2 321.5L1045.4 312.0L1045.5 315.1L1045.7 309.9L1045.8 315.8L1046.0 306.9L1046.1 319.6L1046.3 313.0L1046.4 317.3L1046.5 314.0L1046.7 320.5L1046.8 318.4L1047.0 321.9L1047.1 312.9L1047.3 331.8L1047.4 294.9L1047.6 327.8L1047.7 321.4L1047.9 324.5L1048.0 317.2L1048.2 327.5L1048.3 325.3L1048.5 327.4L1048.6 325.5L1048.8 349.5L1048.9 326.3L1049.0 339.1L1049.2 329.5L1049.3 334.1L1049.5 321.7L1049.6 343.6L1049.8 334.3L1049.9 337.8L1050.1 327.0L1050.2 337.3L1050.4 334.4L1050.5 344.9L1050.7 336.5L1050.8 347.6L1051.0 339.7L1051.1 343.0L1051.3 340.2L1051.4 347.8L1051.5 339.2L1051.7 347.3L1051.8 344.2L1052.0 367.4L1052.1 332.4L1052.3 347.7L1052.4 346.8L1052.6 348.8L1052.7 336.5L1052.9 353.3L1053.0 348.9L1053.2 352.2L1053.3 343.2L1053.5 358.9L1053.6 349.5L1053.8 361.3L1053.9 350.4L1054.0 358.5L1054.2 350.9L1054.3 361.9L1054.5 348.7L1054.6 361.1L1054.8 352.6L1054.9 357.2L1055.1 354.9L1055.2 358.4L1055.4 343.2L1055.5 360.3L1055.7 357.6L1055.8 365.9L1056.0 357.4L1056.1 363.0L1056.3 347.1L1056.4 364.8L1056.5 356.8L1056.7 362.2L1056.8 357.7L1057.0 368.1L1057.1 359.2L1057.3 361.0L1057.4 360.1L1057.6 364.4L1057.7 356.8L1057.9 366.1L1058.0 358.9L1058.2 363.2L1058.3 361.8L1058.5 367.3L1058.6 350.3L1058.8 372.5L1058.9 360.2L1059.1 368.9L1059.2 355.1L1059.3 375.2L1059.5 356.4L1059.6 364.8L1059.8 359.5L1059.9 376.6L1060.1 355.3L1060.2 372.2L1060.4 357.2L1060.5 366.1L1060.7 347.5L1060.8 374.6L1061.0 362.2L1061.1 373.3L1061.3 358.5L1061.4 366.5L1061.6 361.7L1061.7 365.1L1061.8 361.6L1062.0 378.3L1062.1 360.4L1062.3 367.9L1062.4 359.5L1062.6 367.9L1062.7 362.6L1062.9 366.2L1063.0 356.9L1063.2 367.5L1063.3 361.7L1063.5 371.1L1063.6 364.9L1063.8 370.7L1063.9 356.0L1064.1 368.4L1064.2 351.8L1064.3 367.5L1064.5 363.5L1064.6 366.7L1064.8 364.4L1064.9 372.6L1065.1 364.7L1065.2 365.7L1065.4 361.5L1065.5 365.6L1065.7 364.4L1065.8 371.4L1066.0 363.5L1066.1 373.7L1066.3 363.0L1066.4 368.8L1066.6 364.9L1066.7 366.7L1066.8 361.6L1067.0 372.5L1067.1 361.6L1067.3 371.9L1067.4 361.5L1067.6 377.4L1067.7 364.1L1067.9 371.2L1068.0 350.3L1068.2 376.3L1068.3 353.0L1068.5 367.2L1068.6 365.0L1068.8 374.1L1068.9 365.9L1069.1 368.0L1069.2 364.7L1069.3 374.5L1069.5 351.1L1069.6 370.6L1069.8 364.6L1069.9 376.8L1070.1 358.0L1070.2 369.8L1070.4 360.4L1070.5 371.0L1070.7 363.5L1070.8 367.2L1071.0 362.1L1071.1 376.5L1071.3 365.5L1071.4 370.1L1071.6 360.7L1071.7 370.1L1071.8 358.0L1072.0 371.1L1072.1 364.8L1072.3 378.9L1072.4 363.3L1072.6 368.9L1072.7 365.0L1072.9 383.5L1073.0 358.6L1073.2 367.9L1073.3 366.2L1073.5 368.3L1073.6 366.0L1073.8 370.6L1073.9 361.6L1074.1 370.2L1074.2 364.4L1074.3 371.5L1074.5 357.8L1074.6 372.3L1074.8 366.4L1074.9 366.7L1075.1 364.5L1075.2 372.4L1075.4 366.0L1075.5 370.3L1075.7 363.5L1075.8 373.8L1076.0 353.9L1076.1 367.1L1076.3 357.0L1076.4 367.3L1076.6 353.9L1076.7 370.1L1076.8 363.0L1077.0 372.6L1077.1 359.4L1077.3 366.9L1077.4 363.1L1077.6 366.3L1077.7 362.8L1077.9 365.1L1078.0 353.3L1078.2 364.7L1078.3 360.2L1078.5 368.6L1078.6 362.1L1078.8 362.7L1078.9 359.9L1079.1 369.1L1079.2 359.9L1079.3 362.6L1079.5 356.0L1079.6 361.2L1079.8 356.5L1079.9 365.4L1080.1 351.7L1080.2 366.0L1080.4 351.1L1080.5 361.9L1080.7 349.9L1080.8 361.5L1081.0 350.8L1081.1 357.4L1081.3 353.4L1081.4 355.8L1081.6 351.9L1081.7 358.7L1081.8 348.0L1082.0 354.9L1082.1 350.5L1082.3 357.6L1082.4 342.1L1082.6 356.3L1082.7 341.3L1082.9 348.8L1083.0 344.2L1083.2 346.3L1083.3 344.1L1083.5 348.6L1083.6 340.4L1083.8 344.7L1083.9 339.1L1084.1 340.5L1084.2 333.7L1084.3 338.8L1084.5 330.0L1084.6 349.9L1084.8 327.4L1084.9 333.0L1085.1 327.8L1085.2 338.8L1085.4 325.1L1085.5 329.1L1085.7 318.9L1085.8 329.6L1086.0 314.6L1086.1 328.1L1086.3 312.9L1086.4 323.3L1086.6 308.7L1086.7 325.1L1086.8 307.1L1087.0 318.7L1087.1 308.2L1087.3 310.4L1087.4 304.6L1087.6 311.8L1087.7 291.1L1087.9 308.0L1088.0 299.7L1088.2 304.6L1088.3 287.8L1088.5 306.8L1088.6 295.7L1088.8 313.8L1088.9 291.1L1089.1 299.1L1089.2 291.9L1089.3 301.3L1089.5 282.9L1089.6 297.5L1089.8 294.7L1089.9 300.9L1090.1 290.7L1090.2 310.5L1090.4 289.1L1090.5 298.9L1090.7 297.0L1090.8 300.7L1091.0 297.8L1091.1 305.9L1091.3 297.6L1091.4 308.6L1091.6 287.4L1091.7 305.9L1091.8 300.3L1092.0 313.1L1092.1 303.6L1092.3 322.6L1092.4 309.2L1092.6 317.7L1092.7 312.5L1092.9 323.5L1093.0 308.7L1093.2 318.7L1093.3 312.1L1093.5 321.3L1093.6 319.8L1093.8 326.2L1093.9 320.2L1094.1 335.4L1094.2 322.5L1094.4 330.9L1094.5 324.9L1094.6 332.5L1094.8 326.7L1094.9 339.0L1095.1 329.9L1095.2 345.3L1095.4 330.5L1095.5 339.1L1095.7 336.1L1095.8 348.6L1096.0 339.4L1096.1 347.2L1096.3 337.3L1096.4 360.8L1096.6 332.6L1096.7 349.7L1096.9 340.0L1097.0 349.6L1097.1 345.2L1097.3 347.9L1097.4 343.8L1097.6 348.4L1097.7 343.7L1097.9 349.1L1098.0 341.3L1098.2 351.1L1098.3 345.0L1098.5 354.2L1098.6 345.5L1098.8 354.3L1098.9 344.7L1099.1 359.8L1099.2 345.2L1099.4 355.6L1099.5 346.2L1099.6 355.5L1099.8 340.5L1099.9 358.3L1100.1 350.4L1100.2 368.7L1100.4 348.6L1100.5 354.6L1100.7 351.9L1100.8 360.8L1101.0 350.0L1101.1 357.2L1101.3 349.2L1101.4 355.9L1101.6 353.7L1101.7 354.8L1101.9 342.1L1102.0 364.2L1102.1 344.8L1102.3 363.7L1102.4 348.4L1102.6 354.9L1102.7 349.4L1102.9 356.3L1103.0 351.9L1103.2 359.8L1103.3 354.4L1103.5 356.2L1103.6 350.7L1103.8 366.7L1103.9 346.3L1104.1 358.7L1104.2 344.9L1104.4 367.9L1104.5 348.5L1104.6 365.5L1104.8 354.2L1104.9 361.5L1105.1 355.1L1105.2 357.1L1105.4 346.1L1105.5 362.9L1105.7 353.6L1105.8 357.9L1106.0 354.1L1106.1 360.2L1106.3 353.3L1106.4 358.7L1106.6 354.3L1106.7 358.3L1106.9 353.9L1107.0 362.5L1107.1 352.1L1107.3 356.7L1107.4 352.3L1107.6 362.1L1107.7 348.4L1107.9 359.8L1108.0 349.7L1108.2 368.8L1108.3 343.7L1108.5 361.2L1108.6 350.1L1108.8 361.3L1108.9 339.2L1109.1 361.1L1109.2 347.4L1109.4 357.5L1109.5 352.1L1109.6 357.8L1109.8 354.5L1109.9 358.8L1110.1 353.0L1110.2 358.3L1110.4 351.4L1110.5 360.7L1110.7 353.8L1110.8 364.1L1111.0 352.5L1111.1 359.6L1111.3 356.9L1111.4 362.5L1111.6 351.8L1111.7 367.7L1111.9 345.5L1112.0 362.4L1112.1 340.0L1112.3 366.8L1112.4 356.5L1112.6 366.2L1112.7 351.7L1112.9 363.3L1113.0 348.2L1113.2 368.7L1113.3 353.6L1113.5 370.9L1113.6 350.4L1113.8 361.8L1113.9 358.5L1114.1 366.4L1114.2 359.3L1114.4 360.6L1114.5 359.3L1114.6 367.6L1114.8 358.3L1114.9 365.3L1115.1 351.8L1115.2 364.3L1115.4 356.5L1115.5 365.8L1115.7 356.8L1115.8 367.0L1116.0 354.0L1116.1 371.8L1116.3 353.5L1116.4 367.7L1116.6 351.9L1116.7 370.6L1116.9 348.9L1117.0 365.4L1117.1 353.7L1117.3 370.7L1117.4 358.3L1117.6 363.2L1117.7 362.0L1117.9 372.2L1118.0 358.9L1118.2 367.6L1118.3 362.6L1118.5 372.0L1118.6 362.1L1118.8 371.9L1118.9 359.8L1119.1 369.1L1119.2 353.4L1119.4 364.9L1119.5 360.5L1119.6 378.5L1119.8 348.5L1119.9 374.8L1120.1 358.5L1120.2 370.0L1120.4 340.3L1120.5 367.5L1120.7 359.5L1120.8 367.2L1121.0 363.6L1121.1 372.0L1121.3 364.5L1121.4 369.8L1121.6 355.7L1121.7 386.7L1121.9 352.2L1122.0 366.1L1122.1 360.9L1122.3 367.4L1122.4 359.7L1122.6 367.7L1122.7 363.6L1122.9 369.3L1123.0 354.9L1123.2 368.1L1123.3 347.4L1123.5 368.9L1123.6 361.8L1123.8 378.3L1123.9 360.1L1124.1 368.6L1124.2 363.3L1124.4 370.8L1124.5 354.5L1124.6 373.6L1124.8 354.2L1124.9 373.1L1125.1 363.8L1125.2 365.6L1125.4 364.9L1125.5 365.8L1125.7 353.6L1125.8 368.0L1126.0 349.2L1126.1 367.7L1126.3 361.2L1126.4 374.1L1126.6 365.5L1126.7 373.3L1126.9 363.1L1127.0 376.0L1127.2 365.6L1127.3 375.2L1127.4 362.2L1127.6 377.4L1127.7 349.5L1127.9 368.4L1128.0 363.9L1128.2 368.7L1128.3 360.4L1128.5 371.9L1128.6 365.9L1128.8 367.7L1128.9 359.8L1129.1 372.6L1129.2 358.7L1129.4 373.3L1129.5 363.7L1129.7 367.8L1129.8 363.2L1129.9 371.9L1130.1 364.6L1130.2 370.3L1130.4 364.9L1130.5 373.9L1130.7 356.8L1130.8 367.6L1131.0 356.4L1131.1 366.9L1131.3 360.6L1131.4 372.6L1131.6 358.0L1131.7 371.0L1131.9 364.3L1132.0 366.7L1132.2 362.5L1132.3 370.0L1132.4 366.2L1132.6 370.8L1132.7 365.3L1132.9 372.3L1133.0 363.5L1133.2 381.2L1133.3 355.9L1133.5 369.5L1133.6 366.2L1133.8 378.0L1133.9 355.3L1134.1 368.6L1134.2 362.1L1134.4 370.0L1134.5 352.6L1134.7 373.4L1134.8 360.3L1134.9 374.2L1135.1 354.2L1135.2 368.3L1135.4 363.5L1135.5 367.9L1135.7 360.1L1135.8 374.6L1136.0 365.7L1136.1 373.9L1136.3 366.6L1136.4 370.1L1136.6 358.9L1136.7 378.7L1136.9 363.3L1137.0 372.9L1137.2 358.5L1137.3 375.9L1137.4 355.0L1137.6 368.1L1137.7 361.0L1137.9 369.5L1138.0 362.8L1138.2 369.0L1138.3 363.5L1138.5 369.3L1138.6 364.6L1138.8 373.6L1138.9 362.5L1139.1 373.0L1139.2 366.0L1139.4 368.3L1139.5 348.3L1139.7 369.1L1139.8 365.2L1139.9 374.4L1140.1 359.6L1140.2 374.1L1140.4 364.7L1140.5 372.9L1140.7 358.8L1140.8 385.8L1141.0 365.9L1141.1 370.5L1141.3 361.4L1141.4 374.5L1141.6 363.1L1141.7 372.5L1141.9 363.5L1142.0 371.2L1142.2 367.9L1142.3 369.3L1142.4 365.6L1142.6 370.1L1142.7 368.4L1142.9 373.0L1143.0 360.1L1143.2 378.2L1143.3 362.9L1143.5 373.0L1143.6 355.4L1143.8 383.2L1143.9 365.6L1144.1 377.9L1144.2 367.1L1144.4 370.5L1144.5 369.3L1144.7 371.1L1144.8 365.3L1144.9 370.0L1145.1 369.6L1145.2 370.3L1145.4 369.2L1145.5 370.9L1145.7 358.8L1145.8 378.1L1146.0 367.5L1146.1 370.5L1146.3 368.8L1146.4 373.4L1146.6 362.6L1146.7 370.9L1146.9 369.0L1147.0 378.3L1147.2 366.3L1147.3 371.9L1147.4 366.9L1147.6 386.9L1147.7 368.9L1147.9 370.8L1148.0 366.9L1148.2 376.5L1148.3 369.5L1148.5 373.5L1148.6 367.7L1148.8 376.9L1148.9 365.2L1149.1 371.0L1149.2 367.4L1149.4 374.4L1149.5 369.5L1149.7 374.1L1149.8 368.1L1149.9 375.5L1150.1 368.1L1150.2 373.9L1150.4 364.0L1150.5 390.8L1150.7 370.8L1150.8 371.6L1151.0 367.8L1151.1 374.4L1151.3 369.5L1151.4 372.9L1151.6 365.4L1151.7 374.3L1151.9 363.9L1152.0 372.5L1152.2 358.8L1152.3 371.5L1152.4 363.4L1152.6 373.6L1152.7 370.4L1152.9 377.6L1153.0 360.1L1153.2 379.0L1153.3 370.2L1153.5 372.1L1153.6 371.1L1153.8 372.6L1153.9 369.3L1154.1 378.0L1154.2 368.0L1154.4 371.9L1154.5 364.0L1154.7 380.6L1154.8 364.6L1154.9 374.0L1155.1 367.5L1155.2 373.6L1155.4 368.7L1155.5 394.5L1155.7 366.0L1155.8 384.0L1156.0 364.6L1156.1 373.0L1156.3 359.9L1156.4 388.9L1156.6 370.9L1156.7 374.2L1156.9 366.1L1157.0 376.9L1157.2 362.5L1157.3 372.5L1157.4 359.6L1157.6 386.0L1157.7 370.1L1157.9 375.6L1158.0 369.5L1158.2 377.6L1158.3 370.5L1158.5 377.8L1158.6 367.0L1158.8 380.0L1158.9 367.3L1159.1 379.7L1159.2 367.9L1159.4 375.6L1159.5 371.4L1159.7 373.9L1159.8 362.8L1159.9 387.4L1160.1 371.4L1160.2 372.7L1160.4 359.1L1160.5 377.5L1160.7 368.7L1160.8 372.5L1161.0 367.3L1161.1 374.9L1161.3 369.3L1161.4 391.7L1161.6 356.2L1161.7 375.2L1161.9 363.3L1162.0 378.7L1162.2 368.1L1162.3 374.4L1162.5 371.7L1162.6 372.4L1162.7 371.9L1162.9 383.9L1163.0 363.7L1163.2 378.2L1163.3 370.3L1163.5 376.2L1163.6 367.6L1163.8 379.5L1163.9 368.3L1164.1 374.4L1164.2 365.9L1164.4 377.2L1164.5 364.1L1164.7 375.1L1164.8 363.9L1165.0 375.9L1165.1 368.1L1165.2 381.0L1165.4 364.7L1165.5 374.3L1165.7 370.1L1165.8 380.9L1166.0 363.0L1166.1 377.5L1166.3 367.6L1166.4 375.2L1166.6 369.3L1166.7 385.6L1166.9 364.1L1167.0 373.2L1167.2 362.3L1167.3 375.8L1167.5 362.8L1167.6 376.6L1167.7 370.0L1167.9 376.3L1168.0 365.1L1168.2 375.4L1168.3 363.7L1168.5 375.9L1168.6 372.7L1168.8 376.9L1168.9 366.2L1169.1 378.1L1169.2 367.1L1169.4 381.3L1169.5 359.0L1169.7 374.6L1169.8 371.6L1170.0 386.0L1170.1 366.4L1170.2 377.1L1170.4 367.2L1170.5 384.6L1170.7 369.8L1170.8 377.2L1171.0 367.3L1171.1 385.0L1171.3 365.6L1171.4 379.8L1171.6 370.9L1171.7 381.4L1171.9 369.3L1172.0 376.8L1172.2 370.4L1172.3 375.9L1172.5 372.8L1172.6 375.7L1172.7 368.1L1172.9 385.6L1173.0 367.7L1173.2 377.5L1173.3 369.8L1173.5 387.8L1173.6 372.7L1173.8 374.6L1173.9 373.3L1174.1 376.6L1174.2 373.7L1174.4 381.3L1174.5 369.6L1174.7 374.0L1174.8 369.6L1175.0 376.2L1175.1 363.0L1175.2 376.0L1175.4 370.8L1175.5 389.1L1175.7 372.1L1175.8 381.2L1176.0 368.8L1176.1 376.9L1176.3 366.7L1176.4 380.3L1176.6 368.4L1176.7 384.8L1176.9 373.0L1177.0 376.6L1177.2 369.3L1177.3 379.4L1177.5 372.1L1177.6 379.1L1177.7 372.8L1177.9 382.2L1178.0 369.6L1178.2 378.4L1178.3 373.5L1178.5 375.1L1178.6 365.6L1178.8 380.1L1178.9 365.2L1179.1 380.4L1179.2 370.8L1179.4 382.7L1179.5 372.6L1179.7 381.6L1179.8 373.8L1180.0 383.3L1180.1 368.6L1180.2 380.2L1180.4 365.6L1180.5 376.2L1180.7 370.8L1180.8 376.4L1181.0 374.7L1181.1 381.8L1181.3 368.8L1181.4 375.9L1181.6 372.6L1181.7 377.5L1181.9 366.4L1182.0 383.7L1182.2 367.5L1182.3 379.5L1182.5 366.3L1182.6 379.2L1182.7 367.5L1182.9 378.7L1183.0 361.7L1183.2 376.2L1183.3 365.1L1183.5 378.8L1183.6 362.6L1183.8 377.0L1183.9 362.2L1184.1 381.9L1184.2 370.6L1184.4 378.9L1184.5 370.6L1184.7 378.3L1184.8 369.9L1185.0 382.9L1185.1 369.8L1185.2 390.6L1185.4 369.8L1185.5 380.0L1185.7 366.1L1185.8 387.4L1186.0 370.9L1186.1 379.9L1186.3 367.1L1186.4 379.4L1186.6 372.3L1186.7 383.6L1186.9 367.2L1187.0 382.3L1187.2 368.8L1187.3 379.5L1187.5 370.9L1187.6 385.3L1187.7 372.0L1187.9 377.1L1188.0 373.2L1188.2 377.2L1188.3 375.4L1188.5 384.1L1188.6 370.9L1188.8 378.3L1188.9 373.6L1189.1 381.2L1189.2 365.2L1189.4 383.1L1189.5 375.0L1189.7 378.7L1189.8 373.5L1190.0 382.0L1190.1 372.9L1190.2 383.0L1190.4 367.6L1190.5 380.4L1190.7 366.6L1190.8 376.8L1191.0 367.9L1191.1 379.4L1191.3 376.0L1191.4 380.4L1191.6 370.8L1191.7 379.3L1191.9 372.0L1192.0 376.9L1192.2 376.1L1192.3 381.1L1192.5 363.0L1192.6 382.4L1192.7 372.6L1192.9 385.2L1193.0 369.5L1193.2 380.8L1193.3 371.5L1193.5 400.1L1193.6 376.4L1193.8 380.8L1193.9 371.5L1194.1 383.4L1194.2 375.1L1194.4 377.8L1194.5 367.6L1194.7 377.9L1194.8 372.9L1195.0 379.4L1195.1 370.8L1195.2 385.4L1195.4 373.2L1195.5 378.2L1195.7 370.9L1195.8 397.2L1196.0 374.3L1196.1 382.0L1196.3 370.7L1196.4 380.8L1196.6 376.3L1196.7 381.8L1196.9 360.2L1197.0 390.9L1197.2 371.0L1197.3 380.7L1197.5 374.9L1197.6 378.9L1197.8 374.2L1197.9 378.4L1198.0 371.4L1198.2 382.3L1198.3 371.6L1198.5 389.1L1198.6 370.8L1198.8 380.9L1198.9 374.5L1199.1 380.5L1199.2 374.8L1199.4 386.1L1199.5 370.1L1199.7 386.2L1199.8 368.9L1200.0 382.1L1200.1 375.0L1200.3 379.3L1200.4 374.4L1200.5 377.5L1200.7 366.8L1200.8 377.3L1201.0 370.5L1201.1 389.5L1201.3 376.3L1201.4 380.5L1201.6 373.0L1201.7 378.8L1201.9 369.9L1202.0 377.5L1202.2 371.2L1202.3 380.7L1202.5 374.3L1202.6 383.9L1202.8 373.2L1202.9 384.0L1203.0 367.5L1203.2 383.1L1203.3 373.5L1203.5 381.5L1203.6 372.3L1203.8 392.7L1203.9 374.6L1204.1 386.4L1204.2 373.9L1204.4 384.3L1204.5 374.4L1204.7 386.2L1204.8 367.6L1205.0 382.0L1205.1 375.1L1205.3 378.6L1205.4 370.5L1205.5 385.1L1205.7 366.8L1205.8 390.5L1206.0 374.6L1206.1 379.1L1206.3 373.7L1206.4 379.0L1206.6 373.2L1206.7 382.9L1206.9 371.4L1207.0 377.9L1207.2 373.4L1207.3 380.0L1207.5 372.8L1207.6 385.8L1207.8 367.3L1207.9 389.3L1208.0 371.4L1208.2 380.5L1208.3 361.8L1208.5 380.2L1208.6 375.7L1208.8 388.6L1208.9 367.7L1209.1 391.1L1209.2 371.5L1209.4 387.3L1209.5 374.2L1209.7 379.0L1209.8 361.6L1210.0 378.2L1210.1 373.2L1210.3 394.7L1210.4 369.4L1210.5 378.1L1210.7 365.2L1210.8 386.5L1211.0 373.8L1211.1 380.7L1211.3 373.1L1211.4 377.0L1211.6 371.8L1211.7 379.8L1211.9 373.2L1212.0 378.3L1212.2 363.9L1212.3 385.8L1212.5 372.2L1212.6 379.9L1212.8 374.4L1212.9 379.3L1213.0 374.8L1213.2 377.2L1213.3 368.1L1213.5 383.4L1213.6 374.0L1213.8 376.9L1213.9 373.3L1214.1 380.2L1214.2 364.2L1214.4 378.2L1214.5 373.2L1214.7 389.9L1214.8 374.3L1215.0 385.0L1215.1 365.4L1215.3 389.7L1215.4 371.2L1215.5 390.7L1215.7 374.1L1215.8 376.8L1216.0 367.4L1216.1 389.5L1216.3 367.5L1216.4 380.4L1216.6 374.5L1216.7 382.6L1216.9 365.7L1217.0 379.9L1217.2 365.5L1217.3 389.6L1217.5 373.5L1217.6 379.3L1217.8 362.7L1217.9 380.9L1218.0 373.3L1218.2 377.6L1218.3 363.3L1218.5 383.0L1218.6 367.1L1218.8 374.1L1218.9 359.1L1219.1 373.5L1219.2 371.7L1219.4 380.2L1219.5 365.5L1219.7 374.7L1219.8 370.4L1220.0 376.4L1220.1 370.8L1220.3 383.8L1220.4 363.8L1220.5 373.0L1220.7 371.1L1220.8 372.6L1221.0 366.8L1221.1 378.2L1221.3 366.5L1221.4 375.1L1221.6 370.2L1221.7 373.9L1221.9 361.6L1222.0 377.6L1222.2 362.4L1222.3 376.5L1222.5 368.3L1222.6 371.1L1222.8 364.5L1222.9 377.6L1223.0 367.9L1223.2 378.3L1223.3 350.6L1223.5 381.4L1223.6 359.3L1223.8 373.6L1223.9 368.4L1224.1 373.9L1224.2 367.4L1224.4 372.6L1224.5 365.7L1224.7 372.1L1224.8 350.8L1225.0 374.2L1225.1 364.1L1225.3 373.7L1225.4 365.6L1225.5 375.1L1225.7 362.0L1225.8 381.0L1226.0 361.5L1226.1 371.6L1226.3 354.5L1226.4 373.9L1226.6 365.2L1226.7 378.9L1226.9 365.1L1227.0 376.7L1227.2 368.9L1227.3 379.7L1227.5 363.5L1227.6 373.4L1227.8 369.9L1227.9 373.1L1228.0 368.1L1228.2 379.8L1228.3 372.3L1228.5 379.2L1228.6 354.1L1228.8 376.3L1228.9 373.0L1229.1 379.0L1229.2 372.5L1229.4 378.5L1229.5 374.2L1229.7 377.4L1229.8 372.1L1230.0 388.4L1230.1 374.6L1230.3 382.1L1230.4 365.0L1230.5 379.0L1230.7 369.9L1230.8 382.9L1231.0 374.8L1231.1 380.1L1231.3 372.3L1231.4 388.2L1231.6 368.9L1231.7 389.1L1231.9 376.8L1232.0 380.7L1232.2 368.3L1232.3 381.1L1232.5 377.3L1232.6 381.4L1232.8 372.4L1232.9 383.0L1233.0 371.3L1233.2 383.2L1233.3 367.8L1233.5 378.9L1233.6 375.7L1233.8 378.8L1233.9 366.5L1234.1 386.1L1234.2 368.7L1234.4 379.0L1234.5 374.1L1234.7 386.1L1234.8 368.4L1235.0 381.3L1235.1 378.1L1235.3 379.3L1235.4 367.8L1235.6 398.0L1235.7 377.0L1235.8 380.2L1236.0 378.3L1236.1 380.9L1236.3 373.4L1236.4 381.4L1236.6 376.7L1236.7 382.6L1236.9 376.0L1237.0 381.9L1237.2 378.5L1237.3 381.2L1237.5 373.2L1237.6 383.2L1237.8 376.9L1237.9 382.4L1238.1 374.4L1238.2 383.4L1238.3 374.0L1238.5 380.3L1238.6 378.9L1238.8 385.5L1238.9 377.3L1239.1 388.8L1239.2 375.4L1239.4 385.6L1239.5 375.9L1239.7 388.6L1239.8 378.9L1240.0 382.3L1240.1 376.5L1240.3 383.7L1240.4 373.5L1240.6 381.4L1240.7 377.2L1240.8 382.4L1241.0 378.3L1241.1 386.9L1241.3 374.7L1241.4 387.2L1241.6 374.0L1241.7 389.1L1241.9 376.0L1242.0 382.2L1242.2 374.5L1242.3 388.4L1242.5 372.7L1242.6 393.5L1242.8 378.9L1242.9 386.0L1243.1 371.8L1243.2 386.8L1243.3 380.4L1243.5 384.1L1243.6 374.9L1243.8 384.2L1243.9 381.1L1244.1 384.7L1244.2 376.4L1244.4 389.0L1244.5 376.4L1244.7 387.6L1244.8 368.0L1245.0 392.8L1245.1 374.6L1245.3 387.9L1245.4 375.4L1245.6 393.3L1245.7 380.7L1245.8 389.0L1246.0 367.2L1246.1 385.9L1246.3 376.4L1246.4 382.7L1246.6 375.5L1246.7 385.3L1246.9 380.1L1247.0 383.8L1247.2 369.1L1247.3 391.3L1247.5 376.9L1247.6 382.4L1247.8 376.6L1247.9 389.4L1248.1 379.2L1248.2 385.1L1248.3 379.8L1248.5 383.7L1248.6 378.9L1248.8 389.4L1248.9 376.5L1249.1 388.2L1249.2 373.1L1249.4 388.9L1249.5 379.3L1249.7 383.2L1249.8 381.9L1250.0 384.9L1250.1 377.4L1250.3 385.0L1250.4 379.4L1250.6 384.8L1250.7 376.9L1250.8 392.4L1251.0 366.6L1251.1 385.6L1251.3 379.4L1251.4 386.8L1251.6 367.4L1251.7 383.9L1251.9 379.6L1252.0 392.2L1252.2 373.3L1252.3 401.0L1252.5 382.6L1252.6 388.8L1252.8 372.5L1252.9 390.4L1253.1 379.3L1253.2 391.9L1253.3 379.8L1253.5 389.7L1253.6 382.7L1253.8 386.5L1253.9 377.2L1254.1 390.8L1254.2 374.8L1254.4 393.9L1254.5 377.4L1254.7 385.9L1254.8 379.2L1255.0 384.7L1255.1 382.8L1255.3 389.5L1255.4 380.7L1255.6 388.2L1255.7 382.7L1255.8 388.3L1256.0 377.2L1256.1 388.8L1256.3 382.8L1256.4 393.6L1256.6 383.8L1256.7 393.1L1256.9 381.1L1257.0 390.4L1257.2 384.4L1257.3 394.3L1257.5 373.8L1257.6 385.3L1257.8 375.9L1257.9 387.8L1258.1 379.8L1258.2 388.8L1258.3 382.6L1258.5 395.3L1258.6 384.9L1258.8 385.8L1258.9 381.8L1259.1 389.1L1259.2 385.2L1259.4 391.7L1259.5 375.5L1259.7 390.4L1259.8 377.0L1260.0 393.2L1260.1 379.1L1260.3 395.6L1260.4 377.9L1260.6 386.9L1260.7 385.5L1260.8 386.8L1261.0 372.8L1261.1 386.1L1261.3 381.2L1261.4 397.0L1261.6 380.5L1261.7 399.0L1261.9 382.1L1262.0 390.2L1262.2 376.3L1262.3 390.8L1262.5 371.5L1262.6 390.1L1262.8 385.8L1262.9 390.5L1263.1 373.0L1263.2 395.2L1263.3 381.5L1263.5 388.3L1263.6 384.1L1263.8 389.5L1263.9 381.2L1264.1 395.2L1264.2 384.4L1264.4 394.3L1264.5 380.0L1264.7 388.7L1264.8 383.0L1265.0 396.4L1265.1 379.8L1265.3 388.9L1265.4 385.7L1265.6 390.9L1265.7 376.9L1265.8 395.4L1266.0 383.0L1266.1 390.5L1266.3 383.4L1266.4 391.1L1266.6 380.2L1266.7 395.1L1266.9 384.7L1267.0 389.1L1267.2 379.3L1267.3 392.0L1267.5 380.3L1267.6 394.2L1267.8 383.5L1267.9 392.8L1268.1 375.9L1268.2 389.4L1268.3 384.4L1268.5 387.1L1268.6 384.5L1268.8 386.8L1268.9 385.0L1269.1 393.6L1269.2 371.0L1269.4 399.3L1269.5 385.6L1269.7 387.0L1269.8 385.8L1270.0 386.8L1270.1 379.1L1270.3 397.2L1270.4 382.4L1270.6 392.8L1270.7 378.2L1270.9 387.6L1271.0 381.8L1271.1 393.3L1271.3 387.1L1271.4 388.8L1271.6 383.9L1271.7 390.1L1271.9 383.9L1272.0 403.6L1272.2 383.8L1272.3 395.2L1272.5 380.9L1272.6 391.3L1272.8 380.3L1272.9 388.9L1273.1 386.1L1273.2 394.2L1273.4 382.0L1273.5 393.8L1273.6 385.8L1273.8 392.2L1273.9 386.5L1274.1 389.7L1274.2 383.4L1274.4 389.7L1274.5 386.0L1274.7 395.7L1274.8 385.0L1275.0 393.7L1275.1 384.8L1275.3 405.8L1275.4 388.7L1275.6 399.7L1275.7 381.5L1275.9 391.6L1276.0 380.9L1276.1 390.5L1276.3 370.9L1276.4 393.0L1276.6 374.7L1276.7 393.0L1276.9 379.3L1277.0 390.8L1277.2 382.9L1277.3 394.1L1277.5 386.6L1277.6 401.3L1277.8 385.0L1277.9 396.9L1278.1 384.2L1278.2 392.5L1278.4 382.2L1278.5 395.5L1278.6 388.1L1278.8 393.4L1278.9 387.4L1279.1 401.4L1279.2 373.0L1279.4 392.9L1279.5 390.0L1279.7 405.4L1279.8 376.6L1280.0 393.7L1280.1 390.6L1280.3 393.7L1280.4 387.5L1280.6 397.1L1280.7 387.7L1280.9 396.0L1281.0 385.7L1281.1 391.2L1281.3 379.8L1281.4 391.3L1281.6 389.2L1281.7 396.1L1281.9 385.8L1282.0 401.1L1282.2 377.4L1282.3 398.3L1282.5 385.4L1282.6 392.4L1282.8 387.9L1282.9 396.8L1283.1 389.9L1283.2 394.6L1283.4 379.8L1283.5 402.0L1283.6 388.0L1283.8 392.9L1283.9 385.8L1284.1 398.3L1284.2 391.5L1284.4 394.1L1284.5 383.5L1284.7 395.0L1284.8 382.7L1285.0 400.4L1285.1 391.3L1285.3 399.7L1285.4 385.3L1285.6 400.4L1285.7 391.7L1285.9 393.3L1286.0 390.4" fill="none" stroke="#d4a010" stroke-width="1.1" stroke-linejoin="round"/>
<rect x="933.0" y="161.3" width="353.0" height="259.7" fill="none" stroke="#333" stroke-width="2"/>
<line x1="933.0" y1="421.0" x2="933.0" y2="426.0" stroke="#333" stroke-width="1.6"/>
<line x1="968.3" y1="421.0" x2="968.3" y2="424.0" stroke="#333" stroke-width="1.6"/>
<line x1="1003.6" y1="421.0" x2="1003.6" y2="426.0" stroke="#333" stroke-width="1.6"/>
<line x1="1038.9" y1="421.0" x2="1038.9" y2="424.0" stroke="#333" stroke-width="1.6"/>
<line x1="1074.2" y1="421.0" x2="1074.2" y2="426.0" stroke="#333" stroke-width="1.6"/>
<line x1="1109.5" y1="421.0" x2="1109.5" y2="424.0" stroke="#333" stroke-width="1.6"/>
<line x1="1144.8" y1="421.0" x2="1144.8" y2="426.0" stroke="#333" stroke-width="1.6"/>
<line x1="1180.1" y1="421.0" x2="1180.1" y2="424.0" stroke="#333" stroke-width="1.6"/>
<line x1="1215.4" y1="421.0" x2="1215.4" y2="426.0" stroke="#333" stroke-width="1.6"/>
<line x1="1250.7" y1="421.0" x2="1250.7" y2="424.0" stroke="#333" stroke-width="1.6"/>
<line x1="1286.0" y1="421.0" x2="1286.0" y2="426.0" stroke="#333" stroke-width="1.6"/>
<text x="933.0" y="441" font-size="14.5" text-anchor="middle" fill="#333">20</text>
<text x="1003.6" y="441" font-size="14.5" text-anchor="middle" fill="#333">30</text>
<text x="1074.2" y="441" font-size="14.5" text-anchor="middle" fill="#333">40</text>
<text x="1144.8" y="441" font-size="14.5" text-anchor="middle" fill="#333">50</text>
<text x="1215.4" y="441" font-size="14.5" text-anchor="middle" fill="#333">60</text>
<text x="1286.0" y="441" font-size="14.5" text-anchor="middle" fill="#333">70</text>
<text x="1103.5" y="470" font-size="25.5" text-anchor="middle" fill="#111" textLength="121" lengthAdjust="spacingAndGlyphs">2 θ ( deg.)</text>
<text transform="translate(916,295) rotate(-90)" font-size="26" text-anchor="middle" fill="#111">Intensity (arb. Unit)</text>
<text x="938.2" y="226.4" font-size="20.5" fill="#1a1a1a" textLength="87" lengthAdjust="spacingAndGlyphs">18 sccm</text>
<text x="939.8" y="326.9" font-size="20.5" fill="#1a1a1a" textLength="86" lengthAdjust="spacingAndGlyphs">15 sccm</text>
<circle cx="1045.6" cy="284" r="5.8" fill="#000"/>
<circle cx="1090.1" cy="267" r="5.8" fill="#000"/>
<circle cx="1193.9" cy="188.3" r="3.6" fill="#000"/>
<text x="1205.5" y="193" font-size="21.5" fill="#1a1a1a" textLength="56" lengthAdjust="spacingAndGlyphs">Mo<tspan font-size="15" dy="4">2</tspan><tspan dy="-4">N</tspan></text>
<text x="936.5" y="73.3" font-size="22.5" fill="#111" textLength="208" lengthAdjust="spacingAndGlyphs"><tspan font-weight="bold">Mo</tspan> #01-077-8340</text>
<text x="936.5" y="104.6" font-size="22.5" fill="#111" textLength="237" lengthAdjust="spacingAndGlyphs"><tspan font-weight="bold">Mo<tspan font-size="15.5" dy="5">2</tspan><tspan dy="-5">N</tspan></tspan> #00-025-1366</text>
<text x="936.5" y="134.9" font-size="22.5" fill="#111" textLength="327" lengthAdjust="spacingAndGlyphs"><tspan font-weight="bold">Cr<tspan font-size="15.5" dy="5">2</tspan><tspan dy="-5">N</tspan></tspan> #JCPDS-ICDD 35-803</text>
<text x="54.5" y="812.5" font-size="40" font-weight="bold" fill="#111">(b)</text>
<path d="M50.0 1064.4L50.5 1064.4L51.1 1064.4L51.6 1064.4L52.1 1064.4L52.6 1064.4L53.2 1064.4L53.7 1064.3L54.2 1064.3L54.7 1064.3L55.3 1064.3L55.8 1064.3L56.3 1064.3L56.8 1064.3L57.4 1064.3L57.9 1064.3L58.4 1064.3L58.9 1064.3L59.5 1064.2L60.0 1064.2L60.5 1064.2L61.0 1064.2L61.6 1064.2L62.1 1064.2L62.6 1064.2L63.1 1064.2L63.7 1064.2L64.2 1064.2L64.7 1064.1L65.2 1064.1L65.8 1064.1L66.3 1064.1L66.8 1064.1L67.4 1064.1L67.9 1064.1L68.4 1064.1L68.9 1064.1L69.5 1064.1L70.0 1064.0L70.5 1064.0L71.0 1064.0L71.6 1064.0L72.1 1064.0L72.6 1064.0L73.1 1064.0L73.7 1064.0L74.2 1063.9L74.7 1063.9L75.2 1063.9L75.8 1063.9L76.3 1063.9L76.8 1063.9L77.3 1063.9L77.9 1063.9L78.4 1063.8L78.9 1063.8L79.4 1063.8L80.0 1063.8L80.5 1063.8L81.0 1063.8L81.5 1063.8L82.1 1063.8L82.6 1063.7L83.1 1063.7L83.7 1063.7L84.2 1063.7L84.7 1063.7L85.2 1063.7L85.8 1063.6L86.3 1063.6L86.8 1063.6L87.3 1063.6L87.9 1063.6L88.4 1063.6L88.9 1063.5L89.4 1063.5L90.0 1063.5L90.5 1063.5L91.0 1063.5L91.5 1063.5L92.1 1063.4L92.6 1063.4L93.1 1063.4L93.6 1063.4L94.2 1063.4L94.7 1063.4L95.2 1063.3L95.7 1063.3L96.3 1063.3L96.8 1063.3L97.3 1063.2L97.9 1063.2L98.4 1063.2L98.9 1063.2L99.4 1063.2L100.0 1063.1L100.5 1063.1L101.0 1063.1L101.5 1063.1L102.1 1063.0L102.6 1063.0L103.1 1063.0L103.6 1063.0L104.2 1062.9L104.7 1062.9L105.2 1062.9L105.7 1062.9L106.3 1062.8L106.8 1062.8L107.3 1062.8L107.8 1062.8L108.4 1062.7L108.9 1062.7L109.4 1062.7L109.9 1062.6L110.5 1062.6L111.0 1062.6L111.5 1062.5L112.0 1062.5L112.6 1062.5L113.1 1062.4L113.6 1062.4L114.2 1062.4L114.7 1062.3L115.2 1062.3L115.7 1062.2L116.3 1062.2L116.8 1062.2L117.3 1062.1L117.8 1062.1L118.4 1062.0L118.9 1062.0L119.4 1061.9L119.9 1061.9L120.5 1061.8L121.0 1061.8L121.5 1061.7L122.0 1061.7L122.6 1061.6L123.1 1061.5L123.6 1061.5L124.1 1061.4L124.7 1061.4L125.2 1061.3L125.7 1061.2L126.2 1061.1L126.8 1061.1L127.3 1061.0L127.8 1060.9L128.3 1060.8L128.9 1060.7L129.4 1060.7L129.9 1060.6L130.5 1060.5L131.0 1060.4L131.5 1060.3L132.0 1060.2L132.6 1060.1L133.1 1060.0L133.6 1059.8L134.1 1059.7L134.7 1059.6L135.2 1059.5L135.7 1059.3L136.2 1059.2L136.8 1059.1L137.3 1058.9L137.8 1058.8L138.3 1058.6L138.9 1058.4L139.4 1058.3L139.9 1058.1L140.4 1057.9L141.0 1057.7L141.5 1057.5L142.0 1057.3L142.5 1057.1L143.1 1056.9L143.6 1056.7L144.1 1056.4L144.7 1056.2L145.2 1056.0L145.7 1055.7L146.2 1055.4L146.8 1055.2L147.3 1054.9L147.8 1054.6L148.3 1054.3L148.9 1053.9L149.4 1053.6L149.9 1053.3L150.4 1052.9L151.0 1052.6L151.5 1052.2L152.0 1051.8L152.5 1051.4L153.1 1051.0L153.6 1050.6L154.1 1050.1L154.6 1049.7L155.2 1049.2L155.7 1048.7L156.2 1048.2L156.7 1047.7L157.3 1047.2L157.8 1046.6L158.3 1046.1L158.8 1045.5L159.4 1044.9L159.9 1044.3L160.4 1043.6L161.0 1043.0L161.5 1042.3L162.0 1041.6L162.5 1040.9L163.1 1040.2L163.6 1039.4L164.1 1038.6L164.6 1037.8L165.2 1037.0L165.7 1036.1L166.2 1035.2L166.7 1034.3L167.3 1033.4L167.8 1032.4L168.3 1031.4L168.8 1030.3L169.4 1029.2L169.9 1028.1L170.4 1026.9L170.9 1025.7L171.5 1024.4L172.0 1023.1L172.5 1021.7L173.0 1020.3L173.6 1018.8L174.1 1017.2L174.6 1015.5L175.1 1013.8L175.7 1012.0L176.2 1010.2L176.7 1008.2L177.3 1006.1L177.8 1004.0L178.3 1001.7L178.8 999.4L179.4 996.9L179.9 994.3L180.4 991.6L180.9 988.8L181.5 985.8L182.0 982.7L182.5 979.5L183.0 976.2L183.6 972.7L184.1 969.0L184.6 965.3L185.1 961.3L185.7 957.3L186.2 953.1L186.7 948.8L187.2 944.3L187.8 939.8L188.3 935.1L188.8 930.3L189.3 925.4L189.9 920.5L190.4 915.5L190.9 910.5L191.4 905.4L192.0 900.4L192.5 895.5L193.0 890.6L193.6 885.9L194.1 881.3L194.6 877.0L195.1 873.0L195.7 869.2L196.2 865.9L196.7 862.9L197.2 860.5L197.8 858.5L198.3 857.1L198.8 856.2L199.3 855.9L199.9 856.2L200.4 857.1L200.9 858.5L201.4 860.5L202.0 862.9L202.5 865.8L203.0 869.2L203.5 872.8L204.1 876.8L204.6 881.0L205.1 885.5L205.6 890.1L206.2 894.8L206.7 899.6L207.2 904.4L207.8 909.3L208.3 914.1L208.8 919.0L209.3 923.7L209.9 928.4L210.4 933.0L210.9 937.5L211.4 941.9L212.0 946.2L212.5 950.3L213.0 954.4L213.5 958.3L214.1 962.0L214.6 965.6L215.1 969.1L215.6 972.5L216.2 975.7L216.7 978.8L217.2 981.8L217.7 984.7L218.3 987.4L218.8 990.0L219.3 992.5L219.8 994.9L220.4 997.2L220.9 999.4L221.4 1001.5L221.9 1003.5L222.5 1005.4L223.0 1007.3L223.5 1009.0L224.1 1010.7L224.6 1012.3L225.1 1013.9L225.6 1015.4L226.2 1016.8L226.7 1018.2L227.2 1019.6L227.7 1020.9L228.3 1022.1L228.8 1023.3L229.3 1024.5L229.8 1025.6L230.4 1026.7L230.9 1027.8L231.4 1028.8L231.9 1029.8L232.5 1030.8L233.0 1031.7L233.5 1032.6L234.0 1033.5L234.6 1034.4L235.1 1035.3L235.6 1036.1L236.1 1036.9L236.7 1037.7L237.2 1038.4L237.7 1039.2L238.2 1039.9L238.8 1040.6L239.3 1041.3L239.8 1042.0L240.4 1042.6L240.9 1043.2L241.4 1043.9L241.9 1044.5L242.5 1045.1L243.0 1045.6L243.5 1046.2L244.0 1046.7L244.6 1047.2L245.1 1047.7L245.6 1048.2L246.1 1048.7L246.7 1049.2L247.2 1049.6L247.7 1050.1L248.2 1050.5L248.8 1050.9L249.3 1051.3L249.8 1051.7L250.3 1052.1L250.9 1052.5L251.4 1052.8L251.9 1053.2L252.4 1053.5L253.0 1053.8L253.5 1054.1L254.0 1054.4L254.5 1054.7L255.1 1055.0L255.6 1055.3L256.1 1055.5L256.7 1055.8L257.2 1056.0L257.7 1056.3L258.2 1056.5L258.8 1056.7L259.3 1056.9L259.8 1057.2L260.3 1057.3L260.9 1057.5L261.4 1057.7L261.9 1057.9L262.4 1058.1L263.0 1058.2L263.5 1058.4L264.0 1058.6L264.5 1058.7L265.1 1058.8L265.6 1059.0L266.1 1059.1L266.6 1059.2L267.2 1059.4L267.7 1059.5L268.2 1059.6L268.7 1059.7L269.3 1059.8L269.8 1059.9L270.3 1060.0L270.9 1060.1L271.4 1060.2L271.9 1060.3L272.4 1060.4L273.0 1060.5L273.5 1060.5L274.0 1060.6L274.5 1060.7L275.1 1060.8L275.6 1060.8L276.1 1060.9L276.6 1061.0L277.2 1061.0L277.7 1061.1L278.2 1061.1L278.7 1061.2L279.3 1061.3L279.8 1061.3L280.3 1061.4L280.8 1061.4L281.4 1061.5L281.9 1061.5L282.4 1061.5L282.9 1061.6L283.5 1061.6L284.0 1061.7L284.5 1061.7L285.0 1061.7L285.6 1061.8L286.1 1061.8L286.6 1061.9L287.2 1061.9L287.7 1061.9L288.2 1062.0L288.7 1062.0L289.3 1062.0L289.8 1062.1L290.3 1062.1L290.8 1062.1L291.4 1062.1L291.9 1062.2L292.4 1062.2L292.9 1062.2L293.5 1062.2L294.0 1062.3L294.5 1062.3L295.0 1062.3L295.6 1062.3L296.1 1062.4L296.6 1062.4L297.1 1062.4L297.7 1062.4L298.2 1062.4L298.7 1062.5L299.2 1062.5L299.8 1062.5L300.3 1062.5L300.8 1062.5L301.3 1062.6L301.9 1062.6L302.4 1062.6L302.9 1062.6L303.5 1062.6L304.0 1062.7L304.5 1062.7L305.0 1062.7L305.6 1062.7L306.1 1062.7L306.6 1062.7L307.1 1062.8L307.7 1062.8L308.2 1062.8L308.7 1062.8L309.2 1062.8L309.8 1062.8L310.3 1062.8L310.8 1062.8L311.3 1062.9L311.9 1062.9L312.4 1062.9L312.9 1062.9L313.4 1062.9L314.0 1062.9L314.5 1062.9L315.0 1063.0L315.5 1063.0L316.1 1063.0L316.6 1063.0L317.1 1063.0L317.6 1063.0L318.2 1063.0L318.7 1063.0L319.2 1063.0L319.8 1063.1L320.3 1063.1L320.8 1063.1L321.3 1063.1L321.9 1063.1L322.4 1063.1L322.9 1063.1L323.4 1063.1L324.0 1063.1L324.5 1063.1L325.0 1063.1L325.5 1063.2L326.1 1063.2L326.6 1063.2L327.1 1063.2L327.6 1063.2L328.2 1063.2L328.7 1063.2L329.2 1063.2L329.7 1063.2L330.3 1063.2L330.8 1063.2L331.3 1063.2L331.8 1063.3L332.4 1063.3L332.9 1063.3L333.4 1063.3L333.9 1063.3L334.5 1063.3L335.0 1063.3L335.5 1063.3L336.1 1063.3L336.6 1063.3L337.1 1063.3L337.6 1063.3L338.2 1063.3L338.7 1063.3L339.2 1063.3L339.7 1063.4L340.3 1063.4L340.8 1063.4L341.3 1063.4L341.8 1063.4L342.4 1063.4L342.9 1063.4L343.4 1063.4L343.9 1063.4L344.5 1063.4L345.0 1063.4L345.5 1063.4L346.0 1063.4L346.6 1063.4L347.1 1063.4L347.6 1063.4L348.1 1063.4L348.7 1063.4L349.2 1063.4L349.7 1063.5L350.3 1063.5L350.8 1063.5L351.3 1063.5L351.8 1063.5L352.4 1063.5L352.9 1063.5L353.4 1063.5L353.9 1063.5L354.5 1063.5L355.0 1063.5L355.5 1063.5L356.0 1063.5L356.6 1063.5L357.1 1063.5L357.6 1063.5L358.1 1063.5L358.7 1063.5L359.2 1063.5L359.7 1063.5L360.2 1063.5L360.8 1063.5L361.3 1063.5L361.8 1063.5L362.3 1063.5L362.9 1063.5L363.4 1063.5L363.9 1063.6L364.4 1063.6L365.0 1063.6L365.5 1063.6" fill="none" stroke="#f3a0a8" stroke-width="3.00" stroke-linejoin="round" />
<path d="M50.0 1063.9L50.5 1063.7L51.1 1064.2L51.6 1063.8L52.1 1063.6L52.6 1064.2L53.2 1065.1L53.7 1064.9L54.2 1064.8L54.7 1063.8L55.3 1064.4L55.8 1063.9L56.3 1063.7L56.8 1063.6L57.4 1063.8L57.9 1065.0L58.4 1064.9L58.9 1064.8L59.5 1064.8L60.0 1063.7L60.5 1063.9L61.0 1064.4L61.6 1064.6L62.1 1064.8L62.6 1064.9L63.1 1063.4L63.7 1064.4L64.2 1064.5L64.7 1064.2L65.2 1063.6L65.8 1064.1L66.3 1063.4L66.8 1064.9L67.4 1064.8L67.9 1064.2L68.4 1063.7L68.9 1064.8L69.5 1064.2L70.0 1064.7L70.5 1064.7L71.0 1064.0L71.6 1063.9L72.1 1064.2L72.6 1063.9L73.1 1063.4L73.7 1063.6L74.2 1064.5L74.7 1063.1L75.2 1063.1L75.8 1064.1L76.3 1063.5L76.8 1063.9L77.3 1063.8L77.9 1063.6L78.4 1064.7L78.9 1063.3L79.4 1063.7L80.0 1063.3L80.5 1064.0L81.0 1063.4L81.5 1063.5L82.1 1064.2L82.6 1063.4L83.1 1063.8L83.7 1064.4L84.2 1063.0L84.7 1062.9L85.2 1063.2L85.8 1064.1L86.3 1063.8L86.8 1063.1L87.3 1063.3L87.9 1063.0L88.4 1063.5L88.9 1062.7L89.4 1063.9L90.0 1064.2L90.5 1064.3L91.0 1063.9L91.5 1064.3L92.1 1062.6L92.6 1063.0L93.1 1064.2L93.6 1063.9L94.2 1063.2L94.7 1064.1L95.2 1063.5L95.7 1063.9L96.3 1062.9L96.8 1062.7L97.3 1063.1L97.9 1062.6L98.4 1063.0L98.9 1064.0L99.4 1062.9L100.0 1062.3L100.5 1062.3L101.0 1062.5L101.5 1063.6L102.1 1062.8L102.6 1062.6L103.1 1062.3L103.6 1063.8L104.2 1062.8L104.7 1062.4L105.2 1062.1L105.7 1062.1L106.3 1062.2L106.8 1063.1L107.3 1062.2L107.8 1061.9L108.4 1062.7L108.9 1062.2L109.4 1063.6L109.9 1062.0L110.5 1062.7L111.0 1063.1L111.5 1062.4L112.0 1063.4L112.6 1062.4L113.1 1062.0L113.6 1062.2L114.2 1061.5L114.7 1062.2L115.2 1061.8L115.7 1062.9L116.3 1062.8L116.8 1062.1L117.3 1061.3L117.8 1061.6L118.4 1061.6L118.9 1061.4L119.4 1061.4L119.9 1062.5L120.5 1061.2L121.0 1061.0L121.5 1062.5L122.0 1061.8L122.6 1062.5L123.1 1061.4L123.6 1062.2L124.1 1061.7L124.7 1061.9L125.2 1061.7L125.7 1061.2L126.2 1060.4L126.8 1060.5L127.3 1061.7L127.8 1061.6L128.3 1061.6L128.9 1060.5L129.4 1060.9L129.9 1061.1L130.5 1060.7L131.0 1061.0L131.5 1060.3L132.0 1060.5L132.6 1060.4L133.1 1059.5L133.6 1060.6L134.1 1060.6L134.7 1058.8L135.2 1060.3L135.7 1060.2L136.2 1059.5L136.8 1058.2L137.3 1059.6L137.8 1058.1L138.3 1059.5L138.9 1058.7L139.4 1057.5L139.9 1057.5L140.4 1058.2L141.0 1057.9L141.5 1058.0L142.0 1058.1L142.5 1056.6L143.1 1056.0L143.6 1057.4L144.1 1055.6L144.7 1056.9L145.2 1055.3L145.7 1056.3L146.2 1055.9L146.8 1055.8L147.3 1055.0L147.8 1055.3L148.3 1053.7L148.9 1054.3L149.4 1053.3L149.9 1054.0L150.4 1053.4L151.0 1052.5L151.5 1052.2L152.0 1051.0L152.5 1050.6L153.1 1051.2L153.6 1050.5L154.1 1050.8L154.6 1049.9L155.2 1048.6L155.7 1048.5L156.2 1048.7L156.7 1047.8L157.3 1046.3L157.8 1047.2L158.3 1046.7L158.8 1044.7L159.4 1045.0L159.9 1044.1L160.4 1044.2L161.0 1042.7L161.5 1041.8L162.0 1041.6L162.5 1041.8L163.1 1039.4L163.6 1038.7L164.1 1038.9L164.6 1038.5L165.2 1037.0L165.7 1036.0L166.2 1035.9L166.7 1034.8L167.3 1032.6L167.8 1033.1L168.3 1030.8L168.8 1030.0L169.4 1029.8L169.9 1027.9L170.4 1027.4L170.9 1025.1L171.5 1025.1L172.0 1022.5L172.5 1021.1L173.0 1020.2L173.6 1018.5L174.1 1017.3L174.6 1016.3L175.1 1014.2L175.7 1011.2L176.2 1009.8L176.7 1008.3L177.3 1006.1L177.8 1004.4L178.3 1001.7L178.8 998.6L179.4 996.5L179.9 995.0L180.4 991.4L180.9 989.3L181.5 986.7L182.0 983.0L182.5 979.8L183.0 976.4L183.6 972.3L184.1 969.8L184.6 965.2L185.1 962.1L185.7 956.9L186.2 953.8L186.7 949.3L187.2 944.5L187.8 939.7L188.3 934.4L188.8 930.8L189.3 925.2L189.9 920.8L190.4 914.8L190.9 909.7L191.4 904.8L192.0 901.0L192.5 894.9L193.0 891.3L193.6 885.7L194.1 881.5L194.6 876.7L195.1 873.2L195.7 868.5L196.2 865.7L196.7 863.7L197.2 859.9L197.8 858.8L198.3 856.8L198.8 855.9L199.3 855.1L199.9 855.4L200.4 857.9L200.9 859.1L201.4 861.0L202.0 863.5L202.5 866.7L203.0 868.5L203.5 873.0L204.1 876.8L204.6 881.2L205.1 886.2L205.6 890.5L206.2 895.6L206.7 898.9L207.2 904.7L207.8 909.6L208.3 914.6L208.8 919.2L209.3 924.3L209.9 928.1L210.4 933.8L210.9 937.3L211.4 942.1L212.0 946.9L212.5 950.7L213.0 954.0L213.5 957.8L214.1 961.7L214.6 965.9L215.1 970.0L215.6 973.2L216.2 975.6L216.7 978.7L217.2 982.4L217.7 984.3L218.3 987.2L218.8 989.1L219.3 991.9L219.8 995.0L220.4 997.5L220.9 999.6L221.4 1001.2L221.9 1004.3L222.5 1005.6L223.0 1006.6L223.5 1008.2L224.1 1011.6L224.6 1013.2L225.1 1014.7L225.6 1015.6L226.2 1016.5L226.7 1017.5L227.2 1019.1L227.7 1020.4L228.3 1022.9L228.8 1024.0L229.3 1025.0L229.8 1025.0L230.4 1026.2L230.9 1027.4L231.4 1029.6L231.9 1029.2L232.5 1031.3L233.0 1032.0L233.5 1032.7L234.0 1034.4L234.6 1034.0L235.1 1035.3L235.6 1035.5L236.1 1036.2L236.7 1036.8L237.2 1038.1L237.7 1038.5L238.2 1039.1L238.8 1041.5L239.3 1040.9L239.8 1042.7L240.4 1043.0L240.9 1043.7L241.4 1044.1L241.9 1045.3L242.5 1045.7L243.0 1046.0L243.5 1046.3L244.0 1047.1L244.6 1047.6L245.1 1047.8L245.6 1048.3L246.1 1048.1L246.7 1049.8L247.2 1049.6L247.7 1049.3L248.2 1049.9L248.8 1051.6L249.3 1050.9L249.8 1051.5L250.3 1052.4L250.9 1053.1L251.4 1052.5L251.9 1053.0L252.4 1053.4L253.0 1053.0L253.5 1054.8L254.0 1053.6L254.5 1055.6L255.1 1054.4L255.6 1054.7L256.1 1056.2L256.7 1056.4L257.2 1055.6L257.7 1056.4L258.2 1056.5L258.8 1057.1L259.3 1056.4L259.8 1057.7L260.3 1058.2L260.9 1057.9L261.4 1058.5L261.9 1058.7L262.4 1057.9L263.0 1058.9L263.5 1059.0L264.0 1058.7L264.5 1058.0L265.1 1059.1L265.6 1059.7L266.1 1058.8L266.6 1059.5L267.2 1060.1L267.7 1059.7L268.2 1058.8L268.7 1059.9L269.3 1059.4L269.8 1060.6L270.3 1060.3L270.9 1059.8L271.4 1060.9L271.9 1060.5L272.4 1060.1L273.0 1061.1L273.5 1061.2L274.0 1061.3L274.5 1061.4L275.1 1061.0L275.6 1061.2L276.1 1061.1L276.6 1061.0L277.2 1061.9L277.7 1060.8L278.2 1060.4L278.7 1061.6L279.3 1061.3L279.8 1061.4L280.3 1061.5L280.8 1061.0L281.4 1060.9L281.9 1060.7L282.4 1062.1L282.9 1062.3L283.5 1062.0L284.0 1061.0L284.5 1062.6L285.0 1062.3L285.6 1061.8L286.1 1060.9L286.6 1062.5L287.2 1062.1L287.7 1062.1L288.2 1061.1L288.7 1062.4L289.3 1061.2L289.8 1062.0L290.3 1061.4L290.8 1061.9L291.4 1062.8L291.9 1062.6L292.4 1062.8L292.9 1061.9L293.5 1062.0L294.0 1062.5L294.5 1061.5L295.0 1062.2L295.6 1063.2L296.1 1062.8L296.6 1063.0L297.1 1062.0L297.7 1062.8L298.2 1063.0L298.7 1062.8L299.2 1062.4L299.8 1061.9L300.3 1061.7L300.8 1063.2L301.3 1063.3L301.9 1062.2L302.4 1063.1L302.9 1062.5L303.5 1062.9L304.0 1063.3L304.5 1062.3L305.0 1062.9L305.6 1062.3L306.1 1062.7L306.6 1061.9L307.1 1062.3L307.7 1062.4L308.2 1063.5L308.7 1062.1L309.2 1063.3L309.8 1062.1L310.3 1063.7L310.8 1062.2L311.3 1062.1L311.9 1062.4L312.4 1063.7L312.9 1063.2L313.4 1063.6L314.0 1062.9L314.5 1062.2L315.0 1062.7L315.5 1062.9L316.1 1063.9L316.6 1062.4L317.1 1062.5L317.6 1063.6L318.2 1062.3L318.7 1063.9L319.2 1062.7L319.8 1063.2L320.3 1063.3L320.8 1063.8L321.3 1062.3L321.9 1063.7L322.4 1062.5L322.9 1063.5L323.4 1062.3L324.0 1063.6L324.5 1062.6L325.0 1062.6L325.5 1062.3L326.1 1062.8L326.6 1062.9L327.1 1064.1L327.6 1063.4L328.2 1063.0L328.7 1064.1L329.2 1062.6L329.7 1062.7L330.3 1064.1L330.8 1064.0L331.3 1063.6L331.8 1064.1L332.4 1062.5L332.9 1064.0L333.4 1063.6L333.9 1063.6L334.5 1063.9L335.0 1062.6L335.5 1062.8L336.1 1062.7L336.6 1063.3L337.1 1063.4L337.6 1063.4L338.2 1063.1L338.7 1063.8L339.2 1064.0L339.7 1063.8L340.3 1062.5L340.8 1062.7L341.3 1062.9L341.8 1062.9L342.4 1063.5L342.9 1062.8L343.4 1063.6L343.9 1063.1L344.5 1063.2L345.0 1063.8L345.5 1064.2L346.0 1062.9L346.6 1063.1L347.1 1064.3L347.6 1062.9L348.1 1062.6L348.7 1062.9L349.2 1064.0L349.7 1063.9L350.3 1064.2L350.8 1063.5L351.3 1062.6L351.8 1063.1L352.4 1063.9L352.9 1063.3L353.4 1062.8L353.9 1063.3L354.5 1063.4L355.0 1063.2L355.5 1063.4L356.0 1062.8L356.6 1062.7L357.1 1064.0L357.6 1063.9L358.1 1063.4L358.7 1062.8L359.2 1063.2L359.7 1063.6L360.2 1064.2L360.8 1063.5L361.3 1064.4L361.8 1063.6L362.3 1063.0L362.9 1063.8L363.4 1063.7L363.9 1063.7L364.4 1064.0L365.0 1062.7L365.5 1063.4" fill="none" stroke="#a81c2c" stroke-width="1.50" stroke-linejoin="round" />
<line x1="199.5" y1="843" x2="199.5" y2="946" stroke="#333" stroke-width="1.3" stroke-dasharray="4 2.5"/>
<text transform="translate(227.0,926.5) rotate(-90)" font-size="14.5" fill="#333" text-anchor="start" textLength="70.5" lengthAdjust="spacingAndGlyphs">Mo (110)</text>
<line x1="406.3" y1="1061.8" x2="720.7" y2="1061.8" stroke="#a9a2e6" stroke-width="2.2"/>
<path d="M406.3 1061.8L407.3 1061.8L408.4 1061.8L409.4 1061.8L410.5 1061.8L411.5 1061.8L412.6 1061.8L413.6 1061.8L414.7 1061.8L415.7 1061.8L416.8 1061.8L417.8 1061.8L418.9 1061.8L419.9 1061.8L421.0 1061.8L422.0 1061.8L423.1 1061.8L424.1 1061.8L425.2 1061.8L426.2 1061.8L427.3 1061.8L428.3 1061.8L429.4 1061.8L430.4 1061.8L431.5 1061.8L432.5 1061.8L433.5 1061.8L434.6 1061.8L435.6 1061.8L436.7 1061.8L437.7 1061.8L438.8 1061.8L439.8 1061.8L440.9 1061.8L441.9 1061.8L443.0 1061.8L444.0 1061.8L445.1 1061.8L446.1 1061.8L447.2 1061.8L448.2 1061.8L449.3 1061.8L450.3 1061.8L451.4 1061.8L452.4 1061.8L453.5 1061.8L454.5 1061.8L455.6 1061.8L456.6 1061.8L457.7 1061.8L458.7 1061.8L459.7 1061.8L460.8 1061.8L461.8 1061.8L462.9 1061.8L463.9 1061.8L465.0 1061.8L466.0 1061.8L467.1 1061.8L468.1 1061.8L469.2 1061.8L470.2 1061.8L471.3 1061.8L472.3 1061.8L473.4 1061.8L474.4 1061.8L475.5 1061.8L476.5 1061.8L477.6 1061.8L478.6 1061.8L479.7 1061.8L480.7 1061.8L481.8 1061.8L482.8 1061.8L483.9 1061.8L484.9 1061.8L485.9 1061.8L487.0 1061.8L488.0 1061.8L489.1 1061.8L490.1 1061.8L491.2 1061.8L492.2 1061.8L493.3 1061.8L494.3 1061.8L495.4 1061.8L496.4 1061.8L497.5 1061.8L498.5 1061.8L499.6 1061.8L500.6 1061.8L501.7 1061.8L502.7 1061.8L503.8 1061.8L504.8 1061.8L505.9 1061.8L506.9 1061.8L508.0 1061.8L509.0 1061.8L510.1 1061.8L511.1 1061.8L512.1 1061.8L513.2 1061.8L514.2 1061.8L515.3 1061.8L516.3 1061.8L517.4 1061.8L518.4 1061.8L519.5 1061.8L520.5 1061.8L521.6 1061.8L522.6 1061.8L523.7 1061.8L524.7 1061.8L525.8 1061.8L526.8 1061.8L527.9 1061.8L528.9 1061.8L530.0 1061.8L531.0 1061.8L532.1 1061.8L533.1 1061.8L534.2 1061.8L535.2 1061.8L536.3 1061.8L537.3 1061.8L538.3 1061.8L539.4 1061.8L540.4 1061.8L541.5 1061.8L542.5 1061.8L543.6 1061.8L544.6 1061.8L545.7 1061.8L546.7 1061.8L547.8 1061.8L548.8 1061.8L549.9 1061.8L550.9 1061.8L552.0 1061.8L553.0 1061.8L554.1 1061.8L555.1 1061.7L556.2 1061.7L557.2 1061.7L558.3 1061.7L559.3 1061.6L560.4 1061.5L561.4 1061.5L562.5 1061.4L563.5 1061.2L564.5 1061.0L565.6 1060.8L566.6 1060.5L567.7 1060.2L568.7 1059.8L569.8 1059.2L570.8 1058.6L571.9 1057.8L572.9 1056.8L574.0 1055.7L575.0 1054.3L576.1 1052.8L577.1 1050.9L578.2 1048.8L579.2 1046.3L580.3 1043.5L581.3 1040.3L582.4 1036.7L583.4 1032.7L584.5 1028.2L585.5 1023.4L586.6 1018.1L587.6 1012.5L588.7 1006.4L589.7 1000.1L590.7 993.4L591.8 986.5L592.8 979.4L593.9 972.3L594.9 965.1L596.0 958.1L597.0 951.3L598.1 944.7L599.1 938.6L600.2 933.0L601.2 928.0L602.3 923.7L603.3 920.2L604.4 917.5L605.4 915.7L606.5 914.9L607.5 915.0L608.6 916.0L609.6 918.0L610.7 920.8L611.7 924.5L612.8 928.9L613.8 934.1L614.9 939.8L615.9 946.0L616.9 952.6L618.0 959.5L619.0 966.6L620.1 973.7L621.1 980.9L622.2 987.9L623.2 994.8L624.3 1001.4L625.3 1007.7L626.4 1013.6L627.4 1019.2L628.5 1024.4L629.5 1029.2L630.6 1033.5L631.6 1037.4L632.7 1040.9L633.7 1044.0L634.8 1046.8L635.8 1049.2L636.9 1051.3L637.9 1053.1L639.0 1054.6L640.0 1055.9L641.1 1057.0L642.1 1057.9L643.1 1058.7L644.2 1059.3L645.2 1059.8L646.3 1060.3L647.3 1060.6L648.4 1060.9L649.4 1061.1L650.5 1061.2L651.5 1061.4L652.6 1061.5L653.6 1061.6L654.7 1061.6L655.7 1061.7L656.8 1061.7L657.8 1061.7L658.9 1061.7L659.9 1061.8L661.0 1061.8L662.0 1061.8L663.1 1061.8L664.1 1061.8L665.2 1061.8L666.2 1061.8L667.3 1061.8L668.3 1061.8L669.3 1061.8L670.4 1061.8L671.4 1061.8L672.5 1061.8L673.5 1061.8L674.6 1061.8L675.6 1061.8L676.7 1061.8L677.7 1061.8L678.8 1061.8L679.8 1061.8L680.9 1061.8L681.9 1061.8L683.0 1061.8L684.0 1061.8L685.1 1061.8L686.1 1061.8L687.2 1061.8L688.2 1061.8L689.3 1061.8L690.3 1061.8L691.4 1061.8L692.4 1061.8L693.5 1061.8L694.5 1061.8L695.5 1061.8L696.6 1061.8L697.6 1061.8L698.7 1061.8L699.7 1061.8L700.8 1061.8L701.8 1061.8L702.9 1061.8L703.9 1061.8L705.0 1061.8L706.0 1061.8L707.1 1061.8L708.1 1061.8L709.2 1061.8L710.2 1061.8L711.3 1061.8L712.3 1061.8L713.4 1061.8L714.4 1061.8L715.5 1061.8L716.5 1061.8L717.6 1061.8L718.6 1061.8L719.7 1061.8L720.7 1061.8" fill="none" stroke="#ea7eea" stroke-width="2.20" stroke-linejoin="round" />
<path d="M469.2 1061.5L469.6 1061.5L470.1 1061.4L470.6 1061.4L471.0 1061.4L471.5 1061.3L472.0 1061.3L472.4 1061.2L472.9 1061.2L473.4 1061.1L473.8 1061.0L474.3 1061.0L474.8 1060.9L475.2 1060.8L475.7 1060.7L476.2 1060.6L476.6 1060.5L477.1 1060.4L477.6 1060.3L478.0 1060.2L478.5 1060.1L479.0 1059.9L479.4 1059.8L479.9 1059.6L480.4 1059.5L480.8 1059.3L481.3 1059.1L481.8 1058.9L482.2 1058.7L482.7 1058.5L483.2 1058.2L483.6 1058.0L484.1 1057.7L484.6 1057.4L485.0 1057.1L485.5 1056.8L486.0 1056.5L486.4 1056.2L486.9 1055.8L487.4 1055.4L487.8 1055.0L488.3 1054.6L488.8 1054.2L489.2 1053.7L489.7 1053.2L490.2 1052.7L490.6 1052.2L491.1 1051.7L491.6 1051.1L492.0 1050.5L492.5 1049.9L493.0 1049.3L493.4 1048.7L493.9 1048.0L494.4 1047.3L494.8 1046.6L495.3 1045.8L495.8 1045.1L496.2 1044.3L496.7 1043.5L497.2 1042.7L497.6 1041.9L498.1 1041.0L498.6 1040.1L499.0 1039.2L499.5 1038.3L500.0 1037.4L500.4 1036.5L500.9 1035.5L501.4 1034.5L501.8 1033.5L502.3 1032.6L502.8 1031.6L503.2 1030.5L503.7 1029.5L504.2 1028.5L504.6 1027.5L505.1 1026.5L505.6 1025.4L506.0 1024.4L506.5 1023.4L507.0 1022.4L507.4 1021.4L507.9 1020.4L508.4 1019.4L508.8 1018.5L509.3 1017.5L509.8 1016.6L510.2 1015.6L510.7 1014.7L511.2 1013.9L511.6 1013.0L512.1 1012.2L512.6 1011.4L513.0 1010.6L513.5 1009.9L514.0 1009.2L514.4 1008.6L514.9 1007.9L515.3 1007.4L515.8 1006.8L516.3 1006.3L516.7 1005.9L517.2 1005.4L517.7 1005.1L518.1 1004.7L518.6 1004.5L519.1 1004.2L519.5 1004.1L520.0 1003.9L520.5 1003.8L520.9 1003.8L521.4 1003.8L521.9 1003.9L522.3 1004.0L522.8 1004.1L523.3 1004.4L523.7 1004.6L524.2 1004.9L524.7 1005.3L525.1 1005.7L525.6 1006.1L526.1 1006.6L526.5 1007.1L527.0 1007.7L527.5 1008.3L527.9 1008.9L528.4 1009.6L528.9 1010.3L529.3 1011.0L529.8 1011.8L530.3 1012.6L530.7 1013.5L531.2 1014.3L531.7 1015.2L532.1 1016.1L532.6 1017.1L533.1 1018.0L533.5 1019.0L534.0 1019.9L534.5 1020.9L534.9 1021.9L535.4 1022.9L535.9 1023.9L536.3 1025.0L536.8 1026.0L537.3 1027.0L537.7 1028.0L538.2 1029.1L538.7 1030.1L539.1 1031.1L539.6 1032.1L540.1 1033.1L540.5 1034.1L541.0 1035.0L541.5 1036.0L541.9 1036.9L542.4 1037.9L542.9 1038.8L543.3 1039.7L543.8 1040.6L544.3 1041.5L544.7 1042.3L545.2 1043.1L545.7 1043.9L546.1 1044.7L546.6 1045.5L547.1 1046.2L547.5 1047.0L548.0 1047.7L548.5 1048.3L548.9 1049.0L549.4 1049.6L549.9 1050.2L550.3 1050.8L550.8 1051.4L551.3 1052.0L551.7 1052.5L552.2 1053.0L552.7 1053.5L553.1 1054.0L553.6 1054.4L554.1 1054.8L554.5 1055.2L555.0 1055.6L555.5 1056.0L555.9 1056.3L556.4 1056.7L556.9 1057.0L557.3 1057.3L557.8 1057.6L558.3 1057.9L558.7 1058.1L559.2 1058.4L559.7 1058.6L560.1 1058.8L560.6 1059.0L561.1 1059.2L561.5 1059.4L562.0 1059.6L562.5 1059.7L562.9 1059.9L563.4 1060.0L563.9 1060.2L564.3 1060.3L564.8 1060.4L565.3 1060.5L565.7 1060.6L566.2 1060.7L566.6 1060.8L567.1 1060.9L567.6 1060.9L568.0 1061.0L568.5 1061.1L569.0 1061.1L569.4 1061.2L569.9 1061.2L570.4 1061.3L570.8 1061.3L571.3 1061.4L571.8 1061.4L572.2 1061.4L572.7 1061.5L573.2 1061.5L573.6 1061.5L574.1 1061.6L574.6 1061.6L575.0 1061.6L575.5 1061.6L576.0 1061.6L576.4 1061.7L576.9 1061.7L577.4 1061.7L577.8 1061.7L578.3 1061.7L578.8 1061.7L579.2 1061.7L579.7 1061.7L580.2 1061.7L580.6 1061.7L581.1 1061.7L581.6 1061.8L582.0 1061.8L582.5 1061.8L583.0 1061.8L583.4 1061.8L583.9 1061.8L584.4 1061.8L584.8 1061.8L585.3 1061.8L585.8 1061.8L586.2 1061.8L586.7 1061.8L587.2 1061.8L587.6 1061.8L588.1 1061.8L588.6 1061.8L589.0 1061.8L589.5 1061.8L590.0 1061.8L590.4 1061.8L590.9 1061.8L591.4 1061.8L591.8 1061.8L592.3 1061.8L592.8 1061.8L593.2 1061.8L593.7 1061.8L594.2 1061.8L594.6 1061.8L595.1 1061.8L595.6 1061.8L596.0 1061.8L596.5 1061.8L597.0 1061.8L597.4 1061.8L597.9 1061.8L598.4 1061.8L598.8 1061.8L599.3 1061.8L599.8 1061.8L600.2 1061.8L600.7 1061.8L601.2 1061.8L601.6 1061.8L602.1 1061.8L602.6 1061.8L603.0 1061.8L603.5 1061.8L604.0 1061.8L604.4 1061.8L604.9 1061.8L605.4 1061.8L605.8 1061.8L606.3 1061.8L606.8 1061.8L607.2 1061.8L607.7 1061.8L608.2 1061.8L608.6 1061.8L609.1 1061.8" fill="none" stroke="#a82424" stroke-width="2.60" stroke-linejoin="round" />
<path d="M532.1 1061.6L532.5 1061.6L532.8 1061.6L533.2 1061.6L533.6 1061.5L534.0 1061.5L534.4 1061.5L534.8 1061.4L535.2 1061.4L535.6 1061.3L536.0 1061.3L536.4 1061.2L536.8 1061.2L537.2 1061.1L537.6 1061.0L538.0 1061.0L538.3 1060.9L538.7 1060.8L539.1 1060.7L539.5 1060.6L539.9 1060.5L540.3 1060.3L540.7 1060.2L541.1 1060.0L541.5 1059.9L541.9 1059.7L542.3 1059.5L542.7 1059.3L543.1 1059.1L543.5 1058.9L543.9 1058.7L544.2 1058.4L544.6 1058.1L545.0 1057.8L545.4 1057.5L545.8 1057.2L546.2 1056.9L546.6 1056.5L547.0 1056.1L547.4 1055.7L547.8 1055.3L548.2 1054.9L548.6 1054.4L549.0 1053.9L549.4 1053.4L549.7 1052.9L550.1 1052.3L550.5 1051.8L550.9 1051.2L551.3 1050.6L551.7 1050.0L552.1 1049.3L552.5 1048.6L552.9 1048.0L553.3 1047.3L553.7 1046.6L554.1 1045.8L554.5 1045.1L554.9 1044.3L555.2 1043.6L555.6 1042.8L556.0 1042.0L556.4 1041.2L556.8 1040.5L557.2 1039.7L557.6 1038.9L558.0 1038.1L558.4 1037.3L558.8 1036.5L559.2 1035.8L559.6 1035.0L560.0 1034.2L560.4 1033.5L560.7 1032.8L561.1 1032.1L561.5 1031.4L561.9 1030.8L562.3 1030.2L562.7 1029.6L563.1 1029.0L563.5 1028.5L563.9 1028.0L564.3 1027.6L564.7 1027.1L565.1 1026.8L565.5 1026.4L565.9 1026.1L566.3 1025.9L566.6 1025.7L567.0 1025.5L567.4 1025.4L567.8 1025.3L568.2 1025.3L568.6 1025.3L569.0 1025.4L569.4 1025.5L569.8 1025.7L570.2 1025.9L570.6 1026.1L571.0 1026.4L571.4 1026.8L571.8 1027.1L572.1 1027.6L572.5 1028.0L572.9 1028.5L573.3 1029.0L573.7 1029.6L574.1 1030.2L574.5 1030.8L574.9 1031.4L575.3 1032.1L575.7 1032.8L576.1 1033.5L576.5 1034.2L576.9 1035.0L577.3 1035.8L577.6 1036.5L578.0 1037.3L578.4 1038.1L578.8 1038.9L579.2 1039.7L579.6 1040.5L580.0 1041.2L580.4 1042.0L580.8 1042.8L581.2 1043.6L581.6 1044.3L582.0 1045.1L582.4 1045.8L582.8 1046.6L583.2 1047.3L583.5 1048.0L583.9 1048.6L584.3 1049.3L584.7 1050.0L585.1 1050.6L585.5 1051.2L585.9 1051.8L586.3 1052.3L586.7 1052.9L587.1 1053.4L587.5 1053.9L587.9 1054.4L588.3 1054.9L588.7 1055.3L589.0 1055.7L589.4 1056.1L589.8 1056.5L590.2 1056.9L590.6 1057.2L591.0 1057.5L591.4 1057.8L591.8 1058.1L592.2 1058.4L592.6 1058.7L593.0 1058.9L593.4 1059.1L593.8 1059.3L594.2 1059.5L594.5 1059.7L594.9 1059.9L595.3 1060.0L595.7 1060.2L596.1 1060.3L596.5 1060.5L596.9 1060.6L597.3 1060.7L597.7 1060.8L598.1 1060.9L598.5 1061.0L598.9 1061.0L599.3 1061.1L599.7 1061.2L600.0 1061.2L600.4 1061.3L600.8 1061.3L601.2 1061.4L601.6 1061.4L602.0 1061.5L602.4 1061.5L602.8 1061.5L603.2 1061.6L603.6 1061.6L604.0 1061.6L604.4 1061.6L604.8 1061.7L605.2 1061.7L605.6 1061.7L605.9 1061.7L606.3 1061.7L606.7 1061.7L607.1 1061.7L607.5 1061.7L607.9 1061.7L608.3 1061.8L608.7 1061.8L609.1 1061.8L609.5 1061.8L609.9 1061.8L610.3 1061.8L610.7 1061.8L611.1 1061.8L611.4 1061.8L611.8 1061.8L612.2 1061.8L612.6 1061.8L613.0 1061.8L613.4 1061.8L613.8 1061.8L614.2 1061.8L614.6 1061.8L615.0 1061.8L615.4 1061.8L615.8 1061.8L616.2 1061.8L616.6 1061.8L616.9 1061.8L617.3 1061.8L617.7 1061.8L618.1 1061.8L618.5 1061.8L618.9 1061.8L619.3 1061.8L619.7 1061.8L620.1 1061.8L620.5 1061.8L620.9 1061.8L621.3 1061.8L621.7 1061.8L622.1 1061.8L622.5 1061.8L622.8 1061.8L623.2 1061.8L623.6 1061.8L624.0 1061.8L624.4 1061.8L624.8 1061.8L625.2 1061.8L625.6 1061.8L626.0 1061.8L626.4 1061.8L626.8 1061.8L627.2 1061.8L627.6 1061.8L628.0 1061.8L628.3 1061.8L628.7 1061.8L629.1 1061.8L629.5 1061.8L629.9 1061.8L630.3 1061.8L630.7 1061.8L631.1 1061.8L631.5 1061.8L631.9 1061.8L632.3 1061.8L632.7 1061.8L633.1 1061.8L633.5 1061.8L633.8 1061.8L634.2 1061.8L634.6 1061.8L635.0 1061.8L635.4 1061.8L635.8 1061.8L636.2 1061.8L636.6 1061.8L637.0 1061.8L637.4 1061.8L637.8 1061.8L638.2 1061.8L638.6 1061.8L639.0 1061.8L639.3 1061.8L639.7 1061.8L640.1 1061.8L640.5 1061.8L640.9 1061.8L641.3 1061.8L641.7 1061.8L642.1 1061.8L642.5 1061.8L642.9 1061.8L643.3 1061.8L643.7 1061.8L644.1 1061.8L644.5 1061.8L644.9 1061.8L645.2 1061.8L645.6 1061.8L646.0 1061.8L646.4 1061.8L646.8 1061.8L647.2 1061.8L647.6 1061.8L648.0 1061.8L648.4 1061.8L648.8 1061.8L649.2 1061.8L649.6 1061.8L650.0 1061.8" fill="none" stroke="#35dd35" stroke-width="2.60" stroke-linejoin="round" />
<path d="M606.9 914.5L607.3 914.6L607.6 914.8L608.0 915.1L608.4 915.5L608.8 916.1L609.2 916.7L609.5 917.5L609.9 918.4L610.3 919.4L610.7 920.5L611.1 921.8L611.4 923.1L611.8 924.5L612.2 926.0L612.6 927.7L613.0 929.4L613.3 931.2L613.7 933.1L614.1 935.0L614.5 937.1L614.9 939.2L615.2 941.3L615.6 943.6L616.0 945.8L616.4 948.2L616.8 950.5L617.1 952.9L617.5 955.4L617.9 957.9L618.3 960.3L618.6 962.9L619.0 965.4L619.4 967.9L619.8 970.5L620.2 973.0L620.5 975.6L620.9 978.1L621.3 980.6L621.7 983.1L622.1 985.6L622.4 988.0L622.8 990.5L623.2 992.9L623.6 995.3L624.0 997.6L624.3 999.9L624.7 1002.1L625.1 1004.4L625.5 1006.5L625.9 1008.6L626.2 1010.7L626.6 1012.7L627.0 1014.7L627.4 1016.6L627.8 1018.5L628.1 1020.3L628.5 1022.1L628.9 1023.8L629.3 1025.4L629.6 1027.0L630.0 1028.5L630.4 1030.0L630.8 1031.4L631.2 1032.8L631.5 1034.1L631.9 1035.4L632.3 1036.6L632.7 1037.8L633.1 1038.9L633.4 1040.0L633.8 1041.0L634.2 1041.9L634.6 1042.9L635.0 1043.8L635.3 1044.6L635.7 1045.4L636.1 1046.2L636.5 1046.9L636.9 1047.6L637.2 1048.2L637.6 1048.8L638.0 1049.4L638.4 1049.9L638.8 1050.5L639.1 1051.0L639.5 1051.4L639.9 1051.9L640.3 1052.3L640.7 1052.7L641.0 1053.0L641.4 1053.4L641.8 1053.7L642.2 1054.0L642.5 1054.3L642.9 1054.6L643.3 1054.8L643.7 1055.1L644.1 1055.3L644.4 1055.5L644.8 1055.7L645.2 1055.9L645.6 1056.1L646.0 1056.3L646.3 1056.5L646.7 1056.6L647.1 1056.8L647.5 1056.9L647.9 1057.1L648.2 1057.2L648.6 1057.3L649.0 1057.4L649.4 1057.6L649.8 1057.7L650.1 1057.8L650.5 1057.9L650.9 1058.0L651.3 1058.1L651.7 1058.2L652.0 1058.3L652.4 1058.4L652.8 1058.5L653.2 1058.6L653.6 1058.7L653.9 1058.8L654.3 1058.8L654.7 1058.9L655.1 1059.0L655.4 1059.1L655.8 1059.2L656.2 1059.3L656.6 1059.3L657.0 1059.4L657.3 1059.5L657.7 1059.6L658.1 1059.6L658.5 1059.7L658.9 1059.8L659.2 1059.8L659.6 1059.9L660.0 1060.0L660.4 1060.0L660.8 1060.1L661.1 1060.2L661.5 1060.2L661.9 1060.3L662.3 1060.3L662.7 1060.4L663.0 1060.4L663.4 1060.5L663.8 1060.6L664.2 1060.6L664.6 1060.7L664.9 1060.7L665.3 1060.8L665.7 1060.8L666.1 1060.8L666.4 1060.9L666.8 1060.9L667.2 1061.0L667.6 1061.0L668.0 1061.0L668.3 1061.1L668.7 1061.1L669.1 1061.2L669.5 1061.2L669.9 1061.2L670.2 1061.2L670.6 1061.3L671.0 1061.3L671.4 1061.3L671.8 1061.4L672.1 1061.4L672.5 1061.4L672.9 1061.4L673.3 1061.4L673.7 1061.5L674.0 1061.5L674.4 1061.5L674.8 1061.5L675.2 1061.5L675.6 1061.6L675.9 1061.6L676.3 1061.6L676.7 1061.6L677.1 1061.6L677.5 1061.6L677.8 1061.6L678.2 1061.6L678.6 1061.7L679.0 1061.7L679.3 1061.7L679.7 1061.7L680.1 1061.7L680.5 1061.7L680.9 1061.7L681.2 1061.7L681.6 1061.7L682.0 1061.7L682.4 1061.7L682.8 1061.7L683.1 1061.7L683.5 1061.7L683.9 1061.7L684.3 1061.8L684.7 1061.8L685.0 1061.8L685.4 1061.8L685.8 1061.8L686.2 1061.8L686.6 1061.8L686.9 1061.8L687.3 1061.8L687.7 1061.8L688.1 1061.8L688.5 1061.8L688.8 1061.8L689.2 1061.8L689.6 1061.8L690.0 1061.8L690.3 1061.8L690.7 1061.8L691.1 1061.8L691.5 1061.8L691.9 1061.8L692.2 1061.8L692.6 1061.8L693.0 1061.8L693.4 1061.8L693.8 1061.8L694.1 1061.8L694.5 1061.8L694.9 1061.8L695.3 1061.8L695.7 1061.8L696.0 1061.8L696.4 1061.8L696.8 1061.8L697.2 1061.8L697.6 1061.8L697.9 1061.8L698.3 1061.8L698.7 1061.8L699.1 1061.8L699.5 1061.8L699.8 1061.8L700.2 1061.8L700.6 1061.8L701.0 1061.8L701.4 1061.8L701.7 1061.8L702.1 1061.8L702.5 1061.8L702.9 1061.8L703.2 1061.8L703.6 1061.8L704.0 1061.8L704.4 1061.8L704.8 1061.8L705.1 1061.8L705.5 1061.8L705.9 1061.8L706.3 1061.8L706.7 1061.8L707.0 1061.8L707.4 1061.8L707.8 1061.8L708.2 1061.8L708.6 1061.8L708.9 1061.8L709.3 1061.8L709.7 1061.8L710.1 1061.8L710.5 1061.8L710.8 1061.8L711.2 1061.8L711.6 1061.8L712.0 1061.8L712.4 1061.8L712.7 1061.8L713.1 1061.8L713.5 1061.8L713.9 1061.8L714.3 1061.8L714.6 1061.8L715.0 1061.8L715.4 1061.8L715.8 1061.8L716.1 1061.8L716.5 1061.8L716.9 1061.8L717.3 1061.8L717.7 1061.8L718.0 1061.8L718.4 1061.8L718.8 1061.8L719.2 1061.8L719.6 1061.8L719.9 1061.8L720.3 1061.8L720.7 1061.8" fill="none" stroke="#a59ae8" stroke-width="2.20" stroke-linejoin="round" />
<path d="M563.5 1061.2L563.6 1061.2L563.8 1061.2L563.9 1061.1L564.1 1061.1L564.2 1061.1L564.4 1061.1L564.5 1061.0L564.7 1061.0L564.8 1061.0L564.9 1061.0L565.1 1060.9L565.2 1060.9L565.4 1060.9L565.5 1060.8L565.7 1060.8L565.8 1060.8L566.0 1060.7L566.1 1060.7L566.2 1060.7L566.4 1060.6L566.5 1060.6L566.7 1060.5L566.8 1060.5L567.0 1060.4L567.1 1060.4L567.3 1060.3L567.4 1060.3L567.5 1060.2L567.7 1060.2L567.8 1060.1L568.0 1060.1L568.1 1060.0L568.3 1060.0L568.4 1059.9L568.6 1059.8L568.7 1059.8L568.9 1059.7L569.0 1059.6L569.1 1059.6L569.3 1059.5L569.4 1059.4L569.6 1059.3L569.7 1059.3L569.9 1059.2L570.0 1059.1L570.2 1059.0L570.3 1058.9L570.4 1058.8L570.6 1058.7L570.7 1058.6L570.9 1058.5L571.0 1058.4L571.2 1058.3L571.3 1058.2L571.5 1058.1L571.6 1058.0L571.7 1057.9L571.9 1057.8L572.0 1057.7L572.2 1057.5L572.3 1057.4L572.5 1057.3L572.6 1057.1L572.8 1057.0L572.9 1056.9L573.0 1056.7L573.2 1056.6L573.3 1056.4L573.5 1056.3L573.6 1056.1L573.8 1055.9L573.9 1055.8L574.1 1055.6L574.2 1055.4L574.3 1055.2L574.5 1055.1L574.6 1054.9L574.8 1054.7L574.9 1054.5L575.1 1054.3L575.2 1054.1L575.4 1053.9L575.5 1053.7L575.6 1053.4L575.8 1053.2L575.9 1053.0L576.1 1052.7L576.2 1052.5L576.4 1052.3L576.5 1052.0L576.7 1051.8L576.8 1051.5L577.0 1051.2L577.1 1051.0L577.2 1050.7L577.4 1050.4L577.5 1050.1L577.7 1049.8L577.8 1049.5L578.0 1049.2L578.1 1048.9L578.3 1048.6L578.4 1048.3L578.5 1047.9L578.7 1047.6L578.8 1047.2L579.0 1046.9L579.1 1046.5L579.3 1046.2L579.4 1045.8L579.6 1045.4L579.7 1045.0L579.8 1044.6L580.0 1044.2L580.1 1043.8L580.3 1043.4L580.4 1043.0L580.6 1042.6L580.7 1042.2L580.9 1041.7L581.0 1041.3L581.1 1040.8L581.3 1040.3L581.4 1039.9L581.6 1039.4L581.7 1038.9L581.9 1038.4L582.0 1037.9L582.2 1037.4L582.3 1036.9L582.4 1036.4L582.6 1035.8L582.7 1035.3L582.9 1034.8L583.0 1034.2L583.2 1033.6L583.3 1033.1L583.5 1032.5L583.6 1031.9L583.7 1031.3L583.9 1030.7L584.0 1030.1L584.2 1029.5L584.3 1028.8L584.5 1028.2L584.6 1027.6L584.8 1026.9L584.9 1026.2L585.0 1025.6L585.2 1024.9L585.3 1024.2L585.5 1023.5L585.6 1022.8L585.8 1022.1L585.9 1021.4L586.1 1020.7L586.2 1019.9L586.4 1019.2L586.5 1018.5L586.6 1017.7L586.8 1016.9L586.9 1016.2L587.1 1015.4L587.2 1014.6L587.4 1013.8L587.5 1013.0L587.7 1012.2L587.8 1011.4L587.9 1010.6L588.1 1009.7L588.2 1008.9L588.4 1008.1L588.5 1007.2L588.7 1006.4L588.8 1005.5L589.0 1004.6L589.1 1003.8L589.2 1002.9L589.4 1002.0L589.5 1001.1L589.7 1000.2L589.8 999.3L590.0 998.4L590.1 997.5L590.3 996.6L590.4 995.6L590.5 994.7L590.7 993.8L590.8 992.8L591.0 991.9L591.1 990.9L591.3 990.0L591.4 989.0L591.6 988.1L591.7 987.1L591.8 986.2L592.0 985.2L592.1 984.2L592.3 983.2L592.4 982.3L592.6 981.3L592.7 980.3L592.9 979.3L593.0 978.3L593.1 977.4L593.3 976.4L593.4 975.4L593.6 974.4L593.7 973.4L593.9 972.4L594.0 971.4L594.2 970.4L594.3 969.5L594.4 968.5L594.6 967.5L594.7 966.5L594.9 965.5L595.0 964.5L595.2 963.6L595.3 962.6L595.5 961.6L595.6 960.6L595.8 959.7L595.9 958.7L596.0 957.7L596.2 956.8L596.3 955.8L596.5 954.9L596.6 953.9L596.8 953.0L596.9 952.1L597.1 951.1L597.2 950.2L597.3 949.3L597.5 948.4L597.6 947.5L597.8 946.6L597.9 945.7L598.1 944.8L598.2 944.0L598.4 943.1L598.5 942.2L598.6 941.4L598.8 940.6L598.9 939.7L599.1 938.9L599.2 938.1L599.4 937.3L599.5 936.5L599.7 935.7L599.8 935.0L599.9 934.2L600.1 933.5L600.2 932.7L600.4 932.0L600.5 931.3L600.7 930.6L600.8 929.9L601.0 929.2L601.1 928.6L601.2 927.9L601.4 927.3L601.5 926.7L601.7 926.0L601.8 925.5L602.0 924.9L602.1 924.3L602.3 923.8L602.4 923.2L602.5 922.7L602.7 922.2L602.8 921.7L603.0 921.2L603.1 920.8L603.3 920.3L603.4 919.9L603.6 919.5L603.7 919.1L603.9 918.7L604.0 918.4L604.1 918.0L604.3 917.7L604.4 917.4L604.6 917.1L604.7 916.8L604.9 916.6L605.0 916.3L605.2 916.1L605.3 915.9L605.4 915.7L605.6 915.5L605.7 915.4L605.9 915.2L606.0 915.1L606.2 915.0L606.3 914.9L606.5 914.9L606.6 914.8L606.7 914.8L606.9 914.8" fill="none" stroke="#ea7eea" stroke-width="2.20" stroke-linejoin="round" />
<path d="M406.3 1062.9L406.9 1062.7L407.6 1062.3L408.2 1063.7L408.8 1062.0L409.4 1063.0L410.1 1063.8L410.7 1062.2L411.3 1063.1L412.0 1063.2L412.6 1062.1L413.2 1062.8L413.8 1063.4L414.5 1062.9L415.1 1063.5L415.7 1062.3L416.4 1062.5L417.0 1062.2L417.6 1063.0L418.2 1063.8L418.9 1063.2L419.5 1063.5L420.1 1062.8L420.8 1063.5L421.4 1062.2L422.0 1062.6L422.6 1063.3L423.3 1063.5L423.9 1062.8L424.5 1062.2L425.2 1062.5L425.8 1062.4L426.4 1062.6L427.1 1063.6L427.7 1062.4L428.3 1063.8L428.9 1063.8L429.6 1062.1L430.2 1062.8L430.8 1063.0L431.5 1062.0L432.1 1062.8L432.7 1063.8L433.3 1062.2L434.0 1063.2L434.6 1062.2L435.2 1063.2L435.9 1063.8L436.5 1062.4L437.1 1062.0L437.7 1062.2L438.4 1063.1L439.0 1062.0L439.6 1062.2L440.3 1063.0L440.9 1063.8L441.5 1062.8L442.1 1062.8L442.8 1063.3L443.4 1062.2L444.0 1063.2L444.7 1062.3L445.3 1063.2L445.9 1063.9L446.5 1062.1L447.2 1063.1L447.8 1063.2L448.4 1062.3L449.1 1062.5L449.7 1064.0L450.3 1064.0L450.9 1062.2L451.6 1063.4L452.2 1063.9L452.8 1062.5L453.5 1063.2L454.1 1062.1L454.7 1062.7L455.3 1063.3L456.0 1063.2L456.6 1063.5L457.2 1062.2L457.9 1062.7L458.5 1063.7L459.1 1063.1L459.7 1062.9L460.4 1062.8L461.0 1063.9L461.6 1063.1L462.3 1062.0L462.9 1063.5L463.5 1062.6L464.1 1062.8L464.8 1062.3L465.4 1062.7L466.0 1062.5L466.7 1062.0L467.3 1063.0L467.9 1062.0L468.6 1063.3L469.2 1061.7L469.8 1063.2L470.4 1063.2L471.1 1062.5L471.7 1062.9L472.3 1061.9L473.0 1062.8L473.6 1062.1L474.2 1061.6L474.8 1063.0L475.5 1061.8L476.1 1061.6L476.7 1062.5L477.4 1061.3L478.0 1061.8L478.6 1060.6L479.2 1061.8L479.9 1060.4L480.5 1059.7L481.1 1061.3L481.8 1059.5L482.4 1060.7L483.0 1060.5L483.6 1059.4L484.3 1057.8L484.9 1057.6L485.5 1057.4L486.2 1057.3L486.8 1057.3L487.4 1057.5L488.0 1055.7L488.7 1054.7L489.3 1055.0L489.9 1053.5L490.6 1052.7L491.2 1052.9L491.8 1052.4L492.4 1050.3L493.1 1050.3L493.7 1049.9L494.3 1049.1L495.0 1047.3L495.6 1047.3L496.2 1044.9L496.8 1044.9L497.5 1043.9L498.1 1042.9L498.7 1041.0L499.4 1039.0L500.0 1037.6L500.6 1037.3L501.2 1035.3L501.9 1034.9L502.5 1032.5L503.1 1032.5L503.8 1030.0L504.4 1028.2L505.0 1027.2L505.7 1026.4L506.3 1025.2L506.9 1023.5L507.5 1021.7L508.2 1021.0L508.8 1020.6L509.4 1018.5L510.1 1018.1L510.7 1015.0L511.3 1015.8L511.9 1014.4L512.6 1012.7L513.2 1011.6L513.8 1010.7L514.5 1010.5L515.1 1008.0L515.7 1008.4L516.3 1007.5L517.0 1006.4L517.6 1006.7L518.2 1006.3L518.9 1004.7L519.5 1005.6L520.1 1004.9L520.7 1004.9L521.4 1005.1L522.0 1004.0L522.6 1005.2L523.3 1005.0L523.9 1006.3L524.5 1005.4L525.1 1007.0L525.8 1007.3L526.4 1007.6L527.0 1008.8L527.7 1007.7L528.3 1009.6L528.9 1010.4L529.5 1011.3L530.2 1011.6L530.8 1011.8L531.4 1012.9L532.1 1014.6L532.7 1014.6L533.3 1015.3L533.9 1016.8L534.6 1017.9L535.2 1018.9L535.8 1018.8L536.5 1021.1L537.1 1021.1L537.7 1022.8L538.3 1022.1L539.0 1024.7L539.6 1024.8L540.2 1026.3L540.9 1027.0L541.5 1027.4L542.1 1026.6L542.7 1027.7L543.4 1028.1L544.0 1029.8L544.6 1029.2L545.3 1029.8L545.9 1030.1L546.5 1030.6L547.2 1032.7L547.8 1033.1L548.4 1032.3L549.0 1033.4L549.7 1033.1L550.3 1033.4L550.9 1033.3L551.6 1033.9L552.2 1033.1L552.8 1033.1L553.4 1033.6L554.1 1032.8L554.7 1033.1L555.3 1033.8L556.0 1031.6L556.6 1031.3L557.2 1032.3L557.8 1030.3L558.5 1030.1L559.1 1030.7L559.7 1029.6L560.4 1028.2L561.0 1027.2L561.6 1027.0L562.2 1026.4L562.9 1026.7L563.5 1026.4L564.1 1025.4L564.8 1025.0L565.4 1024.5L566.0 1023.9L566.6 1023.5L567.3 1023.1L567.9 1020.9L568.5 1021.0L569.2 1020.5L569.8 1020.9L570.4 1020.4L571.0 1019.8L571.7 1020.6L572.3 1019.5L572.9 1018.9L573.6 1018.8L574.2 1018.9L574.8 1019.0L575.4 1018.7L576.1 1018.1L576.7 1017.3L577.3 1017.3L578.0 1016.7L578.6 1015.9L579.2 1016.1L579.8 1014.8L580.5 1015.1L581.1 1014.1L581.7 1012.2L582.4 1012.1L583.0 1010.4L583.6 1009.3L584.3 1008.2L584.9 1007.0L585.5 1005.5L586.1 1003.3L586.8 1000.3L587.4 998.8L588.0 996.0L588.7 992.9L589.3 991.3L589.9 988.3L590.5 986.2L591.2 982.0L591.8 979.8L592.4 975.8L593.1 971.6L593.7 969.3L594.3 964.8L594.9 961.7L595.6 957.1L596.2 953.3L596.8 951.5L597.5 946.2L598.1 942.9L598.7 939.5L599.3 936.1L600.0 934.4L600.6 931.8L601.2 928.4L601.9 925.3L602.5 924.0L603.1 921.2L603.7 918.8L604.4 918.4L605.0 916.6L605.6 915.6L606.3 915.2L606.9 915.1L607.5 914.9L608.1 916.2L608.8 917.5L609.4 918.1L610.0 918.4L610.7 921.5L611.3 922.2L611.9 925.4L612.5 928.7L613.2 931.2L613.8 934.7L614.4 937.6L615.1 940.0L615.7 943.4L616.3 947.7L616.9 952.0L617.6 955.0L618.2 959.2L618.8 964.1L619.5 967.4L620.1 972.0L620.7 975.9L621.3 980.7L622.0 982.9L622.6 987.2L623.2 992.2L623.9 995.7L624.5 998.2L625.1 1001.8L625.8 1005.3L626.4 1009.3L627.0 1013.1L627.6 1014.7L628.3 1017.5L628.9 1021.1L629.5 1023.1L630.2 1026.4L630.8 1028.9L631.4 1030.8L632.0 1032.3L632.7 1033.7L633.3 1034.5L633.9 1037.6L634.6 1038.2L635.2 1039.6L635.8 1041.2L636.4 1042.9L637.1 1043.1L637.7 1044.8L638.3 1045.7L639.0 1044.8L639.6 1046.0L640.2 1047.7L640.8 1048.1L641.5 1049.1L642.1 1048.0L642.7 1049.2L643.4 1050.5L644.0 1050.1L644.6 1050.8L645.2 1051.8L645.9 1050.5L646.5 1050.6L647.1 1052.6L647.8 1052.4L648.4 1052.0L649.0 1053.5L649.6 1052.8L650.3 1052.8L650.9 1053.4L651.5 1053.2L652.2 1054.3L652.8 1055.4L653.4 1055.0L654.0 1056.4L654.7 1054.8L655.3 1055.4L655.9 1055.7L656.6 1056.8L657.2 1056.4L657.8 1057.6L658.4 1057.6L659.1 1058.0L659.7 1058.8L660.3 1059.0L661.0 1059.5L661.6 1058.2L662.2 1058.9L662.9 1060.3L663.5 1059.4L664.1 1059.4L664.7 1060.0L665.4 1059.6L666.0 1061.2L666.6 1060.9L667.3 1060.0L667.9 1061.9L668.5 1061.2L669.1 1060.8L669.8 1061.7L670.4 1062.5L671.0 1061.4L671.7 1060.8L672.3 1061.3L672.9 1061.1L673.5 1062.2L674.2 1061.8L674.8 1063.0L675.4 1061.8L676.1 1061.4L676.7 1062.4L677.3 1061.8L677.9 1062.2L678.6 1062.1L679.2 1062.0L679.8 1063.0L680.5 1063.6L681.1 1062.5L681.7 1063.1L682.3 1062.5L683.0 1063.7L683.6 1063.0L684.2 1061.9L684.9 1063.4L685.5 1062.3L686.1 1062.0L686.7 1062.0L687.4 1063.6L688.0 1063.4L688.6 1062.7L689.3 1063.1L689.9 1063.4L690.5 1062.1L691.1 1063.4L691.8 1063.4L692.4 1063.9L693.0 1062.1L693.7 1063.1L694.3 1063.0L694.9 1063.7L695.5 1062.7L696.2 1063.3L696.8 1063.8L697.4 1062.7L698.1 1063.0L698.7 1063.8L699.3 1062.1L699.9 1063.9L700.6 1062.6L701.2 1062.9L701.8 1062.6L702.5 1063.6L703.1 1063.1L703.7 1063.5L704.4 1062.2L705.0 1063.8L705.6 1063.6L706.2 1063.4L706.9 1062.4L707.5 1062.5L708.1 1062.9L708.8 1062.1L709.4 1063.9L710.0 1062.8L710.6 1063.9L711.3 1062.4L711.9 1063.3L712.5 1063.6L713.2 1063.3L713.8 1062.8L714.4 1062.0L715.0 1062.9L715.7 1062.8L716.3 1063.9L716.9 1063.9L717.6 1063.9L718.2 1064.0L718.8 1062.3L719.4 1062.1L720.1 1062.6L720.7 1062.0" fill="none" stroke="#2b5fa8" stroke-width="1.40" stroke-linejoin="round" stroke-dasharray="2 1.2"/>
<line x1="521" y1="969" x2="521" y2="1072" stroke="#333" stroke-width="1.3" stroke-dasharray="4 2.5"/>
<line x1="566.9" y1="968" x2="566.9" y2="1072" stroke="#333" stroke-width="1.3" stroke-dasharray="4 2.5"/>
<line x1="608.3" y1="879" x2="608.3" y2="955" stroke="#333" stroke-width="1.3" stroke-dasharray="4 2.5"/>
<text transform="translate(527.5,964.3) rotate(-90)" font-size="14.5" fill="#333" text-anchor="start" textLength="88.3" lengthAdjust="spacingAndGlyphs">Mo<tspan font-size="10.1" dy="3.2">2</tspan><tspan dy="-3.2">N (111)</tspan></text>
<text transform="translate(573.0,968.2) rotate(-90)" font-size="14.5" fill="#333" text-anchor="start" textLength="70.2" lengthAdjust="spacingAndGlyphs">Mo (110)</text>
<text transform="translate(635.5,955.2) rotate(-90)" font-size="14.5" fill="#333" text-anchor="start" textLength="88.4" lengthAdjust="spacingAndGlyphs">Mo<tspan font-size="10.1" dy="3.2">2</tspan><tspan dy="-3.2">N (200)</tspan></text>
<line x1="761.6" y1="1060.6" x2="1075.5" y2="1060.6" stroke="#ee88ee" stroke-width="2.4"/>
<line x1="834.4" y1="1060.6" x2="877.3" y2="1060.6" stroke="#c02020" stroke-width="2.6"/>
<line x1="922.9" y1="1060.6" x2="982.7" y2="1060.6" stroke="#1a1a9a" stroke-width="2.6"/>
<path d="M761.6 1064.7L762.2 1064.9L762.9 1065.5L763.5 1064.8L764.1 1064.8L764.7 1065.0L765.4 1064.3L766.0 1064.8L766.6 1065.0L767.3 1065.3L767.9 1064.2L768.5 1064.5L769.1 1064.1L769.8 1065.3L770.4 1065.1L771.0 1064.1L771.6 1065.6L772.3 1065.5L772.9 1065.0L773.5 1065.0L774.2 1064.2L774.8 1064.0L775.4 1064.8L776.0 1064.1L776.7 1064.3L777.3 1064.4L777.9 1064.0L778.6 1064.7L779.2 1064.7L779.8 1065.3L780.4 1064.8L781.1 1065.0L781.7 1064.7L782.3 1065.0L782.9 1064.7L783.6 1064.4L784.2 1065.5L784.8 1065.5L785.5 1065.3L786.1 1065.0L786.7 1064.4L787.3 1064.3L788.0 1064.4L788.6 1064.0L789.2 1065.1L789.9 1064.5L790.5 1065.2L791.1 1064.5L791.7 1065.4L792.4 1065.2L793.0 1063.8L793.6 1064.2L794.2 1065.3L794.9 1064.6L795.5 1065.4L796.1 1064.4L796.8 1063.9L797.4 1064.8L798.0 1065.0L798.6 1064.2L799.3 1063.9L799.9 1064.3L800.5 1065.3L801.2 1065.0L801.8 1063.9L802.4 1064.1L803.0 1063.9L803.7 1063.8L804.3 1065.0L804.9 1064.0L805.5 1064.6L806.2 1064.4L806.8 1063.9L807.4 1064.8L808.1 1063.8L808.7 1064.6L809.3 1063.8L809.9 1064.2L810.6 1063.9L811.2 1063.9L811.8 1065.1L812.5 1064.8L813.1 1063.9L813.7 1064.9L814.3 1063.8L815.0 1064.0L815.6 1064.7L816.2 1064.4L816.8 1063.5L817.5 1064.9L818.1 1063.6L818.7 1063.6L819.4 1064.4L820.0 1063.7L820.6 1063.6L821.2 1063.2L821.9 1063.2L822.5 1063.9L823.1 1063.3L823.8 1063.9L824.4 1063.5L825.0 1063.5L825.6 1064.3L826.3 1063.5L826.9 1063.6L827.5 1064.0L828.1 1062.8L828.8 1062.7L829.4 1063.8L830.0 1063.6L830.7 1062.6L831.3 1062.4L831.9 1063.1L832.5 1063.3L833.2 1062.0L833.8 1063.0L834.4 1062.7L835.1 1062.1L835.7 1061.6L836.3 1060.8L836.9 1060.4L837.6 1061.5L838.2 1059.9L838.8 1060.1L839.4 1058.8L840.1 1059.0L840.7 1057.7L841.3 1056.3L842.0 1054.9L842.6 1054.5L843.2 1051.9L843.8 1050.4L844.5 1048.9L845.1 1047.1L845.7 1044.3L846.4 1041.0L847.0 1039.1L847.6 1034.7L848.2 1031.0L848.9 1027.9L849.5 1024.5L850.1 1020.1L850.7 1016.5L851.4 1013.1L852.0 1009.9L852.6 1006.0L853.3 1003.5L853.9 1001.9L854.5 1000.2L855.1 998.6L855.8 998.2L856.4 998.3L857.0 998.7L857.7 1000.2L858.3 1002.5L858.9 1006.7L859.5 1009.5L860.2 1013.3L860.8 1015.4L861.4 1020.1L862.0 1023.5L862.7 1027.4L863.3 1030.2L863.9 1034.6L864.6 1036.2L865.2 1039.8L865.8 1042.8L866.4 1045.4L867.1 1047.2L867.7 1049.1L868.3 1050.8L869.0 1052.5L869.6 1052.8L870.2 1054.4L870.8 1055.6L871.5 1056.3L872.1 1056.1L872.7 1057.2L873.3 1057.7L874.0 1057.6L874.6 1057.9L875.2 1057.7L875.9 1058.2L876.5 1058.3L877.1 1057.6L877.7 1058.5L878.4 1059.1L879.0 1058.9L879.6 1058.7L880.3 1058.1L880.9 1058.7L881.5 1058.4L882.1 1058.1L882.8 1058.7L883.4 1057.5L884.0 1058.5L884.6 1057.3L885.3 1058.1L885.9 1057.9L886.5 1057.4L887.2 1058.1L887.8 1057.7L888.4 1057.8L889.0 1058.3L889.7 1057.1L890.3 1056.7L890.9 1057.1L891.6 1057.6L892.2 1056.8L892.8 1056.7L893.4 1057.8L894.1 1057.3L894.7 1056.9L895.3 1057.6L895.9 1056.6L896.6 1057.1L897.2 1056.3L897.8 1056.6L898.5 1057.2L899.1 1057.3L899.7 1057.2L900.3 1056.4L901.0 1056.6L901.6 1056.2L902.2 1055.9L902.9 1056.4L903.5 1056.9L904.1 1056.9L904.7 1056.7L905.4 1057.0L906.0 1055.9L906.6 1055.7L907.2 1056.2L907.9 1055.8L908.5 1055.7L909.1 1056.0L909.8 1056.3L910.4 1056.1L911.0 1055.8L911.6 1056.6L912.3 1056.8L912.9 1055.9L913.5 1055.2L914.2 1055.1L914.8 1056.3L915.4 1054.9L916.0 1055.8L916.7 1055.5L917.3 1054.9L917.9 1055.5L918.5 1054.0L919.2 1054.0L919.8 1054.2L920.4 1053.2L921.1 1054.1L921.7 1052.8L922.3 1052.2L922.9 1051.6L923.6 1052.1L924.2 1051.2L924.8 1050.9L925.5 1050.3L926.1 1049.9L926.7 1049.4L927.3 1048.2L928.0 1046.7L928.6 1046.2L929.2 1044.8L929.9 1043.6L930.5 1043.2L931.1 1042.4L931.7 1040.3L932.4 1039.0L933.0 1037.6L933.6 1036.5L934.2 1034.3L934.9 1032.3L935.5 1030.2L936.1 1027.0L936.8 1024.7L937.4 1021.6L938.0 1016.7L938.6 1014.0L939.3 1009.3L939.9 1003.5L940.5 998.8L941.2 993.4L941.8 987.7L942.4 980.4L943.0 973.8L943.7 967.1L944.3 959.4L944.9 951.9L945.5 943.2L946.2 935.5L946.8 926.9L947.4 919.9L948.1 912.5L948.7 905.1L949.3 898.7L949.9 892.0L950.6 888.1L951.2 884.1L951.8 881.2L952.5 878.7L953.1 878.6L953.7 878.6L954.3 881.6L955.0 884.8L955.6 888.3L956.2 893.2L956.8 900.0L957.5 907.1L958.1 914.9L958.7 922.4L959.4 929.9L960.0 939.5L960.6 946.7L961.2 956.3L961.9 963.5L962.5 971.8L963.1 980.3L963.8 986.7L964.4 993.7L965.0 1000.9L965.6 1007.4L966.3 1013.3L966.9 1018.4L967.5 1023.6L968.1 1027.3L968.8 1032.0L969.4 1034.2L970.0 1037.5L970.7 1040.8L971.3 1042.9L971.9 1045.7L972.5 1047.4L973.2 1048.8L973.8 1050.6L974.4 1051.3L975.1 1051.8L975.7 1052.6L976.3 1053.9L976.9 1054.4L977.6 1053.6L978.2 1054.8L978.8 1055.0L979.4 1054.3L980.1 1054.3L980.7 1053.5L981.3 1053.8L982.0 1053.5L982.6 1053.3L983.2 1052.0L983.8 1053.2L984.5 1052.1L985.1 1051.5L985.7 1051.8L986.4 1051.1L987.0 1050.7L987.6 1050.8L988.2 1049.6L988.9 1050.2L989.5 1050.0L990.1 1050.8L990.7 1050.9L991.4 1050.0L992.0 1050.5L992.6 1050.2L993.3 1051.1L993.9 1052.1L994.5 1052.7L995.1 1052.5L995.8 1052.8L996.4 1053.2L997.0 1054.5L997.7 1055.6L998.3 1055.0L998.9 1056.7L999.5 1056.1L1000.2 1057.0L1000.8 1057.7L1001.4 1059.0L1002.0 1059.0L1002.7 1059.5L1003.3 1060.5L1003.9 1060.1L1004.6 1061.5L1005.2 1060.9L1005.8 1061.9L1006.4 1061.8L1007.1 1062.0L1007.7 1062.8L1008.3 1062.9L1009.0 1063.0L1009.6 1063.2L1010.2 1063.5L1010.8 1063.1L1011.5 1063.3L1012.1 1064.1L1012.7 1064.2L1013.3 1064.1L1014.0 1064.6L1014.6 1064.3L1015.2 1064.8L1015.9 1063.8L1016.5 1064.7L1017.1 1064.8L1017.7 1065.0L1018.4 1064.1L1019.0 1064.1L1019.6 1065.1L1020.3 1064.0L1020.9 1065.3L1021.5 1065.1L1022.1 1063.9L1022.8 1064.1L1023.4 1064.9L1024.0 1064.2L1024.6 1064.0L1025.3 1065.2L1025.9 1064.5L1026.5 1065.1L1027.2 1064.1L1027.8 1064.5L1028.4 1065.0L1029.0 1064.0L1029.7 1064.3L1030.3 1065.0L1030.9 1065.4L1031.6 1065.5L1032.2 1064.2L1032.8 1064.8L1033.4 1065.2L1034.1 1064.8L1034.7 1065.1L1035.3 1064.4L1035.9 1064.2L1036.6 1064.3L1037.2 1064.2L1037.8 1065.0L1038.5 1064.9L1039.1 1065.0L1039.7 1064.4L1040.3 1064.4L1041.0 1064.5L1041.6 1065.5L1042.2 1065.8L1042.9 1065.7L1043.5 1064.4L1044.1 1064.3L1044.7 1065.7L1045.4 1065.0L1046.0 1065.5L1046.6 1064.8L1047.2 1065.0L1047.9 1065.1L1048.5 1065.0L1049.1 1065.2L1049.8 1064.3L1050.4 1065.4L1051.0 1065.7L1051.6 1064.6L1052.3 1065.1L1052.9 1065.5L1053.5 1065.0L1054.2 1064.7L1054.8 1064.6L1055.4 1065.2L1056.0 1064.4L1056.7 1065.8L1057.3 1065.7L1057.9 1065.5L1058.5 1065.8L1059.2 1065.4L1059.8 1065.1L1060.4 1065.4L1061.1 1065.2L1061.7 1066.0L1062.3 1065.7L1062.9 1064.9L1063.6 1065.9L1064.2 1065.6L1064.8 1065.7L1065.5 1065.8L1066.1 1065.1L1066.7 1065.9L1067.3 1065.9L1068.0 1065.6L1068.6 1065.7L1069.2 1065.7L1069.8 1065.1L1070.5 1065.7L1071.1 1064.6L1071.7 1065.1L1072.4 1065.3L1073.0 1064.5L1073.6 1065.1L1074.2 1065.6L1074.9 1065.5L1075.5 1064.9" fill="none" stroke="#6c6c8c" stroke-width="1.20" stroke-linejoin="round" />
<path d="M829.1 1060.5L829.4 1060.5L829.6 1060.4L829.9 1060.4L830.2 1060.4L830.4 1060.4L830.7 1060.3L831.0 1060.3L831.2 1060.3L831.5 1060.2L831.8 1060.2L832.0 1060.1L832.3 1060.1L832.6 1060.0L832.8 1059.9L833.1 1059.9L833.4 1059.8L833.6 1059.7L833.9 1059.6L834.2 1059.5L834.4 1059.4L834.7 1059.3L835.0 1059.1L835.2 1059.0L835.5 1058.8L835.8 1058.6L836.0 1058.4L836.3 1058.2L836.6 1058.0L836.8 1057.7L837.1 1057.5L837.4 1057.2L837.6 1056.9L837.9 1056.6L838.2 1056.2L838.4 1055.8L838.7 1055.4L839.0 1055.0L839.2 1054.5L839.5 1054.0L839.8 1053.5L840.0 1053.0L840.3 1052.4L840.6 1051.8L840.8 1051.1L841.1 1050.5L841.4 1049.7L841.6 1049.0L841.9 1048.2L842.2 1047.4L842.4 1046.5L842.7 1045.6L843.0 1044.7L843.2 1043.7L843.5 1042.7L843.8 1041.6L844.0 1040.5L844.3 1039.4L844.6 1038.2L844.8 1037.0L845.1 1035.8L845.4 1034.6L845.6 1033.3L845.9 1032.0L846.2 1030.6L846.4 1029.2L846.7 1027.9L847.0 1026.5L847.2 1025.0L847.5 1023.6L847.8 1022.2L848.0 1020.7L848.3 1019.3L848.6 1017.8L848.8 1016.4L849.1 1014.9L849.4 1013.5L849.6 1012.1L849.9 1010.7L850.2 1009.3L850.4 1008.0L850.7 1006.7L851.0 1005.4L851.2 1004.2L851.5 1003.0L851.8 1001.9L852.0 1000.8L852.3 999.8L852.6 998.8L852.8 997.9L853.1 997.1L853.4 996.3L853.6 995.7L853.9 995.0L854.2 994.5L854.4 994.1L854.7 993.7L855.0 993.4L855.2 993.2L855.5 993.0L855.8 993.0L856.0 993.0L856.3 993.2L856.6 993.4L856.8 993.7L857.1 994.1L857.4 994.5L857.6 995.0L857.9 995.7L858.2 996.3L858.4 997.1L858.7 997.9L859.0 998.8L859.2 999.8L859.5 1000.8L859.8 1001.9L860.0 1003.0L860.3 1004.2L860.6 1005.4L860.8 1006.7L861.1 1008.0L861.4 1009.3L861.6 1010.7L861.9 1012.1L862.2 1013.5L862.4 1014.9L862.7 1016.4L863.0 1017.8L863.2 1019.3L863.5 1020.7L863.8 1022.2L864.0 1023.6L864.3 1025.0L864.6 1026.5L864.8 1027.9L865.1 1029.2L865.4 1030.6L865.6 1032.0L865.9 1033.3L866.2 1034.6L866.4 1035.8L866.7 1037.0L867.0 1038.2L867.2 1039.4L867.5 1040.5L867.8 1041.6L868.0 1042.7L868.3 1043.7L868.6 1044.7L868.8 1045.6L869.1 1046.5L869.4 1047.4L869.6 1048.2L869.9 1049.0L870.2 1049.7L870.4 1050.5L870.7 1051.1L871.0 1051.8L871.2 1052.4L871.5 1053.0L871.8 1053.5L872.0 1054.0L872.3 1054.5L872.6 1055.0L872.8 1055.4L873.1 1055.8L873.4 1056.2L873.6 1056.6L873.9 1056.9L874.2 1057.2L874.4 1057.5L874.7 1057.7L875.0 1058.0L875.2 1058.2L875.5 1058.4L875.8 1058.6L876.0 1058.8L876.3 1059.0L876.6 1059.1L876.8 1059.3L877.1 1059.4L877.4 1059.5L877.6 1059.6L877.9 1059.7L878.2 1059.8L878.4 1059.9L878.7 1059.9L879.0 1060.0L879.2 1060.1L879.5 1060.1L879.8 1060.2L880.1 1060.2L880.3 1060.3L880.6 1060.3L880.9 1060.3L881.1 1060.4L881.4 1060.4L881.7 1060.4L881.9 1060.4L882.2 1060.5L882.5 1060.5" fill="none" stroke="#e070e0" stroke-width="2.40" stroke-linejoin="round" />
<path d="M915.4 1060.4L915.8 1060.4L916.2 1060.4L916.5 1060.4L916.9 1060.3L917.3 1060.3L917.7 1060.2L918.0 1060.2L918.4 1060.1L918.8 1060.1L919.2 1060.0L919.6 1059.9L919.9 1059.8L920.3 1059.7L920.7 1059.6L921.1 1059.5L921.4 1059.4L921.8 1059.2L922.2 1059.0L922.6 1058.9L922.9 1058.6L923.3 1058.4L923.7 1058.2L924.1 1057.9L924.5 1057.6L924.8 1057.2L925.2 1056.9L925.6 1056.5L926.0 1056.0L926.3 1055.5L926.7 1055.0L927.1 1054.4L927.5 1053.8L927.8 1053.1L928.2 1052.4L928.6 1051.6L929.0 1050.7L929.3 1049.8L929.7 1048.8L930.1 1047.8L930.5 1046.6L930.9 1045.4L931.2 1044.1L931.6 1042.7L932.0 1041.2L932.4 1039.7L932.7 1038.0L933.1 1036.2L933.5 1034.4L933.9 1032.4L934.2 1030.3L934.6 1028.1L935.0 1025.8L935.4 1023.4L935.8 1020.9L936.1 1018.3L936.5 1015.6L936.9 1012.7L937.3 1009.8L937.6 1006.7L938.0 1003.6L938.4 1000.3L938.8 997.0L939.1 993.5L939.5 990.0L939.9 986.4L940.3 982.7L940.6 978.9L941.0 975.1L941.4 971.3L941.8 967.3L942.2 963.4L942.5 959.4L942.9 955.4L943.3 951.4L943.7 947.4L944.0 943.5L944.4 939.5L944.8 935.7L945.2 931.8L945.5 928.1L945.9 924.4L946.3 920.8L946.7 917.3L947.1 913.9L947.4 910.7L947.8 907.6L948.2 904.7L948.6 901.9L948.9 899.3L949.3 896.9L949.7 894.7L950.1 892.7L950.4 890.9L950.8 889.4L951.2 888.1L951.6 887.0L951.9 886.1L952.3 885.5L952.7 885.1L953.1 885.0L953.5 885.1L953.8 885.5L954.2 886.1L954.6 887.0L955.0 888.1L955.3 889.4L955.7 890.9L956.1 892.7L956.5 894.7L956.8 896.9L957.2 899.3L957.6 901.9L958.0 904.7L958.4 907.6L958.7 910.7L959.1 913.9L959.5 917.3L959.9 920.8L960.2 924.4L960.6 928.1L961.0 931.8L961.4 935.7L961.7 939.5L962.1 943.5L962.5 947.4L962.9 951.4L963.2 955.4L963.6 959.4L964.0 963.4L964.4 967.3L964.8 971.3L965.1 975.1L965.5 978.9L965.9 982.7L966.3 986.4L966.6 990.0L967.0 993.5L967.4 997.0L967.8 1000.3L968.1 1003.6L968.5 1006.7L968.9 1009.8L969.3 1012.7L969.7 1015.6L970.0 1018.3L970.4 1020.9L970.8 1023.4L971.2 1025.8L971.5 1028.1L971.9 1030.3L972.3 1032.4L972.7 1034.4L973.0 1036.2L973.4 1038.0L973.8 1039.7L974.2 1041.2L974.5 1042.7L974.9 1044.1L975.3 1045.4L975.7 1046.6L976.1 1047.8L976.4 1048.8L976.8 1049.8L977.2 1050.7L977.6 1051.6L977.9 1052.4L978.3 1053.1L978.7 1053.8L979.1 1054.4L979.4 1055.0L979.8 1055.5L980.2 1056.0L980.6 1056.5L981.0 1056.9L981.3 1057.2L981.7 1057.6L982.1 1057.9L982.5 1058.2L982.8 1058.4L983.2 1058.6L983.6 1058.9L984.0 1059.0L984.3 1059.2L984.7 1059.4L985.1 1059.5L985.5 1059.6L985.9 1059.7L986.2 1059.8L986.6 1059.9L987.0 1060.0L987.4 1060.1L987.7 1060.1L988.1 1060.2L988.5 1060.2L988.9 1060.3L989.2 1060.3L989.6 1060.4L990.0 1060.4L990.4 1060.4L990.7 1060.4" fill="none" stroke="#e070e0" stroke-width="2.40" stroke-linejoin="round" />
<line x1="855.8" y1="978.6" x2="855.8" y2="1082.7" stroke="#333" stroke-width="1.3" stroke-dasharray="4 2.5"/>
<line x1="954" y1="855" x2="954" y2="981" stroke="#333" stroke-width="1.3" stroke-dasharray="4 2.5"/>
<circle cx="990.5" cy="1035.3" r="4.6" fill="#000"/>
<text transform="translate(861.5,977.3) rotate(-90)" font-size="14.5" fill="#333" text-anchor="start" textLength="88.3" lengthAdjust="spacingAndGlyphs">Mo<tspan font-size="10.1" dy="3.2">2</tspan><tspan dy="-3.2">N (111)</tspan></text>
<text transform="translate(977.5,931.8) rotate(-90)" font-size="14.5" fill="#333" text-anchor="start" textLength="88.4" lengthAdjust="spacingAndGlyphs">Mo<tspan font-size="10.1" dy="3.2">2</tspan><tspan dy="-3.2">N (200)</tspan></text>
<text transform="translate(996.0,1024.0) rotate(-90)" font-size="14.5" fill="#333" text-anchor="start" textLength="84.4" lengthAdjust="spacingAndGlyphs">Cr<tspan font-size="10.1" dy="3.2">2</tspan><tspan dy="-3.2">N (111)</tspan></text>
<path d="M1117.3 1069.7L1118.1 1069.7L1118.9 1069.7L1119.7 1069.7L1120.4 1069.7L1121.2 1069.7L1122.0 1069.7L1122.8 1069.7L1123.6 1069.7L1124.4 1069.7L1125.2 1069.7L1126.0 1069.7L1126.7 1069.7L1127.5 1069.7L1128.3 1069.7L1129.1 1069.7L1129.9 1069.7L1130.7 1069.7L1131.5 1069.7L1132.3 1069.7L1133.0 1069.7L1133.8 1069.7L1134.6 1069.7L1135.4 1069.7L1136.2 1069.7L1137.0 1069.7L1137.8 1069.7L1138.6 1069.7L1139.3 1069.7L1140.1 1069.7L1140.9 1069.7L1141.7 1069.7L1142.5 1069.7L1143.3 1069.7L1144.1 1069.8L1144.9 1069.8L1145.6 1069.8L1146.4 1069.8L1147.2 1069.8L1148.0 1069.8L1148.8 1069.8L1149.6 1069.8L1150.4 1069.8L1151.2 1069.8L1151.9 1069.8L1152.7 1069.8L1153.5 1069.8L1154.3 1069.8L1155.1 1069.8L1155.9 1069.8L1156.7 1069.8L1157.4 1069.8L1158.2 1069.8L1159.0 1069.8L1159.8 1069.8L1160.6 1069.8L1161.4 1069.8L1162.2 1069.8L1163.0 1069.8L1163.7 1069.8L1164.5 1069.8L1165.3 1069.8L1166.1 1069.8L1166.9 1069.8L1167.7 1069.8L1168.5 1069.8L1169.3 1069.8L1170.0 1069.8L1170.8 1069.8L1171.6 1069.8L1172.4 1069.8L1173.2 1069.8L1174.0 1069.8L1174.8 1069.8L1175.6 1069.8L1176.3 1069.8L1177.1 1069.8L1177.9 1069.8L1178.7 1069.8L1179.5 1069.8L1180.3 1069.8L1181.1 1069.8L1181.9 1069.8L1182.6 1069.8L1183.4 1069.8L1184.2 1069.8L1185.0 1069.8L1185.8 1069.8L1186.6 1069.8L1187.4 1069.8L1188.2 1069.8L1188.9 1069.8L1189.7 1069.8L1190.5 1069.8L1191.3 1069.8L1192.1 1069.7L1192.9 1069.7L1193.7 1069.7L1194.5 1069.6L1195.2 1069.6L1196.0 1069.6L1196.8 1069.5L1197.6 1069.4L1198.4 1069.4L1199.2 1069.3L1200.0 1069.2L1200.7 1069.1L1201.5 1069.0L1202.3 1069.0L1203.1 1068.9L1203.9 1068.8L1204.7 1068.7L1205.5 1068.6L1206.3 1068.5L1207.0 1068.5L1207.8 1068.4L1208.6 1068.4L1209.4 1068.4L1210.2 1068.4L1211.0 1068.4L1211.8 1068.4L1212.6 1068.4L1213.3 1068.5L1214.1 1068.6L1214.9 1068.6L1215.7 1068.7L1216.5 1068.8L1217.3 1068.9L1218.1 1069.0L1218.9 1069.1L1219.6 1069.2L1220.4 1069.3L1221.2 1069.3L1222.0 1069.4L1222.8 1069.5L1223.6 1069.5L1224.4 1069.6L1225.2 1069.7L1225.9 1069.7L1226.7 1069.7L1227.5 1069.8L1228.3 1069.8L1229.1 1069.8L1229.9 1069.8L1230.7 1069.9L1231.5 1069.9L1232.2 1069.9L1233.0 1069.9L1233.8 1069.9L1234.6 1069.9L1235.4 1069.9L1236.2 1069.9L1237.0 1069.9L1237.7 1069.9L1238.5 1069.9L1239.3 1069.9L1240.1 1069.9L1240.9 1069.9L1241.7 1069.9L1242.5 1069.9L1243.3 1069.9L1244.0 1069.9L1244.8 1069.9L1245.6 1069.9L1246.4 1069.9L1247.2 1069.9L1248.0 1069.9L1248.8 1070.0L1249.6 1070.0L1250.3 1070.0L1251.1 1070.0L1251.9 1070.0L1252.7 1070.0L1253.5 1070.0L1254.3 1070.0L1255.1 1070.0L1255.9 1070.0L1256.6 1070.0L1257.4 1070.0L1258.2 1070.0L1259.0 1070.0L1259.8 1070.0L1260.6 1070.0L1261.4 1070.0L1262.2 1070.0L1262.9 1070.0L1263.7 1070.0L1264.5 1070.0L1265.3 1070.0L1266.1 1070.0L1266.9 1070.0L1267.7 1070.0L1268.5 1070.0L1269.2 1070.0L1270.0 1070.0L1270.8 1070.0L1271.6 1070.0L1272.4 1070.0L1273.2 1070.0L1274.0 1070.0L1274.8 1070.0L1275.5 1070.0L1276.3 1070.0L1277.1 1070.0L1277.9 1070.0L1278.7 1070.0L1279.5 1070.0L1280.3 1070.0L1281.0 1070.0L1281.8 1070.0L1282.6 1070.0L1283.4 1070.0L1284.2 1070.0L1285.0 1070.0L1285.8 1070.0L1286.6 1070.0L1287.3 1070.0L1288.1 1070.0L1288.9 1070.0L1289.7 1070.0L1290.5 1070.0L1291.3 1070.0L1292.1 1070.0L1292.9 1070.0L1293.6 1070.0L1294.4 1070.0L1295.2 1070.0L1296.0 1070.0L1296.8 1070.0L1297.6 1070.0L1298.4 1070.0L1299.2 1070.0L1299.9 1070.0L1300.7 1070.0L1301.5 1070.1L1302.3 1070.1L1303.1 1070.1L1303.9 1070.1L1304.7 1070.1L1305.5 1070.1L1306.2 1070.1L1307.0 1070.1L1307.8 1070.1L1308.6 1070.1L1309.4 1070.1L1310.2 1070.1L1311.0 1070.1L1311.8 1070.1L1312.5 1070.1L1313.3 1070.1L1314.1 1070.1L1314.9 1070.1L1315.7 1070.1L1316.5 1070.1L1317.3 1070.1L1318.0 1070.1L1318.8 1070.1L1319.6 1070.1L1320.4 1070.1L1321.2 1070.1L1322.0 1070.1L1322.8 1070.1L1323.6 1070.1L1324.3 1070.1L1325.1 1070.1L1325.9 1070.1L1326.7 1070.1L1327.5 1070.1L1328.3 1070.1L1329.1 1070.1L1329.9 1070.1L1330.6 1070.1L1331.4 1070.1L1332.2 1070.1L1333.0 1070.1L1333.8 1070.1L1334.6 1070.1L1335.4 1070.1L1336.2 1070.1L1336.9 1070.1L1337.7 1070.1L1338.5 1070.1L1339.3 1070.1L1340.1 1070.1L1340.9 1070.1L1341.7 1070.1L1342.5 1070.1L1343.2 1070.1L1344.0 1070.1L1344.8 1070.1L1345.6 1070.1L1346.4 1070.1L1347.2 1070.1L1348.0 1070.1L1348.8 1070.1L1349.5 1070.1L1350.3 1070.1L1351.1 1070.1L1351.9 1070.1L1352.7 1070.1L1353.5 1070.2L1354.3 1070.2L1355.0 1070.2L1355.8 1070.2L1356.6 1070.2L1357.4 1070.2L1358.2 1070.2L1359.0 1070.2L1359.8 1070.2L1360.6 1070.2L1361.3 1070.2L1362.1 1070.2L1362.9 1070.2L1363.7 1070.2L1364.5 1070.2L1365.3 1070.2L1366.1 1070.2L1366.9 1070.2L1367.6 1070.2L1368.4 1070.2L1369.2 1070.2L1370.0 1070.2L1370.8 1070.2L1371.6 1070.2L1372.4 1070.2L1373.2 1070.2L1373.9 1070.2L1374.7 1070.2L1375.5 1070.2L1376.3 1070.2L1377.1 1070.2L1377.9 1070.2L1378.7 1070.2L1379.5 1070.2L1380.2 1070.2L1381.0 1070.2L1381.8 1070.2L1382.6 1070.2L1383.4 1070.2L1384.2 1070.2L1385.0 1070.2L1385.8 1070.2L1386.5 1070.2L1387.3 1070.2L1388.1 1070.2L1388.9 1070.2L1389.7 1070.2L1390.5 1070.2L1391.3 1070.2L1392.1 1070.2L1392.8 1070.2L1393.6 1070.2L1394.4 1070.2L1395.2 1070.2L1396.0 1070.2L1396.8 1070.2L1397.6 1070.2L1398.3 1070.2L1399.1 1070.2L1399.9 1070.2L1400.7 1070.2L1401.5 1070.2L1402.3 1070.2L1403.1 1070.2L1403.9 1070.2L1404.6 1070.2L1405.4 1070.2L1406.2 1070.3L1407.0 1070.3L1407.8 1070.3L1408.6 1070.3L1409.4 1070.3L1410.2 1070.3L1410.9 1070.3L1411.7 1070.3L1412.5 1070.3L1413.3 1070.3L1414.1 1070.3L1414.9 1070.3L1415.7 1070.3L1416.5 1070.3L1417.2 1070.3L1418.0 1070.3L1418.8 1070.3L1419.6 1070.3L1420.4 1070.3L1421.2 1070.3L1422.0 1070.3L1422.8 1070.3L1423.5 1070.3L1424.3 1070.3L1425.1 1070.3L1425.9 1070.3L1426.7 1070.3L1427.5 1070.3L1428.3 1070.3L1429.1 1070.3L1429.8 1070.3L1430.6 1070.3L1431.4 1070.3L1432.2 1070.3" fill="none" stroke="#aee8e8" stroke-width="2.40" stroke-linejoin="round" />
<path d="M1117.3 1070.0L1118.1 1070.0L1118.9 1069.7L1119.7 1069.5L1120.4 1069.2L1121.2 1069.9L1122.0 1069.7L1122.8 1070.0L1123.6 1069.6L1124.4 1070.0L1125.2 1069.5L1126.0 1070.0L1126.7 1069.9L1127.5 1069.6L1128.3 1069.8L1129.1 1069.9L1129.9 1069.4L1130.7 1069.8L1131.5 1070.0L1132.3 1069.5L1133.0 1070.0L1133.8 1069.9L1134.6 1070.1L1135.4 1069.6L1136.2 1069.3L1137.0 1070.0L1137.8 1070.0L1138.6 1069.7L1139.3 1069.3L1140.1 1069.4L1140.9 1069.9L1141.7 1069.5L1142.5 1070.2L1143.3 1069.8L1144.1 1069.5L1144.9 1069.9L1145.6 1069.6L1146.4 1070.2L1147.2 1070.2L1148.0 1069.8L1148.8 1069.9L1149.6 1070.0L1150.4 1070.1L1151.2 1070.2L1151.9 1069.3L1152.7 1069.6L1153.5 1069.9L1154.3 1069.6L1155.1 1069.9L1155.9 1069.4L1156.7 1070.2L1157.4 1069.8L1158.2 1069.4L1159.0 1069.9L1159.8 1069.6L1160.6 1069.5L1161.4 1069.8L1162.2 1069.4L1163.0 1069.5L1163.7 1070.2L1164.5 1070.0L1165.3 1069.3L1166.1 1070.1L1166.9 1069.3L1167.7 1069.6L1168.5 1070.2L1169.3 1069.9L1170.0 1069.6L1170.8 1069.7L1171.6 1069.7L1172.4 1069.4L1173.2 1070.3L1174.0 1069.4L1174.8 1069.7L1175.6 1070.1L1176.3 1069.7L1177.1 1070.3L1177.9 1069.6L1178.7 1070.3L1179.5 1070.2L1180.3 1070.0L1181.1 1070.2L1181.9 1069.8L1182.6 1070.2L1183.4 1070.1L1184.2 1069.8L1185.0 1069.8L1185.8 1070.0L1186.6 1069.7L1187.4 1069.4L1188.2 1070.1L1188.9 1069.6L1189.7 1069.8L1190.5 1070.1L1191.3 1069.4L1192.1 1069.3L1192.9 1069.3L1193.7 1069.8L1194.5 1069.5L1195.2 1069.4L1196.0 1069.5L1196.8 1069.9L1197.6 1069.2L1198.4 1069.3L1199.2 1069.7L1200.0 1069.3L1200.7 1068.9L1201.5 1069.0L1202.3 1068.9L1203.1 1068.5L1203.9 1068.7L1204.7 1068.5L1205.5 1068.9L1206.3 1068.4L1207.0 1068.6L1207.8 1068.9L1208.6 1068.8L1209.4 1068.3L1210.2 1068.5L1211.0 1068.2L1211.8 1068.3L1212.6 1068.4L1213.3 1068.8L1214.1 1069.0L1214.9 1068.4L1215.7 1068.2L1216.5 1068.7L1217.3 1068.4L1218.1 1068.5L1218.9 1069.3L1219.6 1068.8L1220.4 1069.5L1221.2 1069.2L1222.0 1069.9L1222.8 1069.8L1223.6 1069.1L1224.4 1069.3L1225.2 1070.1L1225.9 1069.8L1226.7 1069.7L1227.5 1070.1L1228.3 1070.1L1229.1 1069.8L1229.9 1069.8L1230.7 1069.5L1231.5 1069.7L1232.2 1069.5L1233.0 1070.0L1233.8 1070.0L1234.6 1069.6L1235.4 1070.0L1236.2 1069.5L1237.0 1069.5L1237.7 1070.1L1238.5 1069.9L1239.3 1070.3L1240.1 1070.1L1240.9 1070.1L1241.7 1069.6L1242.5 1070.3L1243.3 1069.5L1244.0 1070.1L1244.8 1070.4L1245.6 1070.4L1246.4 1070.3L1247.2 1069.9L1248.0 1070.1L1248.8 1070.2L1249.6 1069.6L1250.3 1070.4L1251.1 1070.4L1251.9 1069.9L1252.7 1070.2L1253.5 1069.9L1254.3 1069.7L1255.1 1070.2L1255.9 1069.5L1256.6 1070.3L1257.4 1070.4L1258.2 1069.8L1259.0 1070.4L1259.8 1069.6L1260.6 1070.3L1261.4 1069.8L1262.2 1070.4L1262.9 1069.9L1263.7 1070.4L1264.5 1069.5L1265.3 1069.6L1266.1 1070.3L1266.9 1070.1L1267.7 1070.0L1268.5 1069.5L1269.2 1069.7L1270.0 1069.9L1270.8 1069.5L1271.6 1070.5L1272.4 1070.3L1273.2 1070.4L1274.0 1070.2L1274.8 1069.8L1275.5 1069.6L1276.3 1070.2L1277.1 1069.6L1277.9 1070.1L1278.7 1070.0L1279.5 1070.0L1280.3 1069.6L1281.0 1069.6L1281.8 1070.0L1282.6 1069.5L1283.4 1070.0L1284.2 1069.7L1285.0 1069.8L1285.8 1069.7L1286.6 1070.1L1287.3 1069.9L1288.1 1069.7L1288.9 1069.7L1289.7 1070.1L1290.5 1070.4L1291.3 1070.0L1292.1 1069.7L1292.9 1069.9L1293.6 1069.8L1294.4 1070.1L1295.2 1070.3L1296.0 1070.1L1296.8 1069.7L1297.6 1069.9L1298.4 1069.9L1299.2 1070.0L1299.9 1069.9L1300.7 1070.5L1301.5 1070.1L1302.3 1070.2L1303.1 1070.3L1303.9 1070.2L1304.7 1070.4L1305.5 1069.9L1306.2 1070.2L1307.0 1070.5L1307.8 1069.7L1308.6 1070.2L1309.4 1070.0L1310.2 1069.6L1311.0 1069.6L1311.8 1070.3L1312.5 1069.7L1313.3 1070.3L1314.1 1069.7L1314.9 1069.9L1315.7 1069.6L1316.5 1070.1L1317.3 1070.4L1318.0 1069.8L1318.8 1070.1L1319.6 1070.5L1320.4 1069.9L1321.2 1070.1L1322.0 1070.3L1322.8 1070.5L1323.6 1069.8L1324.3 1070.3L1325.1 1069.7L1325.9 1069.7L1326.7 1070.6L1327.5 1069.7L1328.3 1070.5L1329.1 1070.4L1329.9 1070.3L1330.6 1070.3L1331.4 1070.3L1332.2 1069.9L1333.0 1070.1L1333.8 1069.8L1334.6 1070.5L1335.4 1070.4L1336.2 1070.4L1336.9 1069.8L1337.7 1070.2L1338.5 1069.9L1339.3 1070.4L1340.1 1070.4L1340.9 1070.6L1341.7 1070.3L1342.5 1070.3L1343.2 1070.4L1344.0 1069.7L1344.8 1070.2L1345.6 1069.7L1346.4 1070.0L1347.2 1069.8L1348.0 1070.6L1348.8 1069.7L1349.5 1070.6L1350.3 1070.6L1351.1 1070.1L1351.9 1070.5L1352.7 1069.7L1353.5 1069.8L1354.3 1069.7L1355.0 1069.7L1355.8 1069.7L1356.6 1070.5L1357.4 1069.7L1358.2 1070.2L1359.0 1069.9L1359.8 1069.8L1360.6 1070.1L1361.3 1069.8L1362.1 1070.6L1362.9 1070.1L1363.7 1070.3L1364.5 1070.2L1365.3 1070.3L1366.1 1070.2L1366.9 1069.9L1367.6 1069.8L1368.4 1070.6L1369.2 1069.9L1370.0 1070.1L1370.8 1070.5L1371.6 1070.3L1372.4 1070.6L1373.2 1070.5L1373.9 1070.2L1374.7 1069.8L1375.5 1070.3L1376.3 1070.2L1377.1 1070.6L1377.9 1070.2L1378.7 1070.4L1379.5 1070.5L1380.2 1070.2L1381.0 1070.5L1381.8 1070.6L1382.6 1069.9L1383.4 1070.6L1384.2 1070.6L1385.0 1070.6L1385.8 1070.0L1386.5 1070.0L1387.3 1069.8L1388.1 1070.1L1388.9 1070.6L1389.7 1070.1L1390.5 1069.7L1391.3 1070.0L1392.1 1069.8L1392.8 1070.3L1393.6 1070.5L1394.4 1070.7L1395.2 1069.8L1396.0 1070.1L1396.8 1069.9L1397.6 1070.6L1398.3 1070.6L1399.1 1070.3L1399.9 1070.7L1400.7 1070.3L1401.5 1070.5L1402.3 1070.2L1403.1 1070.1L1403.9 1070.7L1404.6 1070.6L1405.4 1070.3L1406.2 1070.6L1407.0 1070.4L1407.8 1070.6L1408.6 1069.8L1409.4 1069.9L1410.2 1069.9L1410.9 1070.4L1411.7 1070.5L1412.5 1069.9L1413.3 1070.3L1414.1 1069.9L1414.9 1070.5L1415.7 1070.5L1416.5 1069.9L1417.2 1070.8L1418.0 1070.4L1418.8 1069.9L1419.6 1070.1L1420.4 1069.9L1421.2 1070.5L1422.0 1070.7L1422.8 1070.0L1423.5 1070.0L1424.3 1070.4L1425.1 1070.6L1425.9 1070.5L1426.7 1070.2L1427.5 1069.9L1428.3 1070.4L1429.1 1070.2L1429.8 1070.6L1430.6 1070.4L1431.4 1070.5L1432.2 1070.8" fill="none" stroke="#3aa0a0" stroke-width="1.10" stroke-linejoin="round" />
<rect x="50.0" y="838.0" width="315.5" height="254.0" fill="none" stroke="#8a8a8a" stroke-width="1.4"/>
<line x1="89.4" y1="1092.0" x2="89.4" y2="1089.2" stroke="#777" stroke-width="1.3"/>
<line x1="128.9" y1="1092.0" x2="128.9" y2="1086.5" stroke="#777" stroke-width="1.3"/>
<line x1="168.3" y1="1092.0" x2="168.3" y2="1089.2" stroke="#777" stroke-width="1.3"/>
<line x1="207.8" y1="1092.0" x2="207.8" y2="1086.5" stroke="#777" stroke-width="1.3"/>
<line x1="247.2" y1="1092.0" x2="247.2" y2="1089.2" stroke="#777" stroke-width="1.3"/>
<line x1="286.6" y1="1092.0" x2="286.6" y2="1086.5" stroke="#777" stroke-width="1.3"/>
<line x1="326.1" y1="1092.0" x2="326.1" y2="1089.2" stroke="#777" stroke-width="1.3"/>
<text x="50.0" y="1108.6" font-size="14.4" text-anchor="middle" fill="#444">30</text>
<text x="128.9" y="1108.6" font-size="14.4" text-anchor="middle" fill="#444">35</text>
<text x="207.8" y="1108.6" font-size="14.4" text-anchor="middle" fill="#444">40</text>
<text x="286.6" y="1108.6" font-size="14.4" text-anchor="middle" fill="#444">45</text>
<text x="365.5" y="1108.6" font-size="14.4" text-anchor="middle" fill="#444">50</text>
<rect x="406.3" y="838.2" width="314.4" height="253.6" fill="none" stroke="#8a8a8a" stroke-width="1.4"/>
<line x1="445.6" y1="1091.8" x2="445.6" y2="1089.0" stroke="#777" stroke-width="1.3"/>
<line x1="484.9" y1="1091.8" x2="484.9" y2="1086.3" stroke="#777" stroke-width="1.3"/>
<line x1="524.2" y1="1091.8" x2="524.2" y2="1089.0" stroke="#777" stroke-width="1.3"/>
<line x1="563.5" y1="1091.8" x2="563.5" y2="1086.3" stroke="#777" stroke-width="1.3"/>
<line x1="602.8" y1="1091.8" x2="602.8" y2="1089.0" stroke="#777" stroke-width="1.3"/>
<line x1="642.1" y1="1091.8" x2="642.1" y2="1086.3" stroke="#777" stroke-width="1.3"/>
<line x1="681.4" y1="1091.8" x2="681.4" y2="1089.0" stroke="#777" stroke-width="1.3"/>
<text x="406.3" y="1108.6" font-size="14.4" text-anchor="middle" fill="#444">30</text>
<text x="484.9" y="1108.6" font-size="14.4" text-anchor="middle" fill="#444">35</text>
<text x="563.5" y="1108.6" font-size="14.4" text-anchor="middle" fill="#444">40</text>
<text x="642.1" y="1108.6" font-size="14.4" text-anchor="middle" fill="#444">45</text>
<text x="720.7" y="1108.6" font-size="14.4" text-anchor="middle" fill="#444">50</text>
<rect x="761.6" y="839.5" width="313.9" height="253.1" fill="none" stroke="#8a8a8a" stroke-width="1.4"/>
<line x1="800.8" y1="1092.6" x2="800.8" y2="1089.8" stroke="#777" stroke-width="1.3"/>
<line x1="840.1" y1="1092.6" x2="840.1" y2="1087.1" stroke="#777" stroke-width="1.3"/>
<line x1="879.3" y1="1092.6" x2="879.3" y2="1089.8" stroke="#777" stroke-width="1.3"/>
<line x1="918.5" y1="1092.6" x2="918.5" y2="1087.1" stroke="#777" stroke-width="1.3"/>
<line x1="957.8" y1="1092.6" x2="957.8" y2="1089.8" stroke="#777" stroke-width="1.3"/>
<line x1="997.0" y1="1092.6" x2="997.0" y2="1087.1" stroke="#777" stroke-width="1.3"/>
<line x1="1036.3" y1="1092.6" x2="1036.3" y2="1089.8" stroke="#777" stroke-width="1.3"/>
<text x="761.6" y="1108.6" font-size="14.4" text-anchor="middle" fill="#444">30</text>
<text x="840.1" y="1108.6" font-size="14.4" text-anchor="middle" fill="#444">35</text>
<text x="918.5" y="1108.6" font-size="14.4" text-anchor="middle" fill="#444">40</text>
<text x="997.0" y="1108.6" font-size="14.4" text-anchor="middle" fill="#444">45</text>
<text x="1075.5" y="1108.6" font-size="14.4" text-anchor="middle" fill="#444">50</text>
<rect x="1117.3" y="838.5" width="314.9" height="253.1" fill="none" stroke="#8a8a8a" stroke-width="1.4"/>
<line x1="1156.7" y1="1091.6" x2="1156.7" y2="1088.8" stroke="#777" stroke-width="1.3"/>
<line x1="1196.0" y1="1091.6" x2="1196.0" y2="1086.1" stroke="#777" stroke-width="1.3"/>
<line x1="1235.4" y1="1091.6" x2="1235.4" y2="1088.8" stroke="#777" stroke-width="1.3"/>
<line x1="1274.8" y1="1091.6" x2="1274.8" y2="1086.1" stroke="#777" stroke-width="1.3"/>
<line x1="1314.1" y1="1091.6" x2="1314.1" y2="1088.8" stroke="#777" stroke-width="1.3"/>
<line x1="1353.5" y1="1091.6" x2="1353.5" y2="1086.1" stroke="#777" stroke-width="1.3"/>
<line x1="1392.8" y1="1091.6" x2="1392.8" y2="1088.8" stroke="#777" stroke-width="1.3"/>
<text x="1117.3" y="1108.6" font-size="14.4" text-anchor="middle" fill="#444">30</text>
<text x="1196.0" y="1108.6" font-size="14.4" text-anchor="middle" fill="#444">35</text>
<text x="1274.8" y="1108.6" font-size="14.4" text-anchor="middle" fill="#444">40</text>
<text x="1353.5" y="1108.6" font-size="14.4" text-anchor="middle" fill="#444">45</text>
<text x="1432.2" y="1108.6" font-size="14.4" text-anchor="middle" fill="#444">50</text>
<text transform="translate(34.2,959.6) rotate(-90)" font-size="24.0" fill="#222" text-anchor="middle" textLength="226.0" lengthAdjust="spacingAndGlyphs">Intensity (arb. Unit)</text>
<text transform="translate(391.8,964.4) rotate(-90)" font-size="24.0" fill="#222" text-anchor="middle" textLength="226.0" lengthAdjust="spacingAndGlyphs">Intensity (arb. Unit)</text>
<text transform="translate(750.5,966.3) rotate(-90)" font-size="24.0" fill="#222" text-anchor="middle" textLength="226.0" lengthAdjust="spacingAndGlyphs">Intensity (arb. Unit)</text>
<text transform="translate(1104.5,967.3) rotate(-90)" font-size="24.0" fill="#222" text-anchor="middle" textLength="226.0" lengthAdjust="spacingAndGlyphs">Intensity (arb. Unit)</text>
<text x="222.4" y="1151.2" font-size="25" fill="#222" text-anchor="middle" textLength="139" lengthAdjust="spacingAndGlyphs">2 θ ( deg.)</text>
<text x="584.3" y="1150.5" font-size="25" fill="#222" text-anchor="middle" textLength="139" lengthAdjust="spacingAndGlyphs">2 θ ( deg.)</text>
<text x="943.4" y="1155.2" font-size="25" fill="#222" text-anchor="middle" textLength="139" lengthAdjust="spacingAndGlyphs">2 θ ( deg.)</text>
<text x="1297.6" y="1154.2" font-size="25" fill="#222" text-anchor="middle" textLength="139" lengthAdjust="spacingAndGlyphs">2 θ ( deg.)</text>
<text x="66.0" y="873.0" font-size="27" fill="#1a1a1a" textLength="94" lengthAdjust="spacingAndGlyphs">3 sccm</text>
<text x="423.5" y="873.3" font-size="27" fill="#1a1a1a" textLength="94" lengthAdjust="spacingAndGlyphs">6 sccm</text>
<text x="775.7" y="873.3" font-size="27" fill="#1a1a1a" textLength="109" lengthAdjust="spacingAndGlyphs">12 sccm</text>
<text x="1136.9" y="878.0" font-size="27" fill="#1a1a1a" textLength="109" lengthAdjust="spacingAndGlyphs">18 sccm</text>
<text x="56" y="1204" font-size="40" font-weight="bold" fill="#111">(c)</text>
<rect x="44.7" y="1264.9" width="320.9" height="267.8" fill="#f1dcdf" stroke="#8a8a8a" stroke-width="1.6"/>
<polygon points="48.6,1294.5 57.6,1294.5 71.4,1354.4 48.6,1362.1" fill="#c3d99b" stroke="#767676" stroke-width="6" stroke-linejoin="round"/>
<polygon points="59.2,1268.3 126.7,1268.3 152.3,1353.3 86.1,1339.5 60.3,1295.7" fill="#c3d99b" stroke="#767676" stroke-width="6" stroke-linejoin="round"/>
<polygon points="150.0,1272.4 248.9,1272.4 247.4,1333.6 192.5,1356.2 161.1,1340.4 145.9,1303.8" fill="#c3d99b" stroke="#767676" stroke-width="6" stroke-linejoin="round"/>
<polygon points="258.0,1269.0 361.2,1274.2 364.1,1377.0 303.8,1371.3 256.9,1332.9" fill="#c3d99b" stroke="#767676" stroke-width="6" stroke-linejoin="round"/>
<polygon points="48.6,1379.2 79.5,1346.9 130.4,1355.1 130.4,1413.1 81.8,1433.5" fill="#c3d99b" stroke="#767676" stroke-width="6" stroke-linejoin="round"/>
<polygon points="163.3,1350.3 190.2,1372.5 174.4,1415.8 139.4,1413.1 136.0,1377.0" fill="#c3d99b" stroke="#767676" stroke-width="6" stroke-linejoin="round"/>
<polygon points="252.3,1337.4 293.0,1374.7 271.5,1428.9 227.5,1439.8 184.6,1419.9 193.6,1377.0" fill="#c3d99b" stroke="#767676" stroke-width="6" stroke-linejoin="round"/>
<polygon points="289.6,1384.2 366.4,1384.9 366.4,1457.2 322.4,1465.1 282.8,1442.5 287.3,1401.8" fill="#c3d99b" stroke="#767676" stroke-width="6" stroke-linejoin="round"/>
<polygon points="55.6,1398.2 94.0,1464.6 54.2,1462.6" fill="#c3d99b" stroke="#767676" stroke-width="6" stroke-linejoin="round"/>
<polygon points="105.7,1433.9 138.5,1416.1 182.3,1420.1 190.7,1462.6 148.0,1510.5 97.4,1465.1" fill="#c3d99b" stroke="#767676" stroke-width="6" stroke-linejoin="round"/>
<polygon points="195.9,1433.5 228.6,1449.3 232.0,1468.5 216.2,1482.0 193.6,1461.7" fill="#c3d99b" stroke="#767676" stroke-width="6" stroke-linejoin="round"/>
<polygon points="232.0,1468.5 256.9,1439.8 308.8,1475.2 312.2,1526.1 244.4,1526.1" fill="#c3d99b" stroke="#767676" stroke-width="6" stroke-linejoin="round"/>
<polygon points="313.3,1477.5 352.9,1466.2 364.1,1529.5 314.5,1518.2" fill="#c3d99b" stroke="#767676" stroke-width="6" stroke-linejoin="round"/>
<polygon points="66.0,1467.3 131.7,1501.7 142.1,1529.7 49.5,1529.7" fill="#c3d99b" stroke="#767676" stroke-width="6" stroke-linejoin="round"/>
<polygon points="148.0,1529.7 164.7,1507.8 211.0,1489.2 238.6,1529.7" fill="#c3d99b" stroke="#767676" stroke-width="6" stroke-linejoin="round"/>
<text x="292" y="1322.8" font-size="24" fill="#1a1a1a" textLength="37" lengthAdjust="spacingAndGlyphs">Mo</text>
<rect x="414.0" y="1266.5" width="292.0" height="261.9" fill="#f1dcdf"/>
<polygon points="416.8,1269.5 437.0,1269.5 434.9,1286.4 416.8,1293.9" fill="#f68c89" stroke="#767676" stroke-width="5.0" stroke-linejoin="round"/>
<polygon points="444.1,1269.6 473.0,1269.6 471.9,1288.3 453.7,1297.9 441.9,1287.2" fill="#f68c89" stroke="#767676" stroke-width="5.0" stroke-linejoin="round"/>
<polygon points="480.5,1269.8 506.6,1269.8 508.5,1290.0 496.4,1304.4 479.4,1289.0" fill="#f68c89" stroke="#767676" stroke-width="5.0" stroke-linejoin="round"/>
<polygon points="513.8,1269.5 539.8,1269.5 541.4,1284.5 534.1,1293.0 515.6,1288.6" fill="#f68c89" stroke="#767676" stroke-width="5.0" stroke-linejoin="round"/>
<polygon points="547.2,1269.4 576.1,1269.4 575.0,1289.5 571.7,1292.2 548.7,1283.6" fill="#f68c89" stroke="#767676" stroke-width="5.0" stroke-linejoin="round"/>
<polygon points="583.7,1269.6 615.9,1269.6 614.5,1298.8 582.6,1289.3" fill="#f68c89" stroke="#767676" stroke-width="5.0" stroke-linejoin="round"/>
<polygon points="623.8,1269.8 658.3,1269.8 659.6,1287.2 644.3,1305.5 622.7,1291.9" fill="#f68c89" stroke="#767676" stroke-width="5.0" stroke-linejoin="round"/>
<polygon points="666.6,1269.6 702.5,1269.6 702.5,1299.4 667.8,1286.2" fill="#f68c89" stroke="#767676" stroke-width="5.0" stroke-linejoin="round"/>
<polygon points="417.4,1323.0 417.4,1301.3 437.1,1293.1 449.0,1304.0 448.1,1321.0 434.4,1327.5" fill="#f68c89" stroke="#767676" stroke-width="5.0" stroke-linejoin="round"/>
<polygon points="455.8,1321.2 456.7,1304.5 474.9,1294.9 492.5,1311.0 492.6,1311.4 470.0,1328.7" fill="#f68c89" stroke="#767676" stroke-width="5.0" stroke-linejoin="round"/>
<polygon points="505.8,1305.0 514.0,1295.3 532.6,1299.7 535.7,1317.8 528.9,1326.3" fill="#f68c89" stroke="#767676" stroke-width="5.0" stroke-linejoin="round"/>
<polygon points="542.5,1315.6 539.4,1298.1 546.5,1289.9 568.6,1298.1 564.3,1313.6" fill="#f68c89" stroke="#767676" stroke-width="5.0" stroke-linejoin="round"/>
<polygon points="571.5,1316.2 576.3,1299.0 579.9,1296.1 612.6,1305.9 588.2,1341.0" fill="#f68c89" stroke="#767676" stroke-width="5.0" stroke-linejoin="round"/>
<polygon points="650.8,1310.0 665.3,1292.7 699.1,1305.6 677.7,1326.9" fill="#f68c89" stroke="#767676" stroke-width="5.0" stroke-linejoin="round"/>
<polygon points="416.7,1374.9 416.7,1331.1 431.9,1335.0 435.9,1363.6" fill="#f68c89" stroke="#767676" stroke-width="5.0" stroke-linejoin="round"/>
<polygon points="442.7,1362.5 438.8,1334.2 451.9,1327.9 468.8,1336.8 464.2,1366.7" fill="#f68c89" stroke="#767676" stroke-width="5.0" stroke-linejoin="round"/>
<polygon points="535.2,1331.6 542.3,1322.9 565.5,1320.7 581.5,1344.6 562.6,1356.9" fill="#f68c89" stroke="#767676" stroke-width="5.0" stroke-linejoin="round"/>
<polygon points="703.5,1313.3 703.5,1349.9 703.5,1349.9 687.2,1337.2" fill="#f68c89" stroke="#767676" stroke-width="5.0" stroke-linejoin="round"/>
<polygon points="418.6,1384.9 418.6,1383.0 440.5,1370.0 475.1,1376.9 459.7,1403.4 442.5,1406.2" fill="#f68c89" stroke="#767676" stroke-width="5.0" stroke-linejoin="round"/>
<polygon points="543.1,1379.5 586.3,1351.4 615.9,1381.1 581.4,1400.4" fill="#f68c89" stroke="#767676" stroke-width="5.0" stroke-linejoin="round"/>
<polygon points="679.8,1371.3 666.2,1368.0 683.3,1343.0 698.0,1354.3" fill="#f68c89" stroke="#767676" stroke-width="5.0" stroke-linejoin="round"/>
<polygon points="670.0,1413.4 650.1,1393.6 662.8,1374.9 678.6,1378.7 700.8,1401.5" fill="#f68c89" stroke="#767676" stroke-width="5.0" stroke-linejoin="round"/>
<polygon points="703.4,1358.0 703.4,1394.3 684.9,1375.2" fill="#f68c89" stroke="#767676" stroke-width="5.0" stroke-linejoin="round"/>
<polygon points="416.7,1432.1 416.7,1393.1 437.2,1411.5 427.7,1431.2" fill="#f68c89" stroke="#767676" stroke-width="5.0" stroke-linejoin="round"/>
<polygon points="477.3,1429.9 466.7,1407.7 479.4,1385.8 506.0,1420.3 499.0,1429.4" fill="#f68c89" stroke="#767676" stroke-width="5.0" stroke-linejoin="round"/>
<polygon points="446.9,1449.3 434.1,1434.4 443.8,1414.3 460.2,1411.6 470.7,1433.6 461.7,1448.7" fill="#f68c89" stroke="#767676" stroke-width="5.0" stroke-linejoin="round"/>
<polygon points="550.1,1437.1 531.7,1400.8 533.4,1385.1 536.2,1384.9 577.2,1407.4 580.5,1429.1" fill="#fa6e70" stroke="#767676" stroke-width="5.0" stroke-linejoin="round"/>
<polygon points="590.2,1434.4 586.0,1407.0 628.8,1383.0 629.5,1385.6 621.3,1421.3 595.0,1437.3" fill="#f68c89" stroke="#767676" stroke-width="5.0" stroke-linejoin="round"/>
<polygon points="629.0,1423.0 636.5,1390.8 665.0,1419.1 661.7,1445.7 648.5,1445.4" fill="#f68c89" stroke="#767676" stroke-width="5.0" stroke-linejoin="round"/>
<polygon points="702.6,1409.1 702.6,1448.8 669.5,1447.2 672.8,1420.7" fill="#f68c89" stroke="#767676" stroke-width="5.0" stroke-linejoin="round"/>
<polygon points="416.8,1479.1 416.8,1440.1 428.3,1439.2 440.9,1454.0 426.4,1476.9" fill="#f68c89" stroke="#767676" stroke-width="5.0" stroke-linejoin="round"/>
<polygon points="482.2,1475.7 468.5,1452.8 477.4,1437.9 498.8,1437.4 506.9,1460.3 485.0,1476.5" fill="#f68c89" stroke="#767676" stroke-width="5.0" stroke-linejoin="round"/>
<polygon points="514.3,1457.9 505.9,1434.2 526.4,1407.5 538.2,1430.8 538.2,1464.0" fill="#f68c89" stroke="#767676" stroke-width="5.0" stroke-linejoin="round"/>
<polygon points="600.5,1442.7 624.1,1428.4 642.2,1449.2 628.3,1459.6" fill="#f68c89" stroke="#767676" stroke-width="5.0" stroke-linejoin="round"/>
<polygon points="630.4,1467.2 647.9,1454.1 661.8,1454.4 662.2,1470.0 646.3,1492.9 620.8,1482.0" fill="#f68c89" stroke="#767676" stroke-width="5.0" stroke-linejoin="round"/>
<polygon points="702.7,1456.4 702.7,1486.2 689.9,1489.1 670.3,1469.5 669.9,1454.9" fill="#f68c89" stroke="#767676" stroke-width="5.0" stroke-linejoin="round"/>
<polygon points="653.1,1500.3 651.7,1497.4 666.8,1475.7 684.6,1493.5 679.4,1500.3" fill="#f68c89" stroke="#767676" stroke-width="5.0" stroke-linejoin="round"/>
<polygon points="433.2,1479.6 447.3,1457.3 461.9,1456.7 475.0,1478.5 453.2,1492.2" fill="#f68c89" stroke="#767676" stroke-width="5.0" stroke-linejoin="round"/>
<polygon points="496.8,1494.4 490.5,1482.0 512.2,1465.8 537.3,1472.3 537.3,1477.6 518.2,1501.1" fill="#f68c89" stroke="#767676" stroke-width="5.0" stroke-linejoin="round"/>
<polygon points="449.1,1524.8 417.4,1524.8 417.4,1487.8 427.9,1485.4 449.1,1498.9" fill="#f68c89" stroke="#767676" stroke-width="5.0" stroke-linejoin="round"/>
<polygon points="478.4,1524.7 456.9,1524.7 456.9,1498.8 479.8,1484.3 482.6,1485.2 489.3,1498.3" fill="#f68c89" stroke="#767676" stroke-width="5.0" stroke-linejoin="round"/>
<polygon points="520.9,1525.5 485.9,1525.5 495.7,1501.8 516.2,1508.2" fill="#f68c89" stroke="#767676" stroke-width="5.0" stroke-linejoin="round"/>
<polygon points="552.2,1524.9 528.6,1524.9 523.6,1506.4 536.6,1490.5 557.1,1496.0" fill="#f68c89" stroke="#767676" stroke-width="5.0" stroke-linejoin="round"/>
<polygon points="585.4,1525.3 559.5,1525.3 564.1,1497.4 586.3,1503.3" fill="#f68c89" stroke="#767676" stroke-width="5.0" stroke-linejoin="round"/>
<polygon points="614.0,1525.6 592.3,1525.6 593.2,1504.8 612.1,1509.8" fill="#f68c89" stroke="#767676" stroke-width="5.0" stroke-linejoin="round"/>
<polygon points="644.8,1524.9 620.9,1524.9 616.7,1489.7 617.2,1488.8 644.4,1500.5 646.4,1504.4" fill="#f68c89" stroke="#767676" stroke-width="5.0" stroke-linejoin="round"/>
<polygon points="680.6,1525.5 652.1,1525.5 653.6,1506.8 678.4,1506.8" fill="#f68c89" stroke="#767676" stroke-width="5.0" stroke-linejoin="round"/>
<polygon points="703.2,1494.2 703.2,1525.1 687.5,1525.1 685.1,1504.7 691.0,1496.9" fill="#f68c89" stroke="#767676" stroke-width="5.0" stroke-linejoin="round"/>
<polygon points="503.5,1310.5 548.0,1351.5 560.6,1399.2 507.5,1412.6 470.6,1364.7 475.7,1331.8" fill="#c3d99b" stroke="#767676" stroke-width="5.0" stroke-linejoin="round"/>
<polygon points="624.0,1300.2 681.2,1336.3 640.4,1396.0 591.5,1346.9" fill="#c3d99b" stroke="#767676" stroke-width="5.0" stroke-linejoin="round"/>
<polygon points="544.3,1445.7 579.3,1436.5 625.0,1464.3 601.0,1501.0 544.3,1486.0" fill="#c3d99b" stroke="#767676" stroke-width="5.0" stroke-linejoin="round"/>
<rect x="414.0" y="1266.5" width="292.0" height="261.9" fill="none" stroke="#767676" stroke-width="4" rx="2"/>
<text x="489.6" y="1368.9" font-size="24" fill="#1a1a1a" textLength="37" lengthAdjust="spacingAndGlyphs">Mo</text>
<text x="609.4" y="1349.2" font-size="24" fill="#1a1a1a" textLength="37" lengthAdjust="spacingAndGlyphs">Mo</text>
<text x="554.8" y="1473.7" font-size="24" fill="#1a1a1a" textLength="37" lengthAdjust="spacingAndGlyphs">Mo</text>
<rect x="770.5" y="1267.7" width="293.2" height="260.7" fill="#f1dcdf"/>
<polygon points="773.1,1270.4 793.8,1270.4 792.4,1286.5 773.1,1295.5" fill="#f68c89" stroke="#767676" stroke-width="5.0" stroke-linejoin="round"/>
<polygon points="800.3,1270.5 829.8,1270.5 828.4,1294.3 814.5,1301.0 798.9,1287.2" fill="#f68c89" stroke="#767676" stroke-width="5.0" stroke-linejoin="round"/>
<polygon points="836.5,1270.6 863.3,1270.6 865.5,1294.7 851.7,1303.0 835.1,1294.5" fill="#f68c89" stroke="#767676" stroke-width="5.0" stroke-linejoin="round"/>
<polygon points="869.8,1270.5 896.7,1270.5 898.5,1285.4 886.6,1299.4 872.0,1294.1" fill="#f68c89" stroke="#767676" stroke-width="5.0" stroke-linejoin="round"/>
<polygon points="903.4,1270.3 933.5,1270.3 932.3,1285.9 931.0,1291.3 905.1,1284.1" fill="#f68c89" stroke="#767676" stroke-width="5.0" stroke-linejoin="round"/>
<polygon points="940.2,1270.4 973.8,1270.4 972.9,1288.6 968.4,1293.5 938.4,1293.5" fill="#f68c89" stroke="#767676" stroke-width="5.0" stroke-linejoin="round"/>
<polygon points="980.9,1270.5 1015.8,1270.5 1017.1,1288.3 1009.0,1298.7 980.1,1288.0" fill="#f68c89" stroke="#767676" stroke-width="5.0" stroke-linejoin="round"/>
<polygon points="1023.0,1270.4 1060.6,1270.4 1060.6,1296.2 1058.8,1296.8 1024.2,1287.2" fill="#f68c89" stroke="#767676" stroke-width="5.0" stroke-linejoin="round"/>
<polygon points="773.6,1322.4 773.6,1302.3 794.7,1292.5 810.1,1306.1 806.2,1321.3 791.8,1327.9" fill="#f68c89" stroke="#767676" stroke-width="5.0" stroke-linejoin="round"/>
<polygon points="813.2,1322.6 817.1,1307.5 831.7,1300.5 848.5,1309.1 848.5,1336.0 842.7,1341.0 836.7,1341.8" fill="#f68c89" stroke="#767676" stroke-width="5.0" stroke-linejoin="round"/>
<polygon points="855.4,1334.9 855.4,1309.0 869.4,1300.5 884.9,1306.1 891.6,1321.2 884.3,1337.1" fill="#f68c89" stroke="#767676" stroke-width="5.0" stroke-linejoin="round"/>
<polygon points="897.8,1318.0 891.5,1303.7 903.2,1289.9 929.4,1297.3 925.0,1315.7" fill="#f68c89" stroke="#767676" stroke-width="5.0" stroke-linejoin="round"/>
<polygon points="968.6,1303.8 977.7,1294.1 1006.8,1304.9 1007.2,1322.7 992.2,1338.5 964.3,1314.2" fill="#f68c89" stroke="#767676" stroke-width="5.0" stroke-linejoin="round"/>
<polygon points="1014.3,1321.4 1013.9,1303.7 1022.2,1293.2 1054.3,1302.1 1036.5,1325.8" fill="#f68c89" stroke="#767676" stroke-width="5.0" stroke-linejoin="round"/>
<polygon points="1061.2,1303.8 1061.2,1346.3 1050.2,1345.5 1041.5,1329.7 1060.8,1303.9" fill="#f68c89" stroke="#767676" stroke-width="5.0" stroke-linejoin="round"/>
<polygon points="773.1,1366.1 773.1,1329.4 789.4,1334.4 792.4,1363.4 785.4,1367.4" fill="#f68c89" stroke="#767676" stroke-width="5.0" stroke-linejoin="round"/>
<polygon points="798.6,1362.7 795.6,1333.9 809.0,1327.7 831.5,1346.1 814.8,1366.4" fill="#f68c89" stroke="#767676" stroke-width="5.0" stroke-linejoin="round"/>
<polygon points="862.3,1376.8 848.7,1346.0 853.8,1341.6 884.1,1343.9 890.7,1357.3 883.3,1373.6" fill="#f68c89" stroke="#767676" stroke-width="5.0" stroke-linejoin="round"/>
<polygon points="897.3,1354.0 890.7,1340.6 898.1,1324.6 928.0,1322.1 933.8,1329.7 930.8,1356.3 930.6,1356.5" fill="#f68c89" stroke="#767676" stroke-width="5.0" stroke-linejoin="round"/>
<polygon points="938.1,1356.4 940.7,1333.1 962.1,1321.5 986.6,1342.8 961.3,1364.7" fill="#f68c89" stroke="#767676" stroke-width="5.0" stroke-linejoin="round"/>
<polygon points="1015.6,1367.3 997.8,1343.2 1012.3,1327.9 1035.4,1332.6 1044.1,1348.5 1030.3,1365.3" fill="#f68c89" stroke="#767676" stroke-width="5.0" stroke-linejoin="round"/>
<polygon points="828.1,1392.1 819.9,1370.8 837.5,1349.5 842.6,1348.8 856.4,1379.9 849.8,1388.8" fill="#f68c89" stroke="#767676" stroke-width="5.0" stroke-linejoin="round"/>
<polygon points="772.9,1399.9 772.9,1372.9 783.6,1374.0 785.0,1399.0" fill="#f68c89" stroke="#767676" stroke-width="5.0" stroke-linejoin="round"/>
<polygon points="791.2,1400.1 789.6,1373.4 796.5,1369.5 813.7,1373.3 822.2,1395.4 814.5,1409.0 802.4,1409.4" fill="#f68c89" stroke="#767676" stroke-width="5.0" stroke-linejoin="round"/>
<polygon points="856.0,1392.6 862.6,1383.8 884.0,1380.5 895.7,1402.7 887.3,1415.1 870.8,1418.0" fill="#f68c89" stroke="#767676" stroke-width="5.0" stroke-linejoin="round"/>
<polygon points="901.5,1399.2 889.7,1376.8 896.9,1360.9 928.1,1363.2 919.9,1397.6" fill="#f68c89" stroke="#767676" stroke-width="5.0" stroke-linejoin="round"/>
<polygon points="926.3,1399.3 935.0,1363.0 935.1,1362.9 959.0,1371.6 964.8,1392.5 937.8,1408.2" fill="#f68c89" stroke="#767676" stroke-width="5.0" stroke-linejoin="round"/>
<polygon points="972.0,1391.4 966.1,1370.0 992.1,1347.5 1010.1,1371.8 998.8,1401.6 990.5,1401.6" fill="#f68c89" stroke="#767676" stroke-width="5.0" stroke-linejoin="round"/>
<polygon points="1006.4,1401.7 1016.7,1374.6 1031.1,1372.6 1056.9,1400.8 1019.1,1414.6" fill="#f68c89" stroke="#767676" stroke-width="5.0" stroke-linejoin="round"/>
<polygon points="1061.1,1353.3 1061.1,1395.7 1036.4,1368.7 1049.7,1352.4" fill="#f68c89" stroke="#767676" stroke-width="5.0" stroke-linejoin="round"/>
<polygon points="773.0,1433.1 773.0,1406.4 786.8,1405.3 787.6,1406.0 788.9,1431.8" fill="#f68c89" stroke="#767676" stroke-width="5.0" stroke-linejoin="round"/>
<polygon points="817.8,1417.6 828.3,1399.2 850.1,1395.9 864.8,1421.3 857.7,1430.3 828.2,1430.3" fill="#f68c89" stroke="#767676" stroke-width="5.0" stroke-linejoin="round"/>
<polygon points="893.6,1418.9 901.9,1406.6 921.4,1404.9 933.8,1414.5 935.8,1432.3 922.5,1447.9 910.5,1449.4" fill="#f68c89" stroke="#767676" stroke-width="5.0" stroke-linejoin="round"/>
<polygon points="943.0,1430.8 941.1,1414.0 968.5,1398.0 981.9,1405.4 981.9,1420.9 960.0,1435.6" fill="#f68c89" stroke="#767676" stroke-width="5.0" stroke-linejoin="round"/>
<polygon points="1060.7,1406.8 1060.7,1449.0 1026.6,1448.1 1026.6,1419.2" fill="#f68c89" stroke="#767676" stroke-width="5.0" stroke-linejoin="round"/>
<polygon points="773.1,1479.8 773.1,1439.9 788.0,1438.7 800.1,1453.0 783.0,1477.8" fill="#f68c89" stroke="#767676" stroke-width="5.0" stroke-linejoin="round"/>
<polygon points="839.7,1476.2 824.0,1452.0 833.3,1437.2 857.3,1437.2 864.0,1460.1" fill="#f68c89" stroke="#767676" stroke-width="5.0" stroke-linejoin="round"/>
<polygon points="870.7,1458.7 863.8,1434.8 871.3,1425.3 887.8,1422.3 903.4,1450.5 890.8,1465.7" fill="#f68c89" stroke="#767676" stroke-width="5.0" stroke-linejoin="round"/>
<polygon points="930.4,1449.8 940.9,1437.5 958.0,1442.3 971.0,1470.5 970.7,1471.5 934.5,1472.6" fill="#f68c89" stroke="#767676" stroke-width="5.0" stroke-linejoin="round"/>
<polygon points="976.3,1466.2 964.4,1440.6 983.2,1428.0 1000.3,1448.2" fill="#f68c89" stroke="#767676" stroke-width="5.0" stroke-linejoin="round"/>
<polygon points="789.2,1480.3 807.6,1453.5 816.8,1453.5 834.1,1480.2 810.8,1494.5" fill="#f68c89" stroke="#767676" stroke-width="5.0" stroke-linejoin="round"/>
<polygon points="853.0,1496.8 843.3,1482.0 868.3,1465.3 886.3,1471.6 893.4,1476.4 874.3,1500.7" fill="#f68c89" stroke="#767676" stroke-width="5.0" stroke-linejoin="round"/>
<polygon points="982.3,1485.6 977.9,1474.6 978.6,1472.7 1007.5,1451.1 1016.4,1450.5 1019.7,1453.8 1019.7,1486.4 1006.8,1494.2" fill="#f68c89" stroke="#767676" stroke-width="5.0" stroke-linejoin="round"/>
<polygon points="1060.6,1456.0 1060.6,1487.3 1038.2,1491.7 1026.7,1486.2 1026.7,1455.2" fill="#f68c89" stroke="#767676" stroke-width="5.0" stroke-linejoin="round"/>
<polygon points="959.7,1515.1 925.7,1482.9 931.5,1479.3 971.1,1478.1 975.1,1488.3" fill="#f68c89" stroke="#767676" stroke-width="5.0" stroke-linejoin="round"/>
<polygon points="805.8,1525.3 773.5,1525.3 773.5,1487.5 784.2,1485.3 807.1,1500.3" fill="#f68c89" stroke="#767676" stroke-width="5.0" stroke-linejoin="round"/>
<polygon points="838.3,1525.3 812.7,1525.3 814.0,1500.5 837.4,1486.2 846.9,1500.7" fill="#f68c89" stroke="#767676" stroke-width="5.0" stroke-linejoin="round"/>
<polygon points="879.2,1525.8 845.1,1525.8 852.8,1503.4 873.2,1507.1" fill="#f68c89" stroke="#767676" stroke-width="5.0" stroke-linejoin="round"/>
<polygon points="909.1,1525.1 886.1,1525.1 879.6,1504.9 898.9,1480.4 915.0,1491.4" fill="#f68c89" stroke="#767676" stroke-width="5.0" stroke-linejoin="round"/>
<polygon points="956.8,1525.6 915.8,1525.6 922.3,1488.3 956.7,1521.0" fill="#f68c89" stroke="#767676" stroke-width="5.0" stroke-linejoin="round"/>
<polygon points="1003.0,1525.5 964.5,1525.5 964.4,1520.5 980.6,1492.5 1003.7,1500.6" fill="#f68c89" stroke="#767676" stroke-width="5.0" stroke-linejoin="round"/>
<polygon points="1036.8,1525.5 1009.7,1525.5 1010.5,1500.3 1023.3,1492.5 1034.6,1497.8" fill="#f68c89" stroke="#767676" stroke-width="5.0" stroke-linejoin="round"/>
<polygon points="1061.1,1494.2 1061.1,1525.4 1043.0,1525.4 1040.8,1498.2" fill="#f68c89" stroke="#767676" stroke-width="5.0" stroke-linejoin="round"/>
<polygon points="935.0,1299.0 958.5,1299.0 961.0,1306.0 956.0,1318.0 939.5,1327.0 931.0,1315.7" fill="#553383" stroke="#6e6a7c" stroke-width="5.0" stroke-linejoin="round"/>
<polygon points="793.4,1415.8 808.2,1415.3 826.1,1437.4 819.8,1447.4 802.9,1447.4 794.5,1437.4" fill="#553383" stroke="#6e6a7c" stroke-width="5.0" stroke-linejoin="round"/>
<polygon points="895.0,1470.2 906.6,1456.2 925.2,1453.9 928.7,1473.7 913.6,1483.0" fill="#553383" stroke="#6e6a7c" stroke-width="5.0" stroke-linejoin="round"/>
<polygon points="988.0,1408.0 1004.0,1408.0 1020.6,1425.0 1020.6,1444.0 1005.0,1445.0 988.0,1425.0" fill="#553383" stroke="#6e6a7c" stroke-width="5.0" stroke-linejoin="round"/>
<rect x="770.5" y="1267.7" width="293.2" height="260.7" fill="none" stroke="#767676" stroke-width="4" rx="2"/>
<defs><pattern id="dots" x="1140.8" y="1276.3" width="17.25" height="17.2" patternUnits="userSpaceOnUse"><rect width="17.25" height="17.2" fill="#f8eef0"/><circle cx="4.3" cy="4.3" r="4.7" fill="#e6d7db"/><circle cx="12.92" cy="12.9" r="4.7" fill="#e6d7db"/><circle cx="4.3" cy="4.3" r="1.7" fill="#f1e6e8"/><circle cx="12.92" cy="12.9" r="1.7" fill="#f1e6e8"/></pattern></defs>
<rect x="1128.7" y="1269.7" width="290.8" height="259.3" fill="url(#dots)" stroke="#8a8a8a" stroke-width="1.8"/>
<text x="66.0" y="1252.6" font-size="25" fill="#1a1a1a" textLength="91" lengthAdjust="spacingAndGlyphs">3 sccm</text>
<text x="423.3" y="1252.6" font-size="25" fill="#1a1a1a" textLength="91" lengthAdjust="spacingAndGlyphs">6 sccm</text>
<text x="776.3" y="1253.7" font-size="25" fill="#1a1a1a" textLength="106" lengthAdjust="spacingAndGlyphs">12 sccm</text>
<text x="1137.1" y="1259.5" font-size="25" fill="#1a1a1a" textLength="106" lengthAdjust="spacingAndGlyphs">18 sccm</text>
<rect x="111" y="1557.1" width="61.5" height="12.3" fill="#808080"/>
<path d="M191 1563.2H244.4M225.5 1553L244.4 1563.2L225.5 1573.5" fill="none" stroke="#808080" stroke-width="1.6"/>
<text x="269" y="1570.2" font-size="24.5" fill="#1a1a1a" textLength="29" lengthAdjust="spacingAndGlyphs">Cu</text>
<polygon points="413.6,1549.7 427.1,1541.1 445.6,1544.8 453.0,1562.0 449.3,1569.4 423.4,1570.7" fill="#f58a8a"/>
<path d="M453.0 1560.8H509.7M492.4 1549.7L509.7 1560.8L492.4 1571.9" fill="none" stroke="#d9a3a6" stroke-width="1.6"/>
<text x="526.9" y="1569.4" font-size="24.5" fill="#1a1a1a">Mo<tspan font-size="16" dy="5">2</tspan><tspan dy="-5">N</tspan></text>
<text x="527.0" y="1600.5" font-size="24.5" fill="#1a1a1a" textLength="204" lengthAdjust="spacingAndGlyphs">(about 6.276 nm)</text>
<polygon points="774.1,1549.7 787.6,1541.1 806.1,1544.8 813.5,1562.0 809.8,1569.4 783.9,1570.7" fill="#f58a8a"/>
<path d="M813.5 1560.8H870.2M852.9 1549.7L870.2 1560.8L852.9 1571.9" fill="none" stroke="#d9a3a6" stroke-width="1.6"/>
<text x="887.4" y="1569.4" font-size="24.5" fill="#1a1a1a">Mo<tspan font-size="16" dy="5">2</tspan><tspan dy="-5">N</tspan></text>
<text x="887.5" y="1600.5" font-size="24.5" fill="#1a1a1a" textLength="204" lengthAdjust="spacingAndGlyphs">(about 6.046 nm)</text>
<polygon points="777.2,1621.2 792,1608.9 805.6,1615 813,1627.3 803.1,1634.7 782.2,1640.9" fill="#563a83"/>
<path d="M813 1628H864.7M845 1613.8L864.7 1628L845 1638.4" fill="none" stroke="#6b4c96" stroke-width="1.6"/>
<text x="888" y="1640.9" font-size="24.5" fill="#1a1a1a">Cr<tspan font-size="16" dy="5">2</tspan><tspan dy="-5">N</tspan></text>
</svg>
</body></html>
